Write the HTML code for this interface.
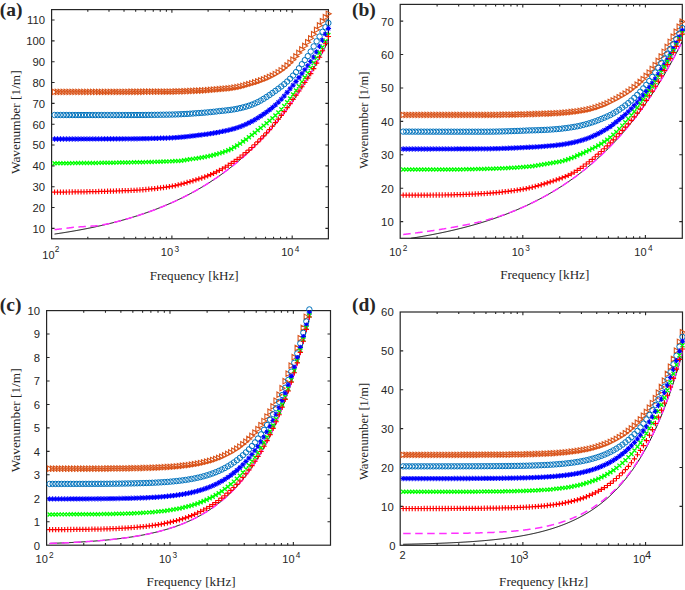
<!DOCTYPE html>
<html><head><meta charset="utf-8"><style>
html,body{margin:0;padding:0;background:#fff;width:685px;height:590px;overflow:hidden}
svg{display:block}
.t{font-family:"Liberation Sans",sans-serif;font-size:11px;fill:#262626}
.s{font-family:"Liberation Sans",sans-serif;font-size:8.3px;fill:#262626}
.l{font-family:"Liberation Serif",serif;font-size:13.1px;fill:#262626}
.p{font-family:"Liberation Serif",serif;font-size:19.5px;font-weight:bold;fill:#262626}
</style></head><body>
<svg width="685" height="590" viewBox="0 0 685 590">
<defs><clipPath id="clipa"><rect x="51.6" y="9.6" width="276.8" height="229.2"/></clipPath><clipPath id="clipb"><rect x="400.2" y="4.4" width="282.1" height="233.9"/></clipPath><clipPath id="clipc"><rect x="46.6" y="310.6" width="283.9" height="234.6"/></clipPath><clipPath id="clipd"><rect x="400.2" y="312" width="282.3" height="233.3"/></clipPath></defs>
<rect x="51.6" y="9.6" width="276.8" height="229.2" fill="none" stroke="#262626" stroke-width="1.2"/><path d="M51.6 228.38h3.0M328.4 228.38h-3.0M51.6 207.55h3.0M328.4 207.55h-3.0M51.6 186.71h3.0M328.4 186.71h-3.0M51.6 165.87h3.0M328.4 165.87h-3.0M51.6 145.04h3.0M328.4 145.04h-3.0M51.6 124.2h3.0M328.4 124.2h-3.0M51.6 103.36h3.0M328.4 103.36h-3.0M51.6 82.53h3.0M328.4 82.53h-3.0M51.6 61.69h3.0M328.4 61.69h-3.0M51.6 40.85h3.0M328.4 40.85h-3.0M51.6 20.02h3.0M328.4 20.02h-3.0M87.81 238.8v-2.1M87.81 9.6v2.1M108.99 238.8v-2.1M108.99 9.6v2.1M124.02 238.8v-2.1M124.02 9.6v2.1M135.68 238.8v-2.1M135.68 9.6v2.1M145.21 238.8v-2.1M145.21 9.6v2.1M153.26 238.8v-2.1M153.26 9.6v2.1M160.24 238.8v-2.1M160.24 9.6v2.1M166.39 238.8v-2.1M166.39 9.6v2.1M171.89 238.8v-3.2M171.89 9.6v3.2M208.11 238.8v-2.1M208.11 9.6v2.1M229.29 238.8v-2.1M229.29 9.6v2.1M244.32 238.8v-2.1M244.32 9.6v2.1M255.98 238.8v-2.1M255.98 9.6v2.1M265.5 238.8v-2.1M265.5 9.6v2.1M273.55 238.8v-2.1M273.55 9.6v2.1M280.53 238.8v-2.1M280.53 9.6v2.1M286.68 238.8v-2.1M286.68 9.6v2.1M292.19 238.8v-3.2M292.19 9.6v3.2" stroke="#262626" stroke-width="1.1"/><rect x="400.2" y="4.4" width="282.1" height="233.9" fill="none" stroke="#262626" stroke-width="1.2"/><path d="M400.2 221.59h3.0M682.3 221.59h-3.0M400.2 188.18h3.0M682.3 188.18h-3.0M400.2 154.76h3.0M682.3 154.76h-3.0M400.2 121.35h3.0M682.3 121.35h-3.0M400.2 87.94h3.0M682.3 87.94h-3.0M400.2 54.52h3.0M682.3 54.52h-3.0M400.2 21.11h3.0M682.3 21.11h-3.0M437.11 238.3v-2.1M437.11 4.4v2.1M458.69 238.3v-2.1M458.69 4.4v2.1M474.01 238.3v-2.1M474.01 4.4v2.1M485.89 238.3v-2.1M485.89 4.4v2.1M495.6 238.3v-2.1M495.6 4.4v2.1M503.81 238.3v-2.1M503.81 4.4v2.1M510.92 238.3v-2.1M510.92 4.4v2.1M517.19 238.3v-2.1M517.19 4.4v2.1M522.8 238.3v-3.2M522.8 4.4v3.2M559.7 238.3v-2.1M559.7 4.4v2.1M581.29 238.3v-2.1M581.29 4.4v2.1M596.61 238.3v-2.1M596.61 4.4v2.1M608.49 238.3v-2.1M608.49 4.4v2.1M618.2 238.3v-2.1M618.2 4.4v2.1M626.4 238.3v-2.1M626.4 4.4v2.1M633.51 238.3v-2.1M633.51 4.4v2.1M639.78 238.3v-2.1M639.78 4.4v2.1M645.39 238.3v-3.2M645.39 4.4v3.2" stroke="#262626" stroke-width="1.1"/><rect x="46.6" y="310.6" width="283.9" height="234.6" fill="none" stroke="#262626" stroke-width="1.2"/><path d="M46.6 521.74h3.0M330.5 521.74h-3.0M46.6 498.28h3.0M330.5 498.28h-3.0M46.6 474.82h3.0M330.5 474.82h-3.0M46.6 451.36h3.0M330.5 451.36h-3.0M46.6 427.9h3.0M330.5 427.9h-3.0M46.6 404.44h3.0M330.5 404.44h-3.0M46.6 380.98h3.0M330.5 380.98h-3.0M46.6 357.52h3.0M330.5 357.52h-3.0M46.6 334.06h3.0M330.5 334.06h-3.0M83.74 545.2v-2.1M83.74 310.6v2.1M105.47 545.2v-2.1M105.47 310.6v2.1M120.88 545.2v-2.1M120.88 310.6v2.1M132.84 545.2v-2.1M132.84 310.6v2.1M142.61 545.2v-2.1M142.61 310.6v2.1M150.87 545.2v-2.1M150.87 310.6v2.1M158.02 545.2v-2.1M158.02 310.6v2.1M164.33 545.2v-2.1M164.33 310.6v2.1M169.98 545.2v-3.2M169.98 310.6v3.2M207.12 545.2v-2.1M207.12 310.6v2.1M228.85 545.2v-2.1M228.85 310.6v2.1M244.26 545.2v-2.1M244.26 310.6v2.1M256.22 545.2v-2.1M256.22 310.6v2.1M265.99 545.2v-2.1M265.99 310.6v2.1M274.25 545.2v-2.1M274.25 310.6v2.1M281.4 545.2v-2.1M281.4 310.6v2.1M287.71 545.2v-2.1M287.71 310.6v2.1M293.36 545.2v-3.2M293.36 310.6v3.2" stroke="#262626" stroke-width="1.1"/><rect x="400.2" y="312" width="282.3" height="233.3" fill="none" stroke="#262626" stroke-width="1.2"/><path d="M400.2 506.42h3.0M682.5 506.42h-3.0M400.2 467.53h3.0M682.5 467.53h-3.0M400.2 428.65h3.0M682.5 428.65h-3.0M400.2 389.77h3.0M682.5 389.77h-3.0M400.2 350.88h3.0M682.5 350.88h-3.0M437.13 545.3v-2.1M437.13 312v2.1M458.74 545.3v-2.1M458.74 312v2.1M474.06 545.3v-2.1M474.06 312v2.1M485.95 545.3v-2.1M485.95 312v2.1M495.67 545.3v-2.1M495.67 312v2.1M503.88 545.3v-2.1M503.88 312v2.1M510.99 545.3v-2.1M510.99 312v2.1M517.27 545.3v-2.1M517.27 312v2.1M522.88 545.3v-3.2M522.88 312v3.2M559.82 545.3v-2.1M559.82 312v2.1M581.42 545.3v-2.1M581.42 312v2.1M596.75 545.3v-2.1M596.75 312v2.1M608.64 545.3v-2.1M608.64 312v2.1M618.35 545.3v-2.1M618.35 312v2.1M626.56 545.3v-2.1M626.56 312v2.1M633.68 545.3v-2.1M633.68 312v2.1M639.95 545.3v-2.1M639.95 312v2.1M645.57 545.3v-3.2M645.57 312v3.2" stroke="#262626" stroke-width="1.1"/>
<g clip-path="url(#clipa)"><path d="M54.55 234.07 L55.23 233.97 L55.92 233.87 L56.61 233.76 L57.29 233.66 L57.98 233.56 L58.66 233.46 L59.35 233.35 L60.04 233.25 L60.72 233.14 L61.41 233.04 L62.1 232.93 L62.78 232.82 L63.47 232.71 L64.15 232.61 L64.84 232.5 L65.53 232.39 L66.21 232.28 L66.9 232.16 L67.59 232.05 L68.27 231.94 L68.96 231.82 L69.65 231.71 L70.33 231.59 L71.02 231.48 L71.7 231.36 L72.39 231.24 L73.08 231.13 L73.76 231.01 L74.45 230.89 L75.14 230.77 L75.82 230.64 L76.51 230.52 L77.2 230.4 L77.88 230.27 L78.57 230.15 L79.25 230.02 L79.94 229.9 L80.63 229.77 L81.31 229.64 L82 229.51 L82.69 229.38 L83.37 229.25 L84.06 229.12 L84.75 228.99 L85.43 228.85 L86.12 228.72 L86.8 228.58 L87.49 228.45 L88.18 228.31 L88.86 228.17 L89.55 228.04 L90.24 227.9 L90.92 227.76 L91.61 227.61 L92.3 227.47 L92.98 227.33 L93.67 227.18 L94.35 227.04 L95.04 226.89 L95.73 226.75 L96.41 226.6 L97.1 226.45 L97.79 226.3 L98.47 226.15 L99.16 226 L99.85 225.84 L100.53 225.69 L101.22 225.53 L101.9 225.38 L102.59 225.22 L103.28 225.06 L103.96 224.9 L104.65 224.74 L105.34 224.58 L106.02 224.42 L106.71 224.26 L107.4 224.09 L108.08 223.92 L108.77 223.76 L109.45 223.59 L110.14 223.42 L110.83 223.25 L111.51 223.08 L112.2 222.91 L112.89 222.73 L113.57 222.56 L114.26 222.38 L114.94 222.21 L115.63 222.03 L116.32 221.85 L117 221.67 L117.69 221.49 L118.38 221.31 L119.06 221.12 L119.75 220.94 L120.44 220.75 L121.12 220.56 L121.81 220.37 L122.49 220.18 L123.18 219.99 L123.87 219.8 L124.55 219.61 L125.24 219.41 L125.93 219.21 L126.61 219.02 L127.3 218.82 L127.99 218.62 L128.67 218.42 L129.36 218.21 L130.04 218.01 L130.73 217.8 L131.42 217.6 L132.1 217.39 L132.79 217.18 L133.48 216.97 L134.16 216.75 L134.85 216.54 L135.54 216.32 L136.22 216.11 L136.91 215.89 L137.59 215.67 L138.28 215.45 L138.97 215.23 L139.65 215 L140.34 214.78 L141.03 214.55 L141.71 214.32 L142.4 214.09 L143.09 213.86 L143.77 213.63 L144.46 213.39 L145.14 213.16 L145.83 212.92 L146.52 212.68 L147.2 212.44 L147.89 212.2 L148.58 211.95 L149.26 211.71 L149.95 211.46 L150.64 211.21 L151.32 210.96 L152.01 210.71 L152.69 210.45 L153.38 210.2 L154.07 209.94 L154.75 209.68 L155.44 209.42 L156.13 209.16 L156.81 208.9 L157.5 208.63 L158.18 208.36 L158.87 208.09 L159.56 207.82 L160.24 207.55 L160.93 207.27 L161.62 207 L162.3 206.72 L162.99 206.44 L163.68 206.16 L164.36 205.87 L165.05 205.59 L165.73 205.3 L166.42 205.01 L167.11 204.72 L167.79 204.43 L168.48 204.13 L169.17 203.83 L169.85 203.53 L170.54 203.23 L171.23 202.93 L171.91 202.63 L172.6 202.32 L173.28 202.01 L173.97 201.7 L174.66 201.39 L175.34 201.07 L176.03 200.75 L176.72 200.43 L177.4 200.11 L178.09 199.79 L178.78 199.46 L179.46 199.13 L180.15 198.8 L180.83 198.47 L181.52 198.14 L182.21 197.8 L182.89 197.46 L183.58 197.12 L184.27 196.78 L184.95 196.43 L185.64 196.08 L186.33 195.73 L187.01 195.38 L187.7 195.03 L188.38 194.67 L189.07 194.31 L189.76 193.95 L190.44 193.58 L191.13 193.22 L191.82 192.85 L192.5 192.48 L193.19 192.1 L193.88 191.73 L194.56 191.35 L195.25 190.97 L195.93 190.58 L196.62 190.2 L197.31 189.81 L197.99 189.42 L198.68 189.02 L199.37 188.62 L200.05 188.22 L200.74 187.82 L201.43 187.42 L202.11 187.01 L202.8 186.6 L203.48 186.19 L204.17 185.77 L204.86 185.35 L205.54 184.93 L206.23 184.51 L206.92 184.08 L207.6 183.65 L208.29 183.22 L208.97 182.79 L209.66 182.35 L210.35 181.91 L211.03 181.47 L211.72 181.02 L212.41 180.57 L213.09 180.12 L213.78 179.66 L214.47 179.2 L215.15 178.74 L215.84 178.28 L216.52 177.81 L217.21 177.34 L217.9 176.87 L218.58 176.39 L219.27 175.91 L219.96 175.43 L220.64 174.94 L221.33 174.45 L222.02 173.96 L222.7 173.46 L223.39 172.96 L224.07 172.46 L224.76 171.95 L225.45 171.44 L226.13 170.93 L226.82 170.42 L227.51 169.9 L228.19 169.37 L228.88 168.85 L229.57 168.32 L230.25 167.78 L230.94 167.25 L231.62 166.71 L232.31 166.16 L233 165.62 L233.68 165.07 L234.37 164.51 L235.06 163.95 L235.74 163.39 L236.43 162.82 L237.12 162.26 L237.8 161.68 L238.49 161.11 L239.17 160.52 L239.86 159.94 L240.55 159.35 L241.23 158.76 L241.92 158.16 L242.61 157.56 L243.29 156.96 L243.98 156.35 L244.67 155.74 L245.35 155.12 L246.04 154.5 L246.72 153.88 L247.41 153.25 L248.1 152.62 L248.78 151.98 L249.47 151.34 L250.16 150.7 L250.84 150.05 L251.53 149.39 L252.22 148.73 L252.9 148.07 L253.59 147.41 L254.27 146.73 L254.96 146.06 L255.65 145.38 L256.33 144.7 L257.02 144.01 L257.71 143.31 L258.39 142.62 L259.08 141.91 L259.76 141.21 L260.45 140.49 L261.14 139.78 L261.82 139.06 L262.51 138.33 L263.2 137.6 L263.88 136.86 L264.57 136.12 L265.26 135.38 L265.94 134.63 L266.63 133.87 L267.31 133.11 L268 132.35 L268.69 131.58 L269.37 130.8 L270.06 130.02 L270.75 129.23 L271.43 128.44 L272.12 127.65 L272.81 126.85 L273.49 126.04 L274.18 125.23 L274.86 124.41 L275.55 123.59 L276.24 122.76 L276.92 121.93 L277.61 121.09 L278.3 120.24 L278.98 119.39 L279.67 118.54 L280.36 117.68 L281.04 116.81 L281.73 115.94 L282.41 115.06 L283.1 114.18 L283.79 113.29 L284.47 112.39 L285.16 111.49 L285.85 110.58 L286.53 109.67 L287.22 108.75 L287.91 107.82 L288.59 106.89 L289.28 105.95 L289.96 105.01 L290.65 104.06 L291.34 103.1 L292.02 102.14 L292.71 101.17 L293.4 100.19 L294.08 99.21 L294.77 98.22 L295.46 97.23 L296.14 96.22 L296.83 95.22 L297.51 94.2 L298.2 93.18 L298.89 92.15 L299.57 91.12 L300.26 90.07 L300.95 89.02 L301.63 87.97 L302.32 86.91 L303.01 85.84 L303.69 84.76 L304.38 83.68 L305.06 82.59 L305.75 81.49 L306.44 80.38 L307.12 79.27 L307.81 78.15 L308.5 77.02 L309.18 75.89 L309.87 74.74 L310.55 73.59 L311.24 72.44 L311.93 71.27 L312.61 70.1 L313.3 68.92 L313.99 67.73 L314.67 66.53 L315.36 65.33 L316.05 64.12 L316.73 62.9 L317.42 61.67 L318.1 60.43 L318.79 59.19 L319.48 57.94 L320.16 56.68 L320.85 55.41 L321.54 54.13 L322.22 52.85 L322.91 51.55 L323.6 50.25 L324.28 48.94 L324.97 47.62 L325.65 46.29 L326.34 44.95 L327.03 43.61 L327.71 42.25 L328.4 40.89" fill="none" stroke="#000" stroke-width="1.0"/><path d="M54.55 229.67 L55.23 229.59 L55.92 229.51 L56.61 229.44 L57.29 229.36 L57.98 229.28 L58.66 229.2 L59.35 229.12 L60.04 229.04 L60.72 228.96 L61.41 228.87 L62.1 228.79 L62.78 228.71 L63.47 228.62 L64.15 228.54 L64.84 228.45 L65.53 228.36 L66.21 228.28 L66.9 228.19 L67.59 228.1 L68.27 228.01 L68.96 227.92 L69.65 227.83 L70.33 227.73 L71.02 227.64 L71.7 227.55 L72.39 227.45 L73.08 227.36 L73.76 227.26 L74.45 227.17 L75.14 227.08 L75.82 227.05 L76.51 227.02 L77.2 226.98 L77.88 226.95 L78.57 226.92 L79.25 226.88 L79.94 226.84 L80.63 226.81 L81.31 226.77 L82 226.73 L82.69 226.69 L83.37 226.65 L84.06 226.6 L84.75 226.56 L85.43 226.52 L86.12 226.47 L86.8 226.43 L87.49 226.38 L88.18 226.34 L88.86 226.3 L89.55 226.25 L90.24 226.21 L90.92 226.16 L91.61 226.12 L92.3 226.07 L92.98 226.03 L93.67 225.98 L94.35 225.93 L95.04 225.88 L95.73 225.83 L96.41 225.78 L97.1 225.72 L97.79 225.67 L98.47 225.57 L99.16 225.44 L99.85 225.32 L100.53 225.2 L101.22 225.07 L101.9 224.94 L102.59 224.82 L103.28 224.69 L103.96 224.56 L104.65 224.43 L105.34 224.3 L106.02 224.16 L106.71 224.03 L107.4 223.89 L108.08 223.76 L108.77 223.62 L109.45 223.48 L110.14 223.34 L110.83 223.2 L111.51 223.06 L112.2 222.91 L112.89 222.73 L113.57 222.56 L114.26 222.38 L114.94 222.21 L115.63 222.03 L116.32 221.85 L117 221.67 L117.69 221.49 L118.38 221.31 L119.06 221.12 L119.75 220.94 L120.44 220.75 L121.12 220.56 L121.81 220.37 L122.49 220.18 L123.18 219.99 L123.87 219.8 L124.55 219.61 L125.24 219.41 L125.93 219.21 L126.61 219.02 L127.3 218.82 L127.99 218.62 L128.67 218.42 L129.36 218.21 L130.04 218.01 L130.73 217.8 L131.42 217.6 L132.1 217.39 L132.79 217.18 L133.48 216.97 L134.16 216.75 L134.85 216.54 L135.54 216.32 L136.22 216.11 L136.91 215.89 L137.59 215.67 L138.28 215.45 L138.97 215.23 L139.65 215 L140.34 214.78 L141.03 214.55 L141.71 214.32 L142.4 214.09 L143.09 213.86 L143.77 213.63 L144.46 213.39 L145.14 213.16 L145.83 212.92 L146.52 212.68 L147.2 212.44 L147.89 212.2 L148.58 211.95 L149.26 211.71 L149.95 211.46 L150.64 211.21 L151.32 210.96 L152.01 210.71 L152.69 210.45 L153.38 210.2 L154.07 209.94 L154.75 209.68 L155.44 209.42 L156.13 209.16 L156.81 208.9 L157.5 208.63 L158.18 208.36 L158.87 208.09 L159.56 207.82 L160.24 207.55 L160.93 207.27 L161.62 207 L162.3 206.72 L162.99 206.44 L163.68 206.16 L164.36 205.87 L165.05 205.59 L165.73 205.3 L166.42 205.01 L167.11 204.72 L167.79 204.43 L168.48 204.13 L169.17 203.83 L169.85 203.53 L170.54 203.23 L171.23 202.93 L171.91 202.63 L172.6 202.32 L173.28 202.01 L173.97 201.7 L174.66 201.39 L175.34 201.07 L176.03 200.75 L176.72 200.43 L177.4 200.11 L178.09 199.79 L178.78 199.46 L179.46 199.13 L180.15 198.8 L180.83 198.47 L181.52 198.14 L182.21 197.8 L182.89 197.46 L183.58 197.12 L184.27 196.78 L184.95 196.43 L185.64 196.08 L186.33 195.73 L187.01 195.38 L187.7 195.03 L188.38 194.67 L189.07 194.31 L189.76 193.95 L190.44 193.58 L191.13 193.22 L191.82 192.85 L192.5 192.48 L193.19 192.1 L193.88 191.73 L194.56 191.35 L195.25 190.97 L195.93 190.58 L196.62 190.2 L197.31 189.81 L197.99 189.42 L198.68 189.02 L199.37 188.62 L200.05 188.22 L200.74 187.82 L201.43 187.42 L202.11 187.01 L202.8 186.6 L203.48 186.19 L204.17 185.77 L204.86 185.35 L205.54 184.93 L206.23 184.51 L206.92 184.08 L207.6 183.65 L208.29 183.22 L208.97 182.79 L209.66 182.35 L210.35 181.91 L211.03 181.47 L211.72 181.02 L212.41 180.57 L213.09 180.12 L213.78 179.66 L214.47 179.2 L215.15 178.74 L215.84 178.28 L216.52 177.81 L217.21 177.34 L217.9 176.87 L218.58 176.39 L219.27 175.91 L219.96 175.43 L220.64 174.94 L221.33 174.45 L222.02 173.96 L222.7 173.46 L223.39 172.96 L224.07 172.46 L224.76 171.95 L225.45 171.44 L226.13 170.93 L226.82 170.42 L227.51 169.9 L228.19 169.37 L228.88 168.85 L229.57 168.32 L230.25 167.78 L230.94 167.25 L231.62 166.71 L232.31 166.16 L233 165.62 L233.68 165.07 L234.37 164.51 L235.06 163.95 L235.74 163.39 L236.43 162.82 L237.12 162.26 L237.8 161.68 L238.49 161.11 L239.17 160.52 L239.86 159.94 L240.55 159.35 L241.23 158.76 L241.92 158.16 L242.61 157.56 L243.29 156.96 L243.98 156.35 L244.67 155.74 L245.35 155.12 L246.04 154.5 L246.72 153.88 L247.41 153.25 L248.1 152.62 L248.78 151.98 L249.47 151.34 L250.16 150.7 L250.84 150.05 L251.53 149.39 L252.22 148.73 L252.9 148.07 L253.59 147.41 L254.27 146.73 L254.96 146.06 L255.65 145.38 L256.33 144.7 L257.02 144.01 L257.71 143.31 L258.39 142.62 L259.08 141.91 L259.76 141.21 L260.45 140.49 L261.14 139.78 L261.82 139.06 L262.51 138.33 L263.2 137.6 L263.88 136.86 L264.57 136.12 L265.26 135.38 L265.94 134.63 L266.63 133.87 L267.31 133.11 L268 132.35 L268.69 131.58 L269.37 130.8 L270.06 130.02 L270.75 129.23 L271.43 128.44 L272.12 127.65 L272.81 126.85 L273.49 126.04 L274.18 125.23 L274.86 124.41 L275.55 123.59 L276.24 122.76 L276.92 121.93 L277.61 121.09 L278.3 120.24 L278.98 119.39 L279.67 118.54 L280.36 117.68 L281.04 116.81 L281.73 115.94 L282.41 115.06 L283.1 114.18 L283.79 113.29 L284.47 112.39 L285.16 111.49 L285.85 110.58 L286.53 109.67 L287.22 108.75 L287.91 107.82 L288.59 106.89 L289.28 105.95 L289.96 105.01 L290.65 104.06 L291.34 103.1 L292.02 102.14 L292.71 101.17 L293.4 100.19 L294.08 99.21 L294.77 98.22 L295.46 97.23 L296.14 96.22 L296.83 95.22 L297.51 94.2 L298.2 93.18 L298.89 92.15 L299.57 91.12 L300.26 90.07 L300.95 89.02 L301.63 87.97 L302.32 86.91 L303.01 85.84 L303.69 84.76 L304.38 83.68 L305.06 82.59 L305.75 81.49 L306.44 80.38 L307.12 79.27 L307.81 78.15 L308.5 77.02 L309.18 75.89 L309.87 74.74 L310.55 73.59 L311.24 72.44 L311.93 71.27 L312.61 70.1 L313.3 68.92 L313.99 67.73 L314.67 66.53 L315.36 65.33 L316.05 64.12 L316.73 62.9 L317.42 61.67 L318.1 60.43 L318.79 59.19 L319.48 57.94 L320.16 56.68 L320.85 55.41 L321.54 54.13 L322.22 52.85 L322.91 51.55 L323.6 50.25 L324.28 48.94 L324.97 47.62 L325.65 46.29 L326.34 44.95 L327.03 43.61 L327.71 42.25 L328.4 40.89" fill="none" stroke="#FF30FF" stroke-width="1.5" stroke-dasharray="7.5 4.5"/></g><path d="M52.35 89.3L57.35 92L52.35 94.7ZM55.29 89.29L60.29 91.99L55.29 94.69ZM58.24 89.29L63.24 91.99L58.24 94.69ZM61.18 89.29L66.18 91.99L61.18 94.69ZM64.12 89.28L69.12 91.98L64.12 94.68ZM67.07 89.28L72.07 91.98L67.07 94.68ZM70.01 89.27L75.01 91.97L70.01 94.67ZM72.96 89.26L77.96 91.96L72.96 94.66ZM75.9 89.26L80.9 91.96L75.9 94.66ZM78.85 89.25L83.85 91.95L78.85 94.65ZM81.79 89.24L86.79 91.94L81.79 94.64ZM84.74 89.24L89.74 91.94L84.74 94.64ZM87.68 89.23L92.68 91.93L87.68 94.63ZM90.63 89.22L95.63 91.92L90.63 94.62ZM93.57 89.21L98.57 91.91L93.57 94.61ZM96.52 89.2L101.52 91.9L96.52 94.6ZM99.46 89.19L104.46 91.89L99.46 94.59ZM102.41 89.19L107.41 91.89L102.41 94.59ZM105.35 89.18L110.35 91.88L105.35 94.58ZM108.29 89.17L113.29 91.87L108.29 94.57ZM111.24 89.16L116.24 91.86L111.24 94.56ZM114.18 89.15L119.18 91.85L114.18 94.55ZM117.13 89.14L122.13 91.84L117.13 94.54ZM120.07 89.13L125.07 91.83L120.07 94.53ZM123.02 89.12L128.02 91.82L123.02 94.52ZM125.96 89.11L130.96 91.81L125.96 94.51ZM128.91 89.1L133.91 91.8L128.91 94.5ZM131.85 89.09L136.85 91.79L131.85 94.49ZM134.8 89.08L139.8 91.78L134.8 94.48ZM137.74 89.07L142.74 91.77L137.74 94.47ZM140.69 89.06L145.69 91.76L140.69 94.46ZM143.63 89.04L148.63 91.74L143.63 94.44ZM146.58 89.03L151.58 91.73L146.58 94.43ZM149.52 89.02L154.52 91.72L149.52 94.42ZM152.46 89.01L157.46 91.71L152.46 94.41ZM155.41 88.99L160.41 91.69L155.41 94.39ZM158.35 88.97L163.35 91.67L158.35 94.37ZM161.3 88.95L166.3 91.65L161.3 94.35ZM164.24 88.93L169.24 91.63L164.24 94.33ZM167.19 88.9L172.19 91.6L167.19 94.3ZM170.13 88.87L175.13 91.57L170.13 94.27ZM173.08 88.82L178.08 91.52L173.08 94.22ZM176.02 88.75L181.02 91.45L176.02 94.15ZM178.97 88.67L183.97 91.37L178.97 94.07ZM181.91 88.57L186.91 91.27L181.91 93.97ZM184.86 88.47L189.86 91.17L184.86 93.87ZM187.8 88.35L192.8 91.05L187.8 93.75ZM190.75 88.22L195.75 90.92L190.75 93.62ZM193.69 88.09L198.69 90.79L193.69 93.49ZM196.63 87.95L201.63 90.65L196.63 93.35ZM199.58 87.81L204.58 90.51L199.58 93.21ZM202.52 87.64L207.52 90.34L202.52 93.04ZM205.47 87.45L210.47 90.15L205.47 92.85ZM208.41 87.24L213.41 89.94L208.41 92.64ZM211.36 87L216.36 89.7L211.36 92.4ZM214.3 86.74L219.3 89.44L214.3 92.14ZM217.25 86.45L222.25 89.15L217.25 91.85ZM220.19 86.26L225.19 88.96L220.19 91.66ZM223.14 86.03L228.14 88.73L223.14 91.43ZM226.08 85.73L231.08 88.43L226.08 91.13ZM229.03 85.37L234.03 88.07L229.03 90.77ZM231.97 84.94L236.97 87.64L231.97 90.34ZM234.92 84.43L239.92 87.13L234.92 89.83ZM237.86 83.88L242.86 86.58L237.86 89.28ZM240.8 83.12L245.8 85.82L240.8 88.52ZM243.75 82.33L248.75 85.03L243.75 87.73ZM246.69 81.49L251.69 84.19L246.69 86.89ZM249.64 80.64L254.64 83.34L249.64 86.04ZM252.58 79.75L257.58 82.45L252.58 85.15ZM255.53 78.81L260.53 81.51L255.53 84.21ZM258.47 77.81L263.47 80.51L258.47 83.21ZM261.42 76.72L266.42 79.42L261.42 82.12ZM264.36 75.58L269.36 78.28L264.36 80.98ZM267.31 74.35L272.31 77.05L267.31 79.75ZM270.25 72.95L275.25 75.65L270.25 78.35ZM273.2 71.37L278.2 74.07L273.2 76.77ZM276.14 69.62L281.14 72.32L276.14 75.02ZM279.09 67.62L284.09 70.32L279.09 73.02ZM282.03 65.32L287.03 68.02L282.03 70.72ZM284.97 62.81L289.97 65.51L284.97 68.21ZM287.92 60.06L292.92 62.76L287.92 65.46ZM290.86 57.01L295.86 59.71L290.86 62.41ZM293.81 53.68L298.81 56.38L293.81 59.08ZM296.75 50.24L301.75 52.94L296.75 55.64ZM299.7 46.75L304.7 49.45L299.7 52.15ZM302.64 43.21L307.64 45.91L302.64 48.61ZM305.59 39.55L310.59 42.25L305.59 44.95ZM308.53 35.67L313.53 38.37L308.53 41.07ZM311.48 31.52L316.48 34.22L311.48 36.92ZM314.42 27.16L319.42 29.86L314.42 32.56ZM317.37 22.79L322.37 25.49L317.37 28.19ZM320.31 18.55L325.31 21.25L320.31 23.95ZM323.26 14.54L328.26 17.24L323.26 19.94ZM326.2 11.11L331.2 13.81L326.2 16.51Z" fill="none" stroke="#D95319" stroke-width="1.1"/><path d="M51.85 115a2.7 2.7 0 1 0 5.4 0a2.7 2.7 0 1 0 -5.4 0M54.79 115.01a2.7 2.7 0 1 0 5.4 0a2.7 2.7 0 1 0 -5.4 0M57.74 115.01a2.7 2.7 0 1 0 5.4 0a2.7 2.7 0 1 0 -5.4 0M60.68 115.02a2.7 2.7 0 1 0 5.4 0a2.7 2.7 0 1 0 -5.4 0M63.62 115.02a2.7 2.7 0 1 0 5.4 0a2.7 2.7 0 1 0 -5.4 0M66.57 115.03a2.7 2.7 0 1 0 5.4 0a2.7 2.7 0 1 0 -5.4 0M69.51 115.03a2.7 2.7 0 1 0 5.4 0a2.7 2.7 0 1 0 -5.4 0M72.46 115.03a2.7 2.7 0 1 0 5.4 0a2.7 2.7 0 1 0 -5.4 0M75.4 115.03a2.7 2.7 0 1 0 5.4 0a2.7 2.7 0 1 0 -5.4 0M78.35 115.04a2.7 2.7 0 1 0 5.4 0a2.7 2.7 0 1 0 -5.4 0M81.29 115.04a2.7 2.7 0 1 0 5.4 0a2.7 2.7 0 1 0 -5.4 0M84.24 115.04a2.7 2.7 0 1 0 5.4 0a2.7 2.7 0 1 0 -5.4 0M87.18 115.04a2.7 2.7 0 1 0 5.4 0a2.7 2.7 0 1 0 -5.4 0M90.13 115.04a2.7 2.7 0 1 0 5.4 0a2.7 2.7 0 1 0 -5.4 0M93.07 115.05a2.7 2.7 0 1 0 5.4 0a2.7 2.7 0 1 0 -5.4 0M96.02 115.05a2.7 2.7 0 1 0 5.4 0a2.7 2.7 0 1 0 -5.4 0M98.96 115.05a2.7 2.7 0 1 0 5.4 0a2.7 2.7 0 1 0 -5.4 0M101.91 115.05a2.7 2.7 0 1 0 5.4 0a2.7 2.7 0 1 0 -5.4 0M104.85 115.05a2.7 2.7 0 1 0 5.4 0a2.7 2.7 0 1 0 -5.4 0M107.79 115.05a2.7 2.7 0 1 0 5.4 0a2.7 2.7 0 1 0 -5.4 0M110.74 115.05a2.7 2.7 0 1 0 5.4 0a2.7 2.7 0 1 0 -5.4 0M113.68 115.05a2.7 2.7 0 1 0 5.4 0a2.7 2.7 0 1 0 -5.4 0M116.63 115.05a2.7 2.7 0 1 0 5.4 0a2.7 2.7 0 1 0 -5.4 0M119.57 115.05a2.7 2.7 0 1 0 5.4 0a2.7 2.7 0 1 0 -5.4 0M122.52 115.05a2.7 2.7 0 1 0 5.4 0a2.7 2.7 0 1 0 -5.4 0M125.46 115.05a2.7 2.7 0 1 0 5.4 0a2.7 2.7 0 1 0 -5.4 0M128.41 115.05a2.7 2.7 0 1 0 5.4 0a2.7 2.7 0 1 0 -5.4 0M131.35 115.04a2.7 2.7 0 1 0 5.4 0a2.7 2.7 0 1 0 -5.4 0M134.3 115.03a2.7 2.7 0 1 0 5.4 0a2.7 2.7 0 1 0 -5.4 0M137.24 115.01a2.7 2.7 0 1 0 5.4 0a2.7 2.7 0 1 0 -5.4 0M140.19 114.99a2.7 2.7 0 1 0 5.4 0a2.7 2.7 0 1 0 -5.4 0M143.13 114.97a2.7 2.7 0 1 0 5.4 0a2.7 2.7 0 1 0 -5.4 0M146.08 114.93a2.7 2.7 0 1 0 5.4 0a2.7 2.7 0 1 0 -5.4 0M149.02 114.9a2.7 2.7 0 1 0 5.4 0a2.7 2.7 0 1 0 -5.4 0M151.96 114.86a2.7 2.7 0 1 0 5.4 0a2.7 2.7 0 1 0 -5.4 0M154.91 114.82a2.7 2.7 0 1 0 5.4 0a2.7 2.7 0 1 0 -5.4 0M157.85 114.77a2.7 2.7 0 1 0 5.4 0a2.7 2.7 0 1 0 -5.4 0M160.8 114.72a2.7 2.7 0 1 0 5.4 0a2.7 2.7 0 1 0 -5.4 0M163.74 114.67a2.7 2.7 0 1 0 5.4 0a2.7 2.7 0 1 0 -5.4 0M166.69 114.61a2.7 2.7 0 1 0 5.4 0a2.7 2.7 0 1 0 -5.4 0M169.63 114.54a2.7 2.7 0 1 0 5.4 0a2.7 2.7 0 1 0 -5.4 0M172.58 114.45a2.7 2.7 0 1 0 5.4 0a2.7 2.7 0 1 0 -5.4 0M175.52 114.34a2.7 2.7 0 1 0 5.4 0a2.7 2.7 0 1 0 -5.4 0M178.47 114.2a2.7 2.7 0 1 0 5.4 0a2.7 2.7 0 1 0 -5.4 0M181.41 114.05a2.7 2.7 0 1 0 5.4 0a2.7 2.7 0 1 0 -5.4 0M184.36 113.88a2.7 2.7 0 1 0 5.4 0a2.7 2.7 0 1 0 -5.4 0M187.3 113.69a2.7 2.7 0 1 0 5.4 0a2.7 2.7 0 1 0 -5.4 0M190.25 113.5a2.7 2.7 0 1 0 5.4 0a2.7 2.7 0 1 0 -5.4 0M193.19 113.29a2.7 2.7 0 1 0 5.4 0a2.7 2.7 0 1 0 -5.4 0M196.13 113.08a2.7 2.7 0 1 0 5.4 0a2.7 2.7 0 1 0 -5.4 0M199.08 112.86a2.7 2.7 0 1 0 5.4 0a2.7 2.7 0 1 0 -5.4 0M202.02 112.63a2.7 2.7 0 1 0 5.4 0a2.7 2.7 0 1 0 -5.4 0M204.97 112.37a2.7 2.7 0 1 0 5.4 0a2.7 2.7 0 1 0 -5.4 0M207.91 112.08a2.7 2.7 0 1 0 5.4 0a2.7 2.7 0 1 0 -5.4 0M210.86 111.78a2.7 2.7 0 1 0 5.4 0a2.7 2.7 0 1 0 -5.4 0M213.8 111.45a2.7 2.7 0 1 0 5.4 0a2.7 2.7 0 1 0 -5.4 0M216.75 111.09a2.7 2.7 0 1 0 5.4 0a2.7 2.7 0 1 0 -5.4 0M219.69 110.8a2.7 2.7 0 1 0 5.4 0a2.7 2.7 0 1 0 -5.4 0M222.64 110.5a2.7 2.7 0 1 0 5.4 0a2.7 2.7 0 1 0 -5.4 0M225.58 110.16a2.7 2.7 0 1 0 5.4 0a2.7 2.7 0 1 0 -5.4 0M228.53 109.78a2.7 2.7 0 1 0 5.4 0a2.7 2.7 0 1 0 -5.4 0M231.47 109.32a2.7 2.7 0 1 0 5.4 0a2.7 2.7 0 1 0 -5.4 0M234.42 108.77a2.7 2.7 0 1 0 5.4 0a2.7 2.7 0 1 0 -5.4 0M237.36 108.13a2.7 2.7 0 1 0 5.4 0a2.7 2.7 0 1 0 -5.4 0M240.3 107.42a2.7 2.7 0 1 0 5.4 0a2.7 2.7 0 1 0 -5.4 0M243.25 106.63a2.7 2.7 0 1 0 5.4 0a2.7 2.7 0 1 0 -5.4 0M246.19 105.73a2.7 2.7 0 1 0 5.4 0a2.7 2.7 0 1 0 -5.4 0M249.14 104.69a2.7 2.7 0 1 0 5.4 0a2.7 2.7 0 1 0 -5.4 0M252.08 103.5a2.7 2.7 0 1 0 5.4 0a2.7 2.7 0 1 0 -5.4 0M255.03 102.14a2.7 2.7 0 1 0 5.4 0a2.7 2.7 0 1 0 -5.4 0M257.97 100.57a2.7 2.7 0 1 0 5.4 0a2.7 2.7 0 1 0 -5.4 0M260.92 98.82a2.7 2.7 0 1 0 5.4 0a2.7 2.7 0 1 0 -5.4 0M263.86 96.97a2.7 2.7 0 1 0 5.4 0a2.7 2.7 0 1 0 -5.4 0M266.81 95a2.7 2.7 0 1 0 5.4 0a2.7 2.7 0 1 0 -5.4 0M269.75 92.96a2.7 2.7 0 1 0 5.4 0a2.7 2.7 0 1 0 -5.4 0M272.7 90.86a2.7 2.7 0 1 0 5.4 0a2.7 2.7 0 1 0 -5.4 0M275.64 88.7a2.7 2.7 0 1 0 5.4 0a2.7 2.7 0 1 0 -5.4 0M278.59 86.48a2.7 2.7 0 1 0 5.4 0a2.7 2.7 0 1 0 -5.4 0M281.53 84.15a2.7 2.7 0 1 0 5.4 0a2.7 2.7 0 1 0 -5.4 0M284.47 81.53a2.7 2.7 0 1 0 5.4 0a2.7 2.7 0 1 0 -5.4 0M287.42 78.67a2.7 2.7 0 1 0 5.4 0a2.7 2.7 0 1 0 -5.4 0M290.36 75.57a2.7 2.7 0 1 0 5.4 0a2.7 2.7 0 1 0 -5.4 0M293.31 72.14a2.7 2.7 0 1 0 5.4 0a2.7 2.7 0 1 0 -5.4 0M296.25 68.33a2.7 2.7 0 1 0 5.4 0a2.7 2.7 0 1 0 -5.4 0M299.2 64.2a2.7 2.7 0 1 0 5.4 0a2.7 2.7 0 1 0 -5.4 0M302.14 60.14a2.7 2.7 0 1 0 5.4 0a2.7 2.7 0 1 0 -5.4 0M305.09 56.14a2.7 2.7 0 1 0 5.4 0a2.7 2.7 0 1 0 -5.4 0M308.03 51.59a2.7 2.7 0 1 0 5.4 0a2.7 2.7 0 1 0 -5.4 0M310.98 46.4a2.7 2.7 0 1 0 5.4 0a2.7 2.7 0 1 0 -5.4 0M313.92 41.31a2.7 2.7 0 1 0 5.4 0a2.7 2.7 0 1 0 -5.4 0M316.87 36.54a2.7 2.7 0 1 0 5.4 0a2.7 2.7 0 1 0 -5.4 0M319.81 31.79a2.7 2.7 0 1 0 5.4 0a2.7 2.7 0 1 0 -5.4 0M322.76 27.19a2.7 2.7 0 1 0 5.4 0a2.7 2.7 0 1 0 -5.4 0M325.7 23.01a2.7 2.7 0 1 0 5.4 0a2.7 2.7 0 1 0 -5.4 0" fill="none" stroke="#0072BD" stroke-width="1.0"/><path d="M51.9 139h5.3M54.55 136.35v5.3M52.65 137.1l3.8 3.8M52.65 140.9l3.8 -3.8M54.84 139h5.3M57.49 136.35v5.3M55.59 137.1l3.8 3.8M55.59 140.9l3.8 -3.8M57.79 139h5.3M60.44 136.35v5.3M58.54 137.1l3.8 3.8M58.54 140.9l3.8 -3.8M60.73 139h5.3M63.38 136.35v5.3M61.48 137.1l3.8 3.8M61.48 140.9l3.8 -3.8M63.67 138.99h5.3M66.32 136.34v5.3M64.42 137.09l3.8 3.8M64.42 140.89l3.8 -3.8M66.62 138.99h5.3M69.27 136.34v5.3M67.37 137.09l3.8 3.8M67.37 140.89l3.8 -3.8M69.56 138.99h5.3M72.21 136.34v5.3M70.31 137.09l3.8 3.8M70.31 140.89l3.8 -3.8M72.51 138.98h5.3M75.16 136.33v5.3M73.26 137.08l3.8 3.8M73.26 140.88l3.8 -3.8M75.45 138.98h5.3M78.1 136.33v5.3M76.2 137.08l3.8 3.8M76.2 140.88l3.8 -3.8M78.4 138.97h5.3M81.05 136.32v5.3M79.15 137.07l3.8 3.8M79.15 140.87l3.8 -3.8M81.34 138.97h5.3M83.99 136.32v5.3M82.09 137.07l3.8 3.8M82.09 140.87l3.8 -3.8M84.29 138.96h5.3M86.94 136.31v5.3M85.04 137.06l3.8 3.8M85.04 140.86l3.8 -3.8M87.23 138.95h5.3M89.88 136.3v5.3M87.98 137.05l3.8 3.8M87.98 140.85l3.8 -3.8M90.18 138.94h5.3M92.83 136.29v5.3M90.93 137.04l3.8 3.8M90.93 140.84l3.8 -3.8M93.12 138.94h5.3M95.77 136.29v5.3M93.87 137.04l3.8 3.8M93.87 140.84l3.8 -3.8M96.07 138.93h5.3M98.72 136.28v5.3M96.82 137.03l3.8 3.8M96.82 140.83l3.8 -3.8M99.01 138.92h5.3M101.66 136.27v5.3M99.76 137.02l3.8 3.8M99.76 140.82l3.8 -3.8M101.96 138.91h5.3M104.61 136.26v5.3M102.71 137.01l3.8 3.8M102.71 140.81l3.8 -3.8M104.9 138.9h5.3M107.55 136.25v5.3M105.65 137l3.8 3.8M105.65 140.8l3.8 -3.8M107.84 138.89h5.3M110.49 136.24v5.3M108.59 136.99l3.8 3.8M108.59 140.79l3.8 -3.8M110.79 138.88h5.3M113.44 136.23v5.3M111.54 136.98l3.8 3.8M111.54 140.78l3.8 -3.8M113.73 138.86h5.3M116.38 136.21v5.3M114.48 136.96l3.8 3.8M114.48 140.76l3.8 -3.8M116.68 138.85h5.3M119.33 136.2v5.3M117.43 136.95l3.8 3.8M117.43 140.75l3.8 -3.8M119.62 138.84h5.3M122.27 136.19v5.3M120.37 136.94l3.8 3.8M120.37 140.74l3.8 -3.8M122.57 138.82h5.3M125.22 136.17v5.3M123.32 136.92l3.8 3.8M123.32 140.72l3.8 -3.8M125.51 138.81h5.3M128.16 136.16v5.3M126.26 136.91l3.8 3.8M126.26 140.71l3.8 -3.8M128.46 138.79h5.3M131.11 136.14v5.3M129.21 136.89l3.8 3.8M129.21 140.69l3.8 -3.8M131.4 138.77h5.3M134.05 136.12v5.3M132.15 136.87l3.8 3.8M132.15 140.67l3.8 -3.8M134.35 138.74h5.3M137 136.09v5.3M135.1 136.84l3.8 3.8M135.1 140.64l3.8 -3.8M137.29 138.7h5.3M139.94 136.05v5.3M138.04 136.8l3.8 3.8M138.04 140.6l3.8 -3.8M140.24 138.65h5.3M142.89 136v5.3M140.99 136.75l3.8 3.8M140.99 140.55l3.8 -3.8M143.18 138.6h5.3M145.83 135.95v5.3M143.93 136.7l3.8 3.8M143.93 140.5l3.8 -3.8M146.13 138.54h5.3M148.78 135.89v5.3M146.88 136.64l3.8 3.8M146.88 140.44l3.8 -3.8M149.07 138.47h5.3M151.72 135.82v5.3M149.82 136.57l3.8 3.8M149.82 140.37l3.8 -3.8M152.01 138.39h5.3M154.66 135.74v5.3M152.76 136.49l3.8 3.8M152.76 140.29l3.8 -3.8M154.96 138.31h5.3M157.61 135.66v5.3M155.71 136.41l3.8 3.8M155.71 140.21l3.8 -3.8M157.9 138.22h5.3M160.55 135.57v5.3M158.65 136.32l3.8 3.8M158.65 140.12l3.8 -3.8M160.85 138.13h5.3M163.5 135.48v5.3M161.6 136.23l3.8 3.8M161.6 140.03l3.8 -3.8M163.79 138.03h5.3M166.44 135.38v5.3M164.54 136.13l3.8 3.8M164.54 139.93l3.8 -3.8M166.74 137.92h5.3M169.39 135.27v5.3M167.49 136.02l3.8 3.8M167.49 139.82l3.8 -3.8M169.68 137.79h5.3M172.33 135.14v5.3M170.43 135.89l3.8 3.8M170.43 139.69l3.8 -3.8M172.63 137.62h5.3M175.28 134.97v5.3M173.38 135.72l3.8 3.8M173.38 139.52l3.8 -3.8M175.57 137.41h5.3M178.22 134.76v5.3M176.32 135.51l3.8 3.8M176.32 139.31l3.8 -3.8M178.52 137.16h5.3M181.17 134.51v5.3M179.27 135.26l3.8 3.8M179.27 139.06l3.8 -3.8M181.46 136.89h5.3M184.11 134.24v5.3M182.21 134.99l3.8 3.8M182.21 138.79l3.8 -3.8M184.41 136.58h5.3M187.06 133.93v5.3M185.16 134.68l3.8 3.8M185.16 138.48l3.8 -3.8M187.35 136.25h5.3M190 133.6v5.3M188.1 134.35l3.8 3.8M188.1 138.15l3.8 -3.8M190.3 135.9h5.3M192.95 133.25v5.3M191.05 134l3.8 3.8M191.05 137.8l3.8 -3.8M193.24 135.53h5.3M195.89 132.88v5.3M193.99 133.63l3.8 3.8M193.99 137.43l3.8 -3.8M196.18 135.15h5.3M198.83 132.5v5.3M196.93 133.25l3.8 3.8M196.93 137.05l3.8 -3.8M199.13 134.8h5.3M201.78 132.15v5.3M199.88 132.9l3.8 3.8M199.88 136.7l3.8 -3.8M202.07 134.45h5.3M204.72 131.8v5.3M202.82 132.55l3.8 3.8M202.82 136.35l3.8 -3.8M205.02 134.06h5.3M207.67 131.41v5.3M205.77 132.16l3.8 3.8M205.77 135.96l3.8 -3.8M207.96 133.61h5.3M210.61 130.96v5.3M208.71 131.71l3.8 3.8M208.71 135.51l3.8 -3.8M210.91 133.13h5.3M213.56 130.48v5.3M211.66 131.23l3.8 3.8M211.66 135.03l3.8 -3.8M213.85 132.6h5.3M216.5 129.95v5.3M214.6 130.7l3.8 3.8M214.6 134.5l3.8 -3.8M216.8 132.04h5.3M219.45 129.39v5.3M217.55 130.14l3.8 3.8M217.55 133.94l3.8 -3.8M219.74 131.45h5.3M222.39 128.8v5.3M220.49 129.55l3.8 3.8M220.49 133.35l3.8 -3.8M222.69 130.83h5.3M225.34 128.18v5.3M223.44 128.93l3.8 3.8M223.44 132.73l3.8 -3.8M225.63 130.18h5.3M228.28 127.53v5.3M226.38 128.28l3.8 3.8M226.38 132.08l3.8 -3.8M228.58 129.47h5.3M231.23 126.82v5.3M229.33 127.57l3.8 3.8M229.33 131.37l3.8 -3.8M231.52 128.64h5.3M234.17 125.99v5.3M232.27 126.74l3.8 3.8M232.27 130.54l3.8 -3.8M234.47 127.71h5.3M237.12 125.06v5.3M235.22 125.81l3.8 3.8M235.22 129.61l3.8 -3.8M237.41 126.68h5.3M240.06 124.03v5.3M238.16 124.78l3.8 3.8M238.16 128.58l3.8 -3.8M240.35 125.55h5.3M243 122.9v5.3M241.1 123.65l3.8 3.8M241.1 127.45l3.8 -3.8M243.3 124.29h5.3M245.95 121.64v5.3M244.05 122.39l3.8 3.8M244.05 126.19l3.8 -3.8M246.24 122.91h5.3M248.89 120.26v5.3M246.99 121.01l3.8 3.8M246.99 124.81l3.8 -3.8M249.19 121.39h5.3M251.84 118.74v5.3M249.94 119.49l3.8 3.8M249.94 123.29l3.8 -3.8M252.13 119.74h5.3M254.78 117.09v5.3M252.88 117.84l3.8 3.8M252.88 121.64l3.8 -3.8M255.08 117.96h5.3M257.73 115.31v5.3M255.83 116.06l3.8 3.8M255.83 119.86l3.8 -3.8M258.02 116.09h5.3M260.67 113.44v5.3M258.77 114.19l3.8 3.8M258.77 117.99l3.8 -3.8M260.97 114.11h5.3M263.62 111.46v5.3M261.72 112.21l3.8 3.8M261.72 116.01l3.8 -3.8M263.91 112.03h5.3M266.56 109.38v5.3M264.66 110.13l3.8 3.8M264.66 113.93l3.8 -3.8M266.86 109.84h5.3M269.51 107.19v5.3M267.61 107.94l3.8 3.8M267.61 111.74l3.8 -3.8M269.8 107.48h5.3M272.45 104.83v5.3M270.55 105.58l3.8 3.8M270.55 109.38l3.8 -3.8M272.75 104.94h5.3M275.4 102.29v5.3M273.5 103.04l3.8 3.8M273.5 106.84l3.8 -3.8M275.69 102.19h5.3M278.34 99.54v5.3M276.44 100.29l3.8 3.8M276.44 104.09l3.8 -3.8M278.64 99.21h5.3M281.29 96.56v5.3M279.39 97.31l3.8 3.8M279.39 101.11l3.8 -3.8M281.58 96.01h5.3M284.23 93.36v5.3M282.33 94.11l3.8 3.8M282.33 97.91l3.8 -3.8M284.52 92.38h5.3M287.17 89.73v5.3M285.27 90.48l3.8 3.8M285.27 94.28l3.8 -3.8M287.47 88.74h5.3M290.12 86.09v5.3M288.22 86.84l3.8 3.8M288.22 90.64l3.8 -3.8M290.41 85.18h5.3M293.06 82.53v5.3M291.16 83.28l3.8 3.8M291.16 87.08l3.8 -3.8M293.36 81.48h5.3M296.01 78.83v5.3M294.11 79.58l3.8 3.8M294.11 83.38l3.8 -3.8M296.3 77.66h5.3M298.95 75.01v5.3M297.05 75.76l3.8 3.8M297.05 79.56l3.8 -3.8M299.25 73.77h5.3M301.9 71.12v5.3M300 71.87l3.8 3.8M300 75.67l3.8 -3.8M302.19 69.8h5.3M304.84 67.15v5.3M302.94 67.9l3.8 3.8M302.94 71.7l3.8 -3.8M305.14 65.73h5.3M307.79 63.08v5.3M305.89 63.83l3.8 3.8M305.89 67.63l3.8 -3.8M308.08 61.53h5.3M310.73 58.88v5.3M308.83 59.63l3.8 3.8M308.83 63.43l3.8 -3.8M311.03 57.01h5.3M313.68 54.36v5.3M311.78 55.11l3.8 3.8M311.78 58.91l3.8 -3.8M313.97 51.84h5.3M316.62 49.19v5.3M314.72 49.94l3.8 3.8M314.72 53.74l3.8 -3.8M316.92 46.28h5.3M319.57 43.63v5.3M317.67 44.38l3.8 3.8M317.67 48.18l3.8 -3.8M319.86 40.3h5.3M322.51 37.65v5.3M320.61 38.4l3.8 3.8M320.61 42.2l3.8 -3.8M322.81 34.08h5.3M325.46 31.43v5.3M323.56 32.18l3.8 3.8M323.56 35.98l3.8 -3.8M325.75 28.57h5.3M328.4 25.92v5.3M326.5 26.67l3.8 3.8M326.5 30.47l3.8 -3.8" fill="none" stroke="#0000FF" stroke-width="1.1"/><path d="M52.55 161.2l4.0 4.0M52.55 165.2l4.0 -4.0M55.49 161.19l4.0 4.0M55.49 165.19l4.0 -4.0M58.44 161.19l4.0 4.0M58.44 165.19l4.0 -4.0M61.38 161.18l4.0 4.0M61.38 165.18l4.0 -4.0M64.32 161.17l4.0 4.0M64.32 165.17l4.0 -4.0M67.27 161.15l4.0 4.0M67.27 165.15l4.0 -4.0M70.21 161.13l4.0 4.0M70.21 165.13l4.0 -4.0M73.16 161.11l4.0 4.0M73.16 165.11l4.0 -4.0M76.1 161.09l4.0 4.0M76.1 165.09l4.0 -4.0M79.05 161.06l4.0 4.0M79.05 165.06l4.0 -4.0M81.99 161.03l4.0 4.0M81.99 165.03l4.0 -4.0M84.94 161l4.0 4.0M84.94 165l4.0 -4.0M87.88 160.97l4.0 4.0M87.88 164.97l4.0 -4.0M90.83 160.94l4.0 4.0M90.83 164.94l4.0 -4.0M93.77 160.9l4.0 4.0M93.77 164.9l4.0 -4.0M96.72 160.87l4.0 4.0M96.72 164.87l4.0 -4.0M99.66 160.83l4.0 4.0M99.66 164.83l4.0 -4.0M102.61 160.79l4.0 4.0M102.61 164.79l4.0 -4.0M105.55 160.75l4.0 4.0M105.55 164.75l4.0 -4.0M108.49 160.7l4.0 4.0M108.49 164.7l4.0 -4.0M111.44 160.66l4.0 4.0M111.44 164.66l4.0 -4.0M114.38 160.62l4.0 4.0M114.38 164.62l4.0 -4.0M117.33 160.57l4.0 4.0M117.33 164.57l4.0 -4.0M120.27 160.52l4.0 4.0M120.27 164.52l4.0 -4.0M123.22 160.48l4.0 4.0M123.22 164.48l4.0 -4.0M126.16 160.43l4.0 4.0M126.16 164.43l4.0 -4.0M129.11 160.38l4.0 4.0M129.11 164.38l4.0 -4.0M132.05 160.33l4.0 4.0M132.05 164.33l4.0 -4.0M135 160.28l4.0 4.0M135 164.28l4.0 -4.0M137.94 160.23l4.0 4.0M137.94 164.23l4.0 -4.0M140.89 160.17l4.0 4.0M140.89 164.17l4.0 -4.0M143.83 160.11l4.0 4.0M143.83 164.11l4.0 -4.0M146.78 160.04l4.0 4.0M146.78 164.04l4.0 -4.0M149.72 159.97l4.0 4.0M149.72 163.97l4.0 -4.0M152.66 159.89l4.0 4.0M152.66 163.89l4.0 -4.0M155.61 159.8l4.0 4.0M155.61 163.8l4.0 -4.0M158.55 159.71l4.0 4.0M158.55 163.71l4.0 -4.0M161.5 159.6l4.0 4.0M161.5 163.6l4.0 -4.0M164.44 159.48l4.0 4.0M164.44 163.48l4.0 -4.0M167.39 159.36l4.0 4.0M167.39 163.36l4.0 -4.0M170.33 159.22l4.0 4.0M170.33 163.22l4.0 -4.0M173.28 159.07l4.0 4.0M173.28 163.07l4.0 -4.0M176.22 158.9l4.0 4.0M176.22 162.9l4.0 -4.0M179.17 158.67l4.0 4.0M179.17 162.67l4.0 -4.0M182.11 158.32l4.0 4.0M182.11 162.32l4.0 -4.0M185.06 157.84l4.0 4.0M185.06 161.84l4.0 -4.0M188 157.29l4.0 4.0M188 161.29l4.0 -4.0M190.95 156.87l4.0 4.0M190.95 160.87l4.0 -4.0M193.89 156.45l4.0 4.0M193.89 160.45l4.0 -4.0M196.83 156l4.0 4.0M196.83 160l4.0 -4.0M199.78 155.51l4.0 4.0M199.78 159.51l4.0 -4.0M202.72 154.97l4.0 4.0M202.72 158.97l4.0 -4.0M205.67 154.38l4.0 4.0M205.67 158.38l4.0 -4.0M208.61 153.73l4.0 4.0M208.61 157.73l4.0 -4.0M211.56 153.01l4.0 4.0M211.56 157.01l4.0 -4.0M214.5 152.22l4.0 4.0M214.5 156.22l4.0 -4.0M217.45 151.37l4.0 4.0M217.45 155.37l4.0 -4.0M220.39 150.42l4.0 4.0M220.39 154.42l4.0 -4.0M223.34 149.37l4.0 4.0M223.34 153.37l4.0 -4.0M226.28 148.2l4.0 4.0M226.28 152.2l4.0 -4.0M229.23 146.91l4.0 4.0M229.23 150.91l4.0 -4.0M232.17 145.32l4.0 4.0M232.17 149.32l4.0 -4.0M235.12 143.53l4.0 4.0M235.12 147.53l4.0 -4.0M238.06 141.62l4.0 4.0M238.06 145.62l4.0 -4.0M241 139.59l4.0 4.0M241 143.59l4.0 -4.0M243.95 137.46l4.0 4.0M243.95 141.46l4.0 -4.0M246.89 135.26l4.0 4.0M246.89 139.26l4.0 -4.0M249.84 132.99l4.0 4.0M249.84 136.99l4.0 -4.0M252.78 130.67l4.0 4.0M252.78 134.67l4.0 -4.0M255.73 128.32l4.0 4.0M255.73 132.32l4.0 -4.0M258.67 125.97l4.0 4.0M258.67 129.97l4.0 -4.0M261.62 123.61l4.0 4.0M261.62 127.61l4.0 -4.0M264.56 121.22l4.0 4.0M264.56 125.22l4.0 -4.0M267.51 118.8l4.0 4.0M267.51 122.8l4.0 -4.0M270.45 116.27l4.0 4.0M270.45 120.27l4.0 -4.0M273.4 113.56l4.0 4.0M273.4 117.56l4.0 -4.0M276.34 110.56l4.0 4.0M276.34 114.56l4.0 -4.0M279.29 107.38l4.0 4.0M279.29 111.38l4.0 -4.0M282.23 103.98l4.0 4.0M282.23 107.98l4.0 -4.0M285.17 100.34l4.0 4.0M285.17 104.34l4.0 -4.0M288.12 96.51l4.0 4.0M288.12 100.51l4.0 -4.0M291.06 92.54l4.0 4.0M291.06 96.54l4.0 -4.0M294.01 88.41l4.0 4.0M294.01 92.41l4.0 -4.0M296.95 84.16l4.0 4.0M296.95 88.16l4.0 -4.0M299.9 79.88l4.0 4.0M299.9 83.88l4.0 -4.0M302.84 75.51l4.0 4.0M302.84 79.51l4.0 -4.0M305.79 70.94l4.0 4.0M305.79 74.94l4.0 -4.0M308.73 66.08l4.0 4.0M308.73 70.08l4.0 -4.0M311.68 61.01l4.0 4.0M311.68 65.01l4.0 -4.0M314.62 55.92l4.0 4.0M314.62 59.92l4.0 -4.0M317.57 50.76l4.0 4.0M317.57 54.76l4.0 -4.0M320.51 45.23l4.0 4.0M320.51 49.23l4.0 -4.0M323.46 39.26l4.0 4.0M323.46 43.26l4.0 -4.0M326.4 33.01l4.0 4.0M326.4 37.01l4.0 -4.0" fill="none" stroke="#00FF00" stroke-width="1.35"/><path d="M51.9 192.1h5.3M54.55 189.45v5.3M54.84 192.09h5.3M57.49 189.44v5.3M57.79 192.08h5.3M60.44 189.43v5.3M60.73 192.06h5.3M63.38 189.41v5.3M63.67 192.04h5.3M66.32 189.39v5.3M66.62 192.01h5.3M69.27 189.36v5.3M69.56 191.98h5.3M72.21 189.33v5.3M72.51 191.94h5.3M75.16 189.29v5.3M75.45 191.9h5.3M78.1 189.25v5.3M78.4 191.85h5.3M81.05 189.2v5.3M81.34 191.8h5.3M83.99 189.15v5.3M84.29 191.74h5.3M86.94 189.09v5.3M87.23 191.68h5.3M89.88 189.03v5.3M90.18 191.62h5.3M92.83 188.97v5.3M93.12 191.55h5.3M95.77 188.9v5.3M96.07 191.48h5.3M98.72 188.83v5.3M99.01 191.4h5.3M101.66 188.75v5.3M101.96 191.32h5.3M104.61 188.67v5.3M104.9 191.24h5.3M107.55 188.59v5.3M107.84 191.15h5.3M110.49 188.5v5.3M110.79 191.06h5.3M113.44 188.41v5.3M113.73 190.97h5.3M116.38 188.32v5.3M116.68 190.87h5.3M119.33 188.22v5.3M119.62 190.77h5.3M122.27 188.12v5.3M122.57 190.67h5.3M125.22 188.02v5.3M125.51 190.57h5.3M128.16 187.92v5.3M128.46 190.45h5.3M131.11 187.8v5.3M131.4 190.31h5.3M134.05 187.66v5.3M134.35 190.15h5.3M137 187.5v5.3M137.29 189.95h5.3M139.94 187.3v5.3M140.24 189.73h5.3M142.89 187.08v5.3M143.18 189.48h5.3M145.83 186.83v5.3M146.13 189.2h5.3M148.78 186.55v5.3M149.07 188.9h5.3M151.72 186.25v5.3M152.01 188.58h5.3M154.66 185.93v5.3M154.96 188.24h5.3M157.61 185.59v5.3M157.9 187.88h5.3M160.55 185.23v5.3M160.85 187.49h5.3M163.5 184.84v5.3M163.79 187.1h5.3M166.44 184.45v5.3M166.74 186.67h5.3M169.39 184.02v5.3M169.68 186.19h5.3M172.33 183.54v5.3M172.63 185.6h5.3M175.28 182.95v5.3M175.57 184.92h5.3M178.22 182.27v5.3M178.52 184.19h5.3M181.17 181.54v5.3M181.46 183.38h5.3M184.11 180.73v5.3M184.41 182.5h5.3M187.06 179.85v5.3M187.35 181.55h5.3M190 178.9v5.3M190.3 180.75h5.3M192.95 178.1v5.3M193.24 179.88h5.3M195.89 177.23v5.3M196.18 178.94h5.3M198.83 176.29v5.3M199.13 177.98h5.3M201.78 175.33v5.3M202.07 176.98h5.3M204.72 174.33v5.3M205.02 175.89h5.3M207.67 173.24v5.3M207.96 174.69h5.3M210.61 172.04v5.3M210.91 173.33h5.3M213.56 170.68v5.3M213.85 171.9h5.3M216.5 169.25v5.3M216.8 170.43h5.3M219.45 167.78v5.3M219.74 168.78h5.3M222.39 166.13v5.3M222.69 167.05h5.3M225.34 164.4v5.3M225.63 165.25h5.3M228.28 162.6v5.3M228.58 163.37h5.3M231.23 160.72v5.3M231.52 161.42h5.3M234.17 158.77v5.3M234.47 159.38h5.3M237.12 156.73v5.3M237.41 157.26h5.3M240.06 154.61v5.3M240.35 155.01h5.3M243 152.36v5.3M243.3 152.65h5.3M245.95 150v5.3M246.24 150.17h5.3M248.89 147.52v5.3M249.19 147.52h5.3M251.84 144.87v5.3M252.13 144.74h5.3M254.78 142.09v5.3M255.08 141.88h5.3M257.73 139.23v5.3M258.02 138.94h5.3M260.67 136.29v5.3M260.97 135.92h5.3M263.62 133.27v5.3M263.91 132.88h5.3M266.56 130.23v5.3M266.86 129.64h5.3M269.51 126.99v5.3M269.8 126.2h5.3M272.45 123.55v5.3M272.75 122.68h5.3M275.4 120.03v5.3M275.69 119.08h5.3M278.34 116.43v5.3M278.64 115.37h5.3M281.29 112.72v5.3M281.58 111.56h5.3M284.23 108.91v5.3M284.52 107.64h5.3M287.17 104.99v5.3M287.47 103.56h5.3M290.12 100.91v5.3M290.41 99.31h5.3M293.06 96.66v5.3M293.36 95.17h5.3M296.01 92.52v5.3M296.3 90.96h5.3M298.95 88.31v5.3M299.25 86.73h5.3M301.9 84.08v5.3M302.19 82.47h5.3M304.84 79.82v5.3M305.14 78.11h5.3M307.79 75.46v5.3M308.08 73.56h5.3M310.73 70.91v5.3M311.03 68.63h5.3M313.68 65.98v5.3M313.97 63.19h5.3M316.62 60.54v5.3M316.92 57.21h5.3M319.57 54.56v5.3M319.86 50.71h5.3M322.51 48.06v5.3M322.81 43.77h5.3M325.46 41.12v5.3M325.75 36.48h5.3M328.4 33.83v5.3" fill="none" stroke="#FF0000" stroke-width="1.15"/><g clip-path="url(#clipb)"><path d="M410.9 238.31 L411.6 238.2 L412.3 238.09 L413 237.98 L413.69 237.86 L414.39 237.75 L415.09 237.64 L415.79 237.52 L416.49 237.41 L417.19 237.29 L417.89 237.17 L418.59 237.06 L419.29 236.94 L419.99 236.82 L420.69 236.7 L421.39 236.58 L422.09 236.46 L422.79 236.33 L423.49 236.21 L424.19 236.09 L424.89 235.96 L425.59 235.84 L426.29 235.71 L426.99 235.58 L427.68 235.46 L428.38 235.33 L429.08 235.2 L429.78 235.07 L430.48 234.94 L431.18 234.8 L431.88 234.67 L432.58 234.54 L433.28 234.4 L433.98 234.27 L434.68 234.13 L435.38 233.99 L436.08 233.85 L436.78 233.71 L437.48 233.57 L438.18 233.43 L438.88 233.29 L439.58 233.15 L440.28 233 L440.98 232.86 L441.67 232.71 L442.37 232.56 L443.07 232.42 L443.77 232.27 L444.47 232.12 L445.17 231.97 L445.87 231.82 L446.57 231.66 L447.27 231.51 L447.97 231.35 L448.67 231.2 L449.37 231.04 L450.07 230.88 L450.77 230.72 L451.47 230.56 L452.17 230.4 L452.87 230.24 L453.57 230.08 L454.27 229.91 L454.96 229.75 L455.66 229.58 L456.36 229.41 L457.06 229.25 L457.76 229.08 L458.46 228.9 L459.16 228.73 L459.86 228.56 L460.56 228.38 L461.26 228.21 L461.96 228.03 L462.66 227.85 L463.36 227.68 L464.06 227.5 L464.76 227.31 L465.46 227.13 L466.16 226.95 L466.86 226.76 L467.56 226.58 L468.26 226.39 L468.95 226.2 L469.65 226.01 L470.35 225.82 L471.05 225.63 L471.75 225.43 L472.45 225.24 L473.15 225.04 L473.85 224.85 L474.55 224.65 L475.25 224.45 L475.95 224.25 L476.65 224.04 L477.35 223.84 L478.05 223.63 L478.75 223.43 L479.45 223.22 L480.15 223.01 L480.85 222.8 L481.55 222.59 L482.25 222.37 L482.94 222.16 L483.64 221.94 L484.34 221.72 L485.04 221.5 L485.74 221.28 L486.44 221.06 L487.14 220.84 L487.84 220.61 L488.54 220.38 L489.24 220.16 L489.94 219.93 L490.64 219.7 L491.34 219.46 L492.04 219.23 L492.74 218.99 L493.44 218.76 L494.14 218.52 L494.84 218.28 L495.54 218.03 L496.23 217.79 L496.93 217.55 L497.63 217.3 L498.33 217.05 L499.03 216.8 L499.73 216.55 L500.43 216.29 L501.13 216.04 L501.83 215.78 L502.53 215.52 L503.23 215.26 L503.93 215 L504.63 214.74 L505.33 214.47 L506.03 214.21 L506.73 213.94 L507.43 213.67 L508.13 213.39 L508.83 213.12 L509.53 212.84 L510.22 212.57 L510.92 212.29 L511.62 212 L512.32 211.72 L513.02 211.44 L513.72 211.15 L514.42 210.86 L515.12 210.57 L515.82 210.28 L516.52 209.98 L517.22 209.68 L517.92 209.38 L518.62 209.08 L519.32 208.78 L520.02 208.48 L520.72 208.17 L521.42 207.86 L522.12 207.55 L522.82 207.24 L523.52 206.92 L524.21 206.61 L524.91 206.29 L525.61 205.97 L526.31 205.64 L527.01 205.32 L527.71 204.99 L528.41 204.66 L529.11 204.33 L529.81 203.99 L530.51 203.66 L531.21 203.32 L531.91 202.98 L532.61 202.64 L533.31 202.29 L534.01 201.94 L534.71 201.59 L535.41 201.24 L536.11 200.89 L536.81 200.53 L537.51 200.17 L538.2 199.81 L538.9 199.45 L539.6 199.08 L540.3 198.71 L541 198.34 L541.7 197.97 L542.4 197.59 L543.1 197.21 L543.8 196.83 L544.5 196.45 L545.2 196.06 L545.9 195.68 L546.6 195.28 L547.3 194.89 L548 194.49 L548.7 194.1 L549.4 193.69 L550.1 193.29 L550.8 192.88 L551.49 192.47 L552.19 192.06 L552.89 191.65 L553.59 191.23 L554.29 190.81 L554.99 190.39 L555.69 189.96 L556.39 189.53 L557.09 189.1 L557.79 188.67 L558.49 188.23 L559.19 187.79 L559.89 187.35 L560.59 186.9 L561.29 186.45 L561.99 186 L562.69 185.54 L563.39 185.09 L564.09 184.63 L564.79 184.16 L565.48 183.69 L566.18 183.22 L566.88 182.75 L567.58 182.28 L568.28 181.8 L568.98 181.31 L569.68 180.83 L570.38 180.34 L571.08 179.85 L571.78 179.35 L572.48 178.85 L573.18 178.35 L573.88 177.85 L574.58 177.34 L575.28 176.83 L575.98 176.31 L576.68 175.79 L577.38 175.27 L578.08 174.74 L578.78 174.21 L579.47 173.68 L580.17 173.15 L580.87 172.61 L581.57 172.06 L582.27 171.52 L582.97 170.97 L583.67 170.41 L584.37 169.86 L585.07 169.29 L585.77 168.73 L586.47 168.16 L587.17 167.59 L587.87 167.01 L588.57 166.43 L589.27 165.85 L589.97 165.26 L590.67 164.67 L591.37 164.07 L592.07 163.48 L592.76 162.87 L593.46 162.26 L594.16 161.65 L594.86 161.04 L595.56 160.42 L596.26 159.8 L596.96 159.17 L597.66 158.54 L598.36 157.9 L599.06 157.26 L599.76 156.62 L600.46 155.97 L601.16 155.32 L601.86 154.66 L602.56 154 L603.26 153.33 L603.96 152.66 L604.66 151.99 L605.36 151.31 L606.06 150.62 L606.75 149.94 L607.45 149.24 L608.15 148.55 L608.85 147.85 L609.55 147.14 L610.25 146.43 L610.95 145.71 L611.65 144.99 L612.35 144.27 L613.05 143.54 L613.75 142.8 L614.45 142.06 L615.15 141.32 L615.85 140.57 L616.55 139.82 L617.25 139.06 L617.95 138.29 L618.65 137.52 L619.35 136.75 L620.05 135.97 L620.74 135.18 L621.44 134.39 L622.14 133.6 L622.84 132.8 L623.54 131.99 L624.24 131.18 L624.94 130.37 L625.64 129.55 L626.34 128.72 L627.04 127.89 L627.74 127.05 L628.44 126.21 L629.14 125.36 L629.84 124.5 L630.54 123.64 L631.24 122.78 L631.94 121.91 L632.64 121.03 L633.34 120.15 L634.04 119.26 L634.73 118.36 L635.43 117.46 L636.13 116.55 L636.83 115.64 L637.53 114.72 L638.23 113.8 L638.93 112.87 L639.63 111.93 L640.33 110.99 L641.03 110.04 L641.73 109.08 L642.43 108.12 L643.13 107.15 L643.83 106.18 L644.53 105.2 L645.23 104.21 L645.93 103.22 L646.63 102.22 L647.33 101.21 L648.02 100.2 L648.72 99.18 L649.42 98.15 L650.12 97.12 L650.82 96.08 L651.52 95.03 L652.22 93.97 L652.92 92.91 L653.62 91.84 L654.32 90.77 L655.02 89.69 L655.72 88.6 L656.42 87.5 L657.12 86.4 L657.82 85.29 L658.52 84.17 L659.22 83.04 L659.92 81.91 L660.62 80.77 L661.32 79.62 L662.01 78.46 L662.71 77.3 L663.41 76.13 L664.11 74.95 L664.81 73.76 L665.51 72.57 L666.21 71.37 L666.91 70.16 L667.61 68.94 L668.31 67.71 L669.01 66.48 L669.71 65.23 L670.41 63.98 L671.11 62.72 L671.81 61.46 L672.51 60.18 L673.21 58.9 L673.91 57.6 L674.61 56.3 L675.31 54.99 L676 53.68 L676.7 52.35 L677.4 51.01 L678.1 49.67 L678.8 48.32 L679.5 46.95 L680.2 45.58 L680.9 44.2 L681.6 42.81 L682.3 41.41" fill="none" stroke="#000" stroke-width="1.0"/><path d="M403.2 234.47 L403.9 234.38 L404.6 234.31 L405.3 234.23 L406 234.15 L406.7 234.07 L407.4 233.99 L408.1 233.91 L408.8 233.83 L409.5 233.75 L410.2 233.66 L410.9 233.58 L411.6 233.5 L412.3 233.41 L413 233.32 L413.69 233.24 L414.39 233.15 L415.09 233.06 L415.79 232.97 L416.49 232.88 L417.19 232.79 L417.89 232.7 L418.59 232.61 L419.29 232.52 L419.99 232.42 L420.69 232.33 L421.39 232.24 L422.09 232.14 L422.79 232.04 L423.49 231.95 L424.19 231.85 L424.89 231.75 L425.59 231.65 L426.29 231.55 L426.99 231.45 L427.68 231.34 L428.38 231.24 L429.08 231.15 L429.78 231.05 L430.48 230.95 L431.18 230.85 L431.88 230.74 L432.58 230.64 L433.28 230.54 L433.98 230.43 L434.68 230.33 L435.38 230.22 L436.08 230.11 L436.78 230.01 L437.48 229.9 L438.18 229.79 L438.88 229.68 L439.58 229.56 L440.28 229.45 L440.98 229.34 L441.67 229.22 L442.37 229.11 L443.07 228.99 L443.77 228.87 L444.47 228.75 L445.17 228.63 L445.87 228.51 L446.57 228.39 L447.27 228.27 L447.97 228.15 L448.67 228.02 L449.37 227.9 L450.07 227.77 L450.77 227.64 L451.47 227.51 L452.17 227.38 L452.87 227.26 L453.57 227.14 L454.27 227.02 L454.96 226.89 L455.66 226.77 L456.36 226.65 L457.06 226.52 L457.76 226.4 L458.46 226.27 L459.16 226.14 L459.86 226.01 L460.56 225.88 L461.26 225.75 L461.96 225.61 L462.66 225.48 L463.36 225.34 L464.06 225.21 L464.76 225.07 L465.46 224.93 L466.16 224.79 L466.86 224.65 L467.56 224.51 L468.26 224.36 L468.95 224.22 L469.65 224.07 L470.35 223.92 L471.05 223.77 L471.75 223.62 L472.45 223.47 L473.15 223.32 L473.85 223.16 L474.55 223.01 L475.25 222.85 L475.95 222.69 L476.65 222.54 L477.35 222.37 L478.05 222.21 L478.75 222.05 L479.45 221.88 L480.15 221.72 L480.85 221.54 L481.55 221.36 L482.25 221.17 L482.94 220.99 L483.64 220.8 L484.34 220.62 L485.04 220.43 L485.74 220.24 L486.44 220.05 L487.14 219.86 L487.84 219.66 L488.54 219.47 L489.24 219.27 L489.94 219.07 L490.64 218.87 L491.34 218.67 L492.04 218.47 L492.74 218.27 L493.44 218.06 L494.14 217.85 L494.84 217.64 L495.54 217.43 L496.23 217.22 L496.93 217.01 L497.63 216.79 L498.33 216.57 L499.03 216.36 L499.73 216.14 L500.43 215.9 L501.13 215.66 L501.83 215.42 L502.53 215.17 L503.23 214.93 L503.93 214.68 L504.63 214.43 L505.33 214.18 L506.03 213.93 L506.73 213.67 L507.43 213.41 L508.13 213.16 L508.83 212.9 L509.53 212.63 L510.22 212.37 L510.92 212.1 L511.62 211.84 L512.32 211.57 L513.02 211.3 L513.72 211.02 L514.42 210.75 L515.12 210.47 L515.82 210.19 L516.52 209.91 L517.22 209.63 L517.92 209.34 L518.62 209.06 L519.32 208.77 L520.02 208.48 L520.72 208.17 L521.42 207.86 L522.12 207.55 L522.82 207.24 L523.52 206.92 L524.21 206.61 L524.91 206.29 L525.61 205.97 L526.31 205.64 L527.01 205.32 L527.71 204.99 L528.41 204.66 L529.11 204.33 L529.81 203.99 L530.51 203.66 L531.21 203.32 L531.91 202.98 L532.61 202.64 L533.31 202.29 L534.01 201.94 L534.71 201.59 L535.41 201.24 L536.11 200.89 L536.81 200.53 L537.51 200.17 L538.2 199.81 L538.9 199.45 L539.6 199.08 L540.3 198.71 L541 198.34 L541.7 197.97 L542.4 197.59 L543.1 197.21 L543.8 196.83 L544.5 196.45 L545.2 196.06 L545.9 195.68 L546.6 195.28 L547.3 194.89 L548 194.49 L548.7 194.1 L549.4 193.69 L550.1 193.29 L550.8 192.88 L551.49 192.47 L552.19 192.06 L552.89 191.65 L553.59 191.23 L554.29 190.81 L554.99 190.39 L555.69 189.96 L556.39 189.53 L557.09 189.1 L557.79 188.67 L558.49 188.23 L559.19 187.79 L559.89 187.35 L560.59 186.9 L561.29 186.45 L561.99 186 L562.69 185.54 L563.39 185.09 L564.09 184.63 L564.79 184.16 L565.48 183.69 L566.18 183.22 L566.88 182.75 L567.58 182.28 L568.28 181.8 L568.98 181.31 L569.68 180.83 L570.38 180.34 L571.08 179.85 L571.78 179.35 L572.48 178.85 L573.18 178.35 L573.88 177.85 L574.58 177.34 L575.28 176.83 L575.98 176.31 L576.68 175.79 L577.38 175.27 L578.08 174.74 L578.78 174.21 L579.47 173.68 L580.17 173.15 L580.87 172.61 L581.57 172.06 L582.27 171.52 L582.97 170.97 L583.67 170.41 L584.37 169.86 L585.07 169.29 L585.77 168.73 L586.47 168.16 L587.17 167.59 L587.87 167.01 L588.57 166.43 L589.27 165.85 L589.97 165.26 L590.67 164.67 L591.37 164.07 L592.07 163.48 L592.76 162.87 L593.46 162.26 L594.16 161.65 L594.86 161.04 L595.56 160.42 L596.26 159.8 L596.96 159.17 L597.66 158.54 L598.36 157.9 L599.06 157.26 L599.76 156.62 L600.46 155.97 L601.16 155.32 L601.86 154.66 L602.56 154 L603.26 153.33 L603.96 152.66 L604.66 151.99 L605.36 151.31 L606.06 150.62 L606.75 149.94 L607.45 149.24 L608.15 148.55 L608.85 147.85 L609.55 147.14 L610.25 146.43 L610.95 145.71 L611.65 144.99 L612.35 144.27 L613.05 143.54 L613.75 142.8 L614.45 142.06 L615.15 141.32 L615.85 140.57 L616.55 139.82 L617.25 139.06 L617.95 138.29 L618.65 137.52 L619.35 136.75 L620.05 135.97 L620.74 135.18 L621.44 134.39 L622.14 133.6 L622.84 132.8 L623.54 131.99 L624.24 131.18 L624.94 130.37 L625.64 129.55 L626.34 128.72 L627.04 127.89 L627.74 127.05 L628.44 126.21 L629.14 125.36 L629.84 124.5 L630.54 123.64 L631.24 122.78 L631.94 121.91 L632.64 121.03 L633.34 120.15 L634.04 119.26 L634.73 118.36 L635.43 117.46 L636.13 116.55 L636.83 115.64 L637.53 114.72 L638.23 113.8 L638.93 112.87 L639.63 111.93 L640.33 110.99 L641.03 110.04 L641.73 109.08 L642.43 108.12 L643.13 107.15 L643.83 106.18 L644.53 105.2 L645.23 104.21 L645.93 103.22 L646.63 102.22 L647.33 101.21 L648.02 100.2 L648.72 99.18 L649.42 98.15 L650.12 97.12 L650.82 96.08 L651.52 95.03 L652.22 93.97 L652.92 92.91 L653.62 91.84 L654.32 90.77 L655.02 89.69 L655.72 88.6 L656.42 87.5 L657.12 86.4 L657.82 85.29 L658.52 84.17 L659.22 83.04 L659.92 81.91 L660.62 80.77 L661.32 79.62 L662.01 78.46 L662.71 77.3 L663.41 76.13 L664.11 74.95 L664.81 73.76 L665.51 72.57 L666.21 71.37 L666.91 70.16 L667.61 68.94 L668.31 67.71 L669.01 66.48 L669.71 65.23 L670.41 63.98 L671.11 62.72 L671.81 61.46 L672.51 60.18 L673.21 58.9 L673.91 57.6 L674.61 56.3 L675.31 54.99 L676 53.68 L676.7 52.35 L677.4 51.01 L678.1 49.67 L678.8 48.32 L679.5 46.95 L680.2 45.58 L680.9 44.2 L681.6 42.81 L682.3 41.41" fill="none" stroke="#FF30FF" stroke-width="1.5" stroke-dasharray="7.5 4.5"/></g><path d="M401 112.3L406 115L401 117.7ZM404 112.3L409 115L404 117.7ZM407 112.3L412 115L407 117.7ZM410.01 112.3L415.01 115L410.01 117.7ZM413.01 112.3L418.01 115L413.01 117.7ZM416.01 112.3L421.01 115L416.01 117.7ZM419.01 112.29L424.01 114.99L419.01 117.69ZM422.01 112.29L427.01 114.99L422.01 117.69ZM425.01 112.29L430.01 114.99L425.01 117.69ZM428.01 112.29L433.01 114.99L428.01 117.69ZM431.01 112.29L436.01 114.99L431.01 117.69ZM434.01 112.28L439.01 114.98L434.01 117.68ZM437.01 112.28L442.01 114.98L437.01 117.68ZM440.02 112.28L445.02 114.98L440.02 117.68ZM443.02 112.27L448.02 114.97L443.02 117.67ZM446.02 112.27L451.02 114.97L446.02 117.67ZM449.02 112.26L454.02 114.96L449.02 117.66ZM452.02 112.26L457.02 114.96L452.02 117.66ZM455.02 112.26L460.02 114.96L455.02 117.66ZM458.02 112.25L463.02 114.95L458.02 117.65ZM461.02 112.25L466.02 114.95L461.02 117.65ZM464.02 112.24L469.02 114.94L464.02 117.64ZM467.03 112.23L472.03 114.93L467.03 117.63ZM470.03 112.23L475.03 114.93L470.03 117.63ZM473.03 112.22L478.03 114.92L473.03 117.62ZM476.03 112.22L481.03 114.92L476.03 117.62ZM479.03 112.21L484.03 114.91L479.03 117.61ZM482.03 112.2L487.03 114.9L482.03 117.6ZM485.03 112.19L490.03 114.89L485.03 117.59ZM488.03 112.18L493.03 114.88L488.03 117.58ZM491.03 112.16L496.03 114.86L491.03 117.56ZM494.03 112.14L499.03 114.84L494.03 117.54ZM497.04 112.11L502.04 114.81L497.04 117.51ZM500.04 112.07L505.04 114.77L500.04 117.47ZM503.04 112.04L508.04 114.74L503.04 117.44ZM506.04 112L511.04 114.7L506.04 117.4ZM509.04 111.95L514.04 114.65L509.04 117.35ZM512.04 111.9L517.04 114.6L512.04 117.3ZM515.04 111.85L520.04 114.55L515.04 117.25ZM518.04 111.79L523.04 114.49L518.04 117.19ZM521.04 111.72L526.04 114.42L521.04 117.12ZM524.05 111.62L529.05 114.32L524.05 117.02ZM527.05 111.5L532.05 114.2L527.05 116.9ZM530.05 111.42L535.05 114.12L530.05 116.82ZM533.05 111.35L538.05 114.05L533.05 116.75ZM536.05 111.26L541.05 113.96L536.05 116.66ZM539.05 111.16L544.05 113.86L539.05 116.56ZM542.05 111.05L547.05 113.75L542.05 116.45ZM545.05 110.94L550.05 113.64L545.05 116.34ZM548.05 110.82L553.05 113.52L548.05 116.22ZM551.05 110.69L556.05 113.39L551.05 116.09ZM554.06 110.55L559.06 113.25L554.06 115.95ZM557.06 110.39L562.06 113.09L557.06 115.79ZM560.06 110.17L565.06 112.87L560.06 115.57ZM563.06 109.91L568.06 112.61L563.06 115.31ZM566.06 109.63L571.06 112.33L566.06 115.03ZM569.06 109.33L574.06 112.03L569.06 114.73ZM572.06 109L577.06 111.7L572.06 114.4ZM575.06 108.63L580.06 111.33L575.06 114.03ZM578.06 108.21L583.06 110.91L578.06 113.61ZM581.07 107.73L586.07 110.43L581.07 113.13ZM584.07 107.19L589.07 109.89L584.07 112.59ZM587.07 106.58L592.07 109.28L587.07 111.98ZM590.07 105.87L595.07 108.57L590.07 111.27ZM593.07 105.04L598.07 107.74L593.07 110.44ZM596.07 104.09L601.07 106.79L596.07 109.49ZM599.07 103.04L604.07 105.74L599.07 108.44ZM602.07 101.92L607.07 104.62L602.07 107.32ZM605.07 100.68L610.07 103.38L605.07 106.08ZM608.07 99.3L613.07 102L608.07 104.7ZM611.08 97.77L616.08 100.47L611.08 103.17ZM614.08 96.18L619.08 98.88L614.08 101.58ZM617.08 94.55L622.08 97.25L617.08 99.95ZM620.08 92.84L625.08 95.54L620.08 98.24ZM623.08 91L628.08 93.7L623.08 96.4ZM626.08 89.02L631.08 91.72L626.08 94.42ZM629.08 86.86L634.08 89.56L629.08 92.26ZM632.08 84.54L637.08 87.24L632.08 89.94ZM635.08 82.02L640.08 84.72L635.08 87.42ZM638.09 79.29L643.09 81.99L638.09 84.69ZM641.09 76.42L646.09 79.12L641.09 81.82ZM644.09 73.29L649.09 75.99L644.09 78.69ZM647.09 69.93L652.09 72.63L647.09 75.33ZM650.09 66.32L655.09 69.02L650.09 71.72ZM653.09 62.4L658.09 65.1L653.09 67.8ZM656.09 58.28L661.09 60.98L656.09 63.68ZM659.09 53.85L664.09 56.55L659.09 59.25ZM662.09 49.12L667.09 51.82L662.09 54.52ZM665.09 44.24L670.09 46.94L665.09 49.64ZM668.1 39.13L673.1 41.83L668.1 44.53ZM671.1 34.05L676.1 36.75L671.1 39.45ZM674.1 29.08L679.1 31.78L674.1 34.48ZM677.1 24.05L682.1 26.75L677.1 29.45ZM680.1 18.91L685.1 21.61L680.1 24.31Z" fill="none" stroke="#D95319" stroke-width="1.1"/><path d="M400.5 131.61a2.7 2.7 0 1 0 5.4 0a2.7 2.7 0 1 0 -5.4 0M403.5 131.62a2.7 2.7 0 1 0 5.4 0a2.7 2.7 0 1 0 -5.4 0M406.5 131.63a2.7 2.7 0 1 0 5.4 0a2.7 2.7 0 1 0 -5.4 0M409.51 131.63a2.7 2.7 0 1 0 5.4 0a2.7 2.7 0 1 0 -5.4 0M412.51 131.64a2.7 2.7 0 1 0 5.4 0a2.7 2.7 0 1 0 -5.4 0M415.51 131.65a2.7 2.7 0 1 0 5.4 0a2.7 2.7 0 1 0 -5.4 0M418.51 131.66a2.7 2.7 0 1 0 5.4 0a2.7 2.7 0 1 0 -5.4 0M421.51 131.66a2.7 2.7 0 1 0 5.4 0a2.7 2.7 0 1 0 -5.4 0M424.51 131.67a2.7 2.7 0 1 0 5.4 0a2.7 2.7 0 1 0 -5.4 0M427.51 131.67a2.7 2.7 0 1 0 5.4 0a2.7 2.7 0 1 0 -5.4 0M430.51 131.68a2.7 2.7 0 1 0 5.4 0a2.7 2.7 0 1 0 -5.4 0M433.51 131.68a2.7 2.7 0 1 0 5.4 0a2.7 2.7 0 1 0 -5.4 0M436.51 131.68a2.7 2.7 0 1 0 5.4 0a2.7 2.7 0 1 0 -5.4 0M439.52 131.69a2.7 2.7 0 1 0 5.4 0a2.7 2.7 0 1 0 -5.4 0M442.52 131.69a2.7 2.7 0 1 0 5.4 0a2.7 2.7 0 1 0 -5.4 0M445.52 131.69a2.7 2.7 0 1 0 5.4 0a2.7 2.7 0 1 0 -5.4 0M448.52 131.69a2.7 2.7 0 1 0 5.4 0a2.7 2.7 0 1 0 -5.4 0M451.52 131.69a2.7 2.7 0 1 0 5.4 0a2.7 2.7 0 1 0 -5.4 0M454.52 131.7a2.7 2.7 0 1 0 5.4 0a2.7 2.7 0 1 0 -5.4 0M457.52 131.7a2.7 2.7 0 1 0 5.4 0a2.7 2.7 0 1 0 -5.4 0M460.52 131.7a2.7 2.7 0 1 0 5.4 0a2.7 2.7 0 1 0 -5.4 0M463.52 131.7a2.7 2.7 0 1 0 5.4 0a2.7 2.7 0 1 0 -5.4 0M466.53 131.7a2.7 2.7 0 1 0 5.4 0a2.7 2.7 0 1 0 -5.4 0M469.53 131.7a2.7 2.7 0 1 0 5.4 0a2.7 2.7 0 1 0 -5.4 0M472.53 131.7a2.7 2.7 0 1 0 5.4 0a2.7 2.7 0 1 0 -5.4 0M475.53 131.7a2.7 2.7 0 1 0 5.4 0a2.7 2.7 0 1 0 -5.4 0M478.53 131.7a2.7 2.7 0 1 0 5.4 0a2.7 2.7 0 1 0 -5.4 0M481.53 131.7a2.7 2.7 0 1 0 5.4 0a2.7 2.7 0 1 0 -5.4 0M484.53 131.69a2.7 2.7 0 1 0 5.4 0a2.7 2.7 0 1 0 -5.4 0M487.53 131.67a2.7 2.7 0 1 0 5.4 0a2.7 2.7 0 1 0 -5.4 0M490.53 131.64a2.7 2.7 0 1 0 5.4 0a2.7 2.7 0 1 0 -5.4 0M493.53 131.59a2.7 2.7 0 1 0 5.4 0a2.7 2.7 0 1 0 -5.4 0M496.54 131.52a2.7 2.7 0 1 0 5.4 0a2.7 2.7 0 1 0 -5.4 0M499.54 131.45a2.7 2.7 0 1 0 5.4 0a2.7 2.7 0 1 0 -5.4 0M502.54 131.36a2.7 2.7 0 1 0 5.4 0a2.7 2.7 0 1 0 -5.4 0M505.54 131.27a2.7 2.7 0 1 0 5.4 0a2.7 2.7 0 1 0 -5.4 0M508.54 131.16a2.7 2.7 0 1 0 5.4 0a2.7 2.7 0 1 0 -5.4 0M511.54 131.05a2.7 2.7 0 1 0 5.4 0a2.7 2.7 0 1 0 -5.4 0M514.54 130.94a2.7 2.7 0 1 0 5.4 0a2.7 2.7 0 1 0 -5.4 0M517.54 130.81a2.7 2.7 0 1 0 5.4 0a2.7 2.7 0 1 0 -5.4 0M520.54 130.69a2.7 2.7 0 1 0 5.4 0a2.7 2.7 0 1 0 -5.4 0M523.55 130.56a2.7 2.7 0 1 0 5.4 0a2.7 2.7 0 1 0 -5.4 0M526.55 130.43a2.7 2.7 0 1 0 5.4 0a2.7 2.7 0 1 0 -5.4 0M529.55 130.36a2.7 2.7 0 1 0 5.4 0a2.7 2.7 0 1 0 -5.4 0M532.55 130.28a2.7 2.7 0 1 0 5.4 0a2.7 2.7 0 1 0 -5.4 0M535.55 130.18a2.7 2.7 0 1 0 5.4 0a2.7 2.7 0 1 0 -5.4 0M538.55 130.06a2.7 2.7 0 1 0 5.4 0a2.7 2.7 0 1 0 -5.4 0M541.55 129.92a2.7 2.7 0 1 0 5.4 0a2.7 2.7 0 1 0 -5.4 0M544.55 129.76a2.7 2.7 0 1 0 5.4 0a2.7 2.7 0 1 0 -5.4 0M547.55 129.58a2.7 2.7 0 1 0 5.4 0a2.7 2.7 0 1 0 -5.4 0M550.55 129.38a2.7 2.7 0 1 0 5.4 0a2.7 2.7 0 1 0 -5.4 0M553.56 129.14a2.7 2.7 0 1 0 5.4 0a2.7 2.7 0 1 0 -5.4 0M556.56 128.88a2.7 2.7 0 1 0 5.4 0a2.7 2.7 0 1 0 -5.4 0M559.56 128.55a2.7 2.7 0 1 0 5.4 0a2.7 2.7 0 1 0 -5.4 0M562.56 128.18a2.7 2.7 0 1 0 5.4 0a2.7 2.7 0 1 0 -5.4 0M565.56 127.77a2.7 2.7 0 1 0 5.4 0a2.7 2.7 0 1 0 -5.4 0M568.56 127.33a2.7 2.7 0 1 0 5.4 0a2.7 2.7 0 1 0 -5.4 0M571.56 126.85a2.7 2.7 0 1 0 5.4 0a2.7 2.7 0 1 0 -5.4 0M574.56 126.31a2.7 2.7 0 1 0 5.4 0a2.7 2.7 0 1 0 -5.4 0M577.56 125.67a2.7 2.7 0 1 0 5.4 0a2.7 2.7 0 1 0 -5.4 0M580.57 124.94a2.7 2.7 0 1 0 5.4 0a2.7 2.7 0 1 0 -5.4 0M583.57 124.14a2.7 2.7 0 1 0 5.4 0a2.7 2.7 0 1 0 -5.4 0M586.57 123.28a2.7 2.7 0 1 0 5.4 0a2.7 2.7 0 1 0 -5.4 0M589.57 122.34a2.7 2.7 0 1 0 5.4 0a2.7 2.7 0 1 0 -5.4 0M592.57 121.3a2.7 2.7 0 1 0 5.4 0a2.7 2.7 0 1 0 -5.4 0M595.57 120.17a2.7 2.7 0 1 0 5.4 0a2.7 2.7 0 1 0 -5.4 0M598.57 118.97a2.7 2.7 0 1 0 5.4 0a2.7 2.7 0 1 0 -5.4 0M601.57 117.72a2.7 2.7 0 1 0 5.4 0a2.7 2.7 0 1 0 -5.4 0M604.57 116.42a2.7 2.7 0 1 0 5.4 0a2.7 2.7 0 1 0 -5.4 0M607.57 115.03a2.7 2.7 0 1 0 5.4 0a2.7 2.7 0 1 0 -5.4 0M610.58 113.37a2.7 2.7 0 1 0 5.4 0a2.7 2.7 0 1 0 -5.4 0M613.58 111.6a2.7 2.7 0 1 0 5.4 0a2.7 2.7 0 1 0 -5.4 0M616.58 109.69a2.7 2.7 0 1 0 5.4 0a2.7 2.7 0 1 0 -5.4 0M619.58 107.63a2.7 2.7 0 1 0 5.4 0a2.7 2.7 0 1 0 -5.4 0M622.58 105.44a2.7 2.7 0 1 0 5.4 0a2.7 2.7 0 1 0 -5.4 0M625.58 103.08a2.7 2.7 0 1 0 5.4 0a2.7 2.7 0 1 0 -5.4 0M628.58 100.53a2.7 2.7 0 1 0 5.4 0a2.7 2.7 0 1 0 -5.4 0M631.58 97.79a2.7 2.7 0 1 0 5.4 0a2.7 2.7 0 1 0 -5.4 0M634.58 94.86a2.7 2.7 0 1 0 5.4 0a2.7 2.7 0 1 0 -5.4 0M637.59 91.72a2.7 2.7 0 1 0 5.4 0a2.7 2.7 0 1 0 -5.4 0M640.59 88.41a2.7 2.7 0 1 0 5.4 0a2.7 2.7 0 1 0 -5.4 0M643.59 84.85a2.7 2.7 0 1 0 5.4 0a2.7 2.7 0 1 0 -5.4 0M646.59 81.04a2.7 2.7 0 1 0 5.4 0a2.7 2.7 0 1 0 -5.4 0M649.59 76.94a2.7 2.7 0 1 0 5.4 0a2.7 2.7 0 1 0 -5.4 0M652.59 72.49a2.7 2.7 0 1 0 5.4 0a2.7 2.7 0 1 0 -5.4 0M655.59 67.81a2.7 2.7 0 1 0 5.4 0a2.7 2.7 0 1 0 -5.4 0M658.59 63.08a2.7 2.7 0 1 0 5.4 0a2.7 2.7 0 1 0 -5.4 0M661.59 58.36a2.7 2.7 0 1 0 5.4 0a2.7 2.7 0 1 0 -5.4 0M664.59 53.62a2.7 2.7 0 1 0 5.4 0a2.7 2.7 0 1 0 -5.4 0M667.6 48.89a2.7 2.7 0 1 0 5.4 0a2.7 2.7 0 1 0 -5.4 0M670.6 44.07a2.7 2.7 0 1 0 5.4 0a2.7 2.7 0 1 0 -5.4 0M673.6 39.05a2.7 2.7 0 1 0 5.4 0a2.7 2.7 0 1 0 -5.4 0M676.6 33.7a2.7 2.7 0 1 0 5.4 0a2.7 2.7 0 1 0 -5.4 0M679.6 28.02a2.7 2.7 0 1 0 5.4 0a2.7 2.7 0 1 0 -5.4 0" fill="none" stroke="#0072BD" stroke-width="1.0"/><path d="M400.55 149h5.3M403.2 146.35v5.3M401.3 147.1l3.8 3.8M401.3 150.9l3.8 -3.8M403.55 149h5.3M406.2 146.35v5.3M404.3 147.1l3.8 3.8M404.3 150.9l3.8 -3.8M406.55 149h5.3M409.2 146.35v5.3M407.3 147.1l3.8 3.8M407.3 150.9l3.8 -3.8M409.56 149h5.3M412.21 146.35v5.3M410.31 147.1l3.8 3.8M410.31 150.9l3.8 -3.8M412.56 148.99h5.3M415.21 146.34v5.3M413.31 147.09l3.8 3.8M413.31 150.89l3.8 -3.8M415.56 148.99h5.3M418.21 146.34v5.3M416.31 147.09l3.8 3.8M416.31 150.89l3.8 -3.8M418.56 148.99h5.3M421.21 146.34v5.3M419.31 147.09l3.8 3.8M419.31 150.89l3.8 -3.8M421.56 148.99h5.3M424.21 146.34v5.3M422.31 147.09l3.8 3.8M422.31 150.89l3.8 -3.8M424.56 148.98h5.3M427.21 146.33v5.3M425.31 147.08l3.8 3.8M425.31 150.88l3.8 -3.8M427.56 148.98h5.3M430.21 146.33v5.3M428.31 147.08l3.8 3.8M428.31 150.88l3.8 -3.8M430.56 148.97h5.3M433.21 146.32v5.3M431.31 147.07l3.8 3.8M431.31 150.87l3.8 -3.8M433.56 148.97h5.3M436.21 146.32v5.3M434.31 147.07l3.8 3.8M434.31 150.87l3.8 -3.8M436.56 148.96h5.3M439.21 146.31v5.3M437.31 147.06l3.8 3.8M437.31 150.86l3.8 -3.8M439.57 148.95h5.3M442.22 146.3v5.3M440.32 147.05l3.8 3.8M440.32 150.85l3.8 -3.8M442.57 148.95h5.3M445.22 146.3v5.3M443.32 147.05l3.8 3.8M443.32 150.85l3.8 -3.8M445.57 148.94h5.3M448.22 146.29v5.3M446.32 147.04l3.8 3.8M446.32 150.84l3.8 -3.8M448.57 148.93h5.3M451.22 146.28v5.3M449.32 147.03l3.8 3.8M449.32 150.83l3.8 -3.8M451.57 148.92h5.3M454.22 146.27v5.3M452.32 147.02l3.8 3.8M452.32 150.82l3.8 -3.8M454.57 148.91h5.3M457.22 146.26v5.3M455.32 147.01l3.8 3.8M455.32 150.81l3.8 -3.8M457.57 148.9h5.3M460.22 146.25v5.3M458.32 147l3.8 3.8M458.32 150.8l3.8 -3.8M460.57 148.89h5.3M463.22 146.24v5.3M461.32 146.99l3.8 3.8M461.32 150.79l3.8 -3.8M463.57 148.88h5.3M466.22 146.23v5.3M464.32 146.98l3.8 3.8M464.32 150.78l3.8 -3.8M466.58 148.87h5.3M469.23 146.22v5.3M467.33 146.97l3.8 3.8M467.33 150.77l3.8 -3.8M469.58 148.86h5.3M472.23 146.21v5.3M470.33 146.96l3.8 3.8M470.33 150.76l3.8 -3.8M472.58 148.84h5.3M475.23 146.19v5.3M473.33 146.94l3.8 3.8M473.33 150.74l3.8 -3.8M475.58 148.83h5.3M478.23 146.18v5.3M476.33 146.93l3.8 3.8M476.33 150.73l3.8 -3.8M478.58 148.82h5.3M481.23 146.17v5.3M479.33 146.92l3.8 3.8M479.33 150.72l3.8 -3.8M481.58 148.8h5.3M484.23 146.15v5.3M482.33 146.9l3.8 3.8M482.33 150.7l3.8 -3.8M484.58 148.78h5.3M487.23 146.13v5.3M485.33 146.88l3.8 3.8M485.33 150.68l3.8 -3.8M487.58 148.75h5.3M490.23 146.1v5.3M488.33 146.85l3.8 3.8M488.33 150.65l3.8 -3.8M490.58 148.7h5.3M493.23 146.05v5.3M491.33 146.8l3.8 3.8M491.33 150.6l3.8 -3.8M493.58 148.63h5.3M496.23 145.98v5.3M494.33 146.73l3.8 3.8M494.33 150.53l3.8 -3.8M496.59 148.55h5.3M499.24 145.9v5.3M497.34 146.65l3.8 3.8M497.34 150.45l3.8 -3.8M499.59 148.46h5.3M502.24 145.81v5.3M500.34 146.56l3.8 3.8M500.34 150.36l3.8 -3.8M502.59 148.36h5.3M505.24 145.71v5.3M503.34 146.46l3.8 3.8M503.34 150.26l3.8 -3.8M505.59 148.25h5.3M508.24 145.6v5.3M506.34 146.35l3.8 3.8M506.34 150.15l3.8 -3.8M508.59 148.13h5.3M511.24 145.48v5.3M509.34 146.23l3.8 3.8M509.34 150.03l3.8 -3.8M511.59 148h5.3M514.24 145.35v5.3M512.34 146.1l3.8 3.8M512.34 149.9l3.8 -3.8M514.59 147.86h5.3M517.24 145.21v5.3M515.34 145.96l3.8 3.8M515.34 149.76l3.8 -3.8M517.59 147.71h5.3M520.24 145.06v5.3M518.34 145.81l3.8 3.8M518.34 149.61l3.8 -3.8M520.59 147.56h5.3M523.24 144.91v5.3M521.34 145.66l3.8 3.8M521.34 149.46l3.8 -3.8M523.6 147.4h5.3M526.25 144.75v5.3M524.35 145.5l3.8 3.8M524.35 149.3l3.8 -3.8M526.6 147.24h5.3M529.25 144.59v5.3M527.35 145.34l3.8 3.8M527.35 149.14l3.8 -3.8M529.6 147.11h5.3M532.25 144.46v5.3M530.35 145.21l3.8 3.8M530.35 149.01l3.8 -3.8M532.6 146.96h5.3M535.25 144.31v5.3M533.35 145.06l3.8 3.8M533.35 148.86l3.8 -3.8M535.6 146.78h5.3M538.25 144.13v5.3M536.35 144.88l3.8 3.8M536.35 148.68l3.8 -3.8M538.6 146.56h5.3M541.25 143.91v5.3M539.35 144.66l3.8 3.8M539.35 148.46l3.8 -3.8M541.6 146.32h5.3M544.25 143.67v5.3M542.35 144.42l3.8 3.8M542.35 148.22l3.8 -3.8M544.6 146.07h5.3M547.25 143.42v5.3M545.35 144.17l3.8 3.8M545.35 147.97l3.8 -3.8M547.6 145.81h5.3M550.25 143.16v5.3M548.35 143.91l3.8 3.8M548.35 147.71l3.8 -3.8M550.6 145.54h5.3M553.25 142.89v5.3M551.35 143.64l3.8 3.8M551.35 147.44l3.8 -3.8M553.61 145.23h5.3M556.26 142.58v5.3M554.36 143.33l3.8 3.8M554.36 147.13l3.8 -3.8M556.61 144.88h5.3M559.26 142.23v5.3M557.36 142.98l3.8 3.8M557.36 146.78l3.8 -3.8M559.61 144.48h5.3M562.26 141.83v5.3M560.36 142.58l3.8 3.8M560.36 146.38l3.8 -3.8M562.61 144.02h5.3M565.26 141.37v5.3M563.36 142.12l3.8 3.8M563.36 145.92l3.8 -3.8M565.61 143.5h5.3M568.26 140.85v5.3M566.36 141.6l3.8 3.8M566.36 145.4l3.8 -3.8M568.61 142.91h5.3M571.26 140.26v5.3M569.36 141.01l3.8 3.8M569.36 144.81l3.8 -3.8M571.61 142.26h5.3M574.26 139.61v5.3M572.36 140.36l3.8 3.8M572.36 144.16l3.8 -3.8M574.61 141.54h5.3M577.26 138.89v5.3M575.36 139.64l3.8 3.8M575.36 143.44l3.8 -3.8M577.61 140.71h5.3M580.26 138.06v5.3M578.36 138.81l3.8 3.8M578.36 142.61l3.8 -3.8M580.62 139.79h5.3M583.27 137.14v5.3M581.37 137.89l3.8 3.8M581.37 141.69l3.8 -3.8M583.62 138.78h5.3M586.27 136.13v5.3M584.37 136.88l3.8 3.8M584.37 140.68l3.8 -3.8M586.62 137.68h5.3M589.27 135.03v5.3M587.37 135.78l3.8 3.8M587.37 139.58l3.8 -3.8M589.62 136.46h5.3M592.27 133.81v5.3M590.37 134.56l3.8 3.8M590.37 138.36l3.8 -3.8M592.62 135.09h5.3M595.27 132.44v5.3M593.37 133.19l3.8 3.8M593.37 136.99l3.8 -3.8M595.62 133.6h5.3M598.27 130.95v5.3M596.37 131.7l3.8 3.8M596.37 135.5l3.8 -3.8M598.62 132h5.3M601.27 129.35v5.3M599.37 130.1l3.8 3.8M599.37 133.9l3.8 -3.8M601.62 130.32h5.3M604.27 127.67v5.3M602.37 128.42l3.8 3.8M602.37 132.22l3.8 -3.8M604.62 128.54h5.3M607.27 125.89v5.3M605.37 126.64l3.8 3.8M605.37 130.44l3.8 -3.8M607.62 126.6h5.3M610.27 123.95v5.3M608.37 124.7l3.8 3.8M608.37 128.5l3.8 -3.8M610.63 124.28h5.3M613.28 121.63v5.3M611.38 122.38l3.8 3.8M611.38 126.18l3.8 -3.8M613.63 121.92h5.3M616.28 119.27v5.3M614.38 120.02l3.8 3.8M614.38 123.82l3.8 -3.8M616.63 119.55h5.3M619.28 116.9v5.3M617.38 117.65l3.8 3.8M617.38 121.45l3.8 -3.8M619.63 117.11h5.3M622.28 114.46v5.3M620.38 115.21l3.8 3.8M620.38 119.01l3.8 -3.8M622.63 114.54h5.3M625.28 111.89v5.3M623.38 112.64l3.8 3.8M623.38 116.44l3.8 -3.8M625.63 111.8h5.3M628.28 109.15v5.3M626.38 109.9l3.8 3.8M626.38 113.7l3.8 -3.8M628.63 108.83h5.3M631.28 106.18v5.3M629.38 106.93l3.8 3.8M629.38 110.73l3.8 -3.8M631.63 105.65h5.3M634.28 103v5.3M632.38 103.75l3.8 3.8M632.38 107.55l3.8 -3.8M634.63 102.32h5.3M637.28 99.67v5.3M635.38 100.42l3.8 3.8M635.38 104.22l3.8 -3.8M637.64 98.86h5.3M640.29 96.21v5.3M638.39 96.96l3.8 3.8M638.39 100.76l3.8 -3.8M640.64 95.26h5.3M643.29 92.61v5.3M641.39 93.36l3.8 3.8M641.39 97.16l3.8 -3.8M643.64 91.49h5.3M646.29 88.84v5.3M644.39 89.59l3.8 3.8M644.39 93.39l3.8 -3.8M646.64 87.5h5.3M649.29 84.85v5.3M647.39 85.6l3.8 3.8M647.39 89.4l3.8 -3.8M649.64 83.36h5.3M652.29 80.71v5.3M650.39 81.46l3.8 3.8M650.39 85.26l3.8 -3.8M652.64 78.94h5.3M655.29 76.29v5.3M653.39 77.04l3.8 3.8M653.39 80.84l3.8 -3.8M655.64 74.28h5.3M658.29 71.63v5.3M656.39 72.38l3.8 3.8M656.39 76.18l3.8 -3.8M658.64 69.47h5.3M661.29 66.82v5.3M659.39 67.57l3.8 3.8M659.39 71.37l3.8 -3.8M661.64 64.74h5.3M664.29 62.09v5.3M662.39 62.84l3.8 3.8M662.39 66.64l3.8 -3.8M664.64 59.88h5.3M667.29 57.23v5.3M665.39 57.98l3.8 3.8M665.39 61.78l3.8 -3.8M667.65 54.63h5.3M670.3 51.98v5.3M668.4 52.73l3.8 3.8M668.4 56.53l3.8 -3.8M670.65 48.91h5.3M673.3 46.26v5.3M671.4 47.01l3.8 3.8M671.4 50.81l3.8 -3.8M673.65 42.91h5.3M676.3 40.26v5.3M674.4 41.01l3.8 3.8M674.4 44.81l3.8 -3.8M676.65 36.79h5.3M679.3 34.14v5.3M677.4 34.89l3.8 3.8M677.4 38.69l3.8 -3.8M679.65 30.53h5.3M682.3 27.88v5.3M680.4 28.63l3.8 3.8M680.4 32.43l3.8 -3.8" fill="none" stroke="#0000FF" stroke-width="1.1"/><path d="M401.2 167.52l4.0 4.0M401.2 171.52l4.0 -4.0M404.2 167.53l4.0 4.0M404.2 171.53l4.0 -4.0M407.2 167.55l4.0 4.0M407.2 171.55l4.0 -4.0M410.21 167.56l4.0 4.0M410.21 171.56l4.0 -4.0M413.21 167.57l4.0 4.0M413.21 171.57l4.0 -4.0M416.21 167.58l4.0 4.0M416.21 171.58l4.0 -4.0M419.21 167.59l4.0 4.0M419.21 171.59l4.0 -4.0M422.21 167.59l4.0 4.0M422.21 171.59l4.0 -4.0M425.21 167.6l4.0 4.0M425.21 171.6l4.0 -4.0M428.21 167.6l4.0 4.0M428.21 171.6l4.0 -4.0M431.21 167.6l4.0 4.0M431.21 171.6l4.0 -4.0M434.21 167.6l4.0 4.0M434.21 171.6l4.0 -4.0M437.21 167.6l4.0 4.0M437.21 171.6l4.0 -4.0M440.22 167.6l4.0 4.0M440.22 171.6l4.0 -4.0M443.22 167.59l4.0 4.0M443.22 171.59l4.0 -4.0M446.22 167.57l4.0 4.0M446.22 171.57l4.0 -4.0M449.22 167.54l4.0 4.0M449.22 171.54l4.0 -4.0M452.22 167.51l4.0 4.0M452.22 171.51l4.0 -4.0M455.22 167.47l4.0 4.0M455.22 171.47l4.0 -4.0M458.22 167.42l4.0 4.0M458.22 171.42l4.0 -4.0M461.22 167.37l4.0 4.0M461.22 171.37l4.0 -4.0M464.22 167.32l4.0 4.0M464.22 171.32l4.0 -4.0M467.23 167.26l4.0 4.0M467.23 171.26l4.0 -4.0M470.23 167.19l4.0 4.0M470.23 171.19l4.0 -4.0M473.23 167.13l4.0 4.0M473.23 171.13l4.0 -4.0M476.23 167.06l4.0 4.0M476.23 171.06l4.0 -4.0M479.23 166.99l4.0 4.0M479.23 170.99l4.0 -4.0M482.23 166.92l4.0 4.0M482.23 170.92l4.0 -4.0M485.23 166.84l4.0 4.0M485.23 170.84l4.0 -4.0M488.23 166.76l4.0 4.0M488.23 170.76l4.0 -4.0M491.23 166.66l4.0 4.0M491.23 170.66l4.0 -4.0M494.23 166.56l4.0 4.0M494.23 170.56l4.0 -4.0M497.24 166.44l4.0 4.0M497.24 170.44l4.0 -4.0M500.24 166.31l4.0 4.0M500.24 170.31l4.0 -4.0M503.24 166.17l4.0 4.0M503.24 170.17l4.0 -4.0M506.24 166.02l4.0 4.0M506.24 170.02l4.0 -4.0M509.24 165.85l4.0 4.0M509.24 169.85l4.0 -4.0M512.24 165.67l4.0 4.0M512.24 169.67l4.0 -4.0M515.24 165.48l4.0 4.0M515.24 169.48l4.0 -4.0M518.24 165.27l4.0 4.0M518.24 169.27l4.0 -4.0M521.24 165.05l4.0 4.0M521.24 169.05l4.0 -4.0M524.25 164.81l4.0 4.0M524.25 168.81l4.0 -4.0M527.25 164.55l4.0 4.0M527.25 168.55l4.0 -4.0M530.25 164.24l4.0 4.0M530.25 168.24l4.0 -4.0M533.25 163.81l4.0 4.0M533.25 167.81l4.0 -4.0M536.25 163.3l4.0 4.0M536.25 167.3l4.0 -4.0M539.25 162.75l4.0 4.0M539.25 166.75l4.0 -4.0M542.25 162.22l4.0 4.0M542.25 166.22l4.0 -4.0M545.25 161.71l4.0 4.0M545.25 165.71l4.0 -4.0M548.25 161.22l4.0 4.0M548.25 165.22l4.0 -4.0M551.25 160.79l4.0 4.0M551.25 164.79l4.0 -4.0M554.26 160.34l4.0 4.0M554.26 164.34l4.0 -4.0M557.26 159.81l4.0 4.0M557.26 163.81l4.0 -4.0M560.26 159.12l4.0 4.0M560.26 163.12l4.0 -4.0M563.26 158.24l4.0 4.0M563.26 162.24l4.0 -4.0M566.26 157.23l4.0 4.0M566.26 161.23l4.0 -4.0M569.26 156.13l4.0 4.0M569.26 160.13l4.0 -4.0M572.26 154.91l4.0 4.0M572.26 158.91l4.0 -4.0M575.26 153.59l4.0 4.0M575.26 157.59l4.0 -4.0M578.26 152.23l4.0 4.0M578.26 156.23l4.0 -4.0M581.27 150.9l4.0 4.0M581.27 154.9l4.0 -4.0M584.27 149.53l4.0 4.0M584.27 153.53l4.0 -4.0M587.27 148.11l4.0 4.0M587.27 152.11l4.0 -4.0M590.27 146.64l4.0 4.0M590.27 150.64l4.0 -4.0M593.27 145.13l4.0 4.0M593.27 149.13l4.0 -4.0M596.27 143.55l4.0 4.0M596.27 147.55l4.0 -4.0M599.27 141.78l4.0 4.0M599.27 145.78l4.0 -4.0M602.27 139.79l4.0 4.0M602.27 143.79l4.0 -4.0M605.27 137.7l4.0 4.0M605.27 141.7l4.0 -4.0M608.27 135.41l4.0 4.0M608.27 139.41l4.0 -4.0M611.28 132.82l4.0 4.0M611.28 136.82l4.0 -4.0M614.28 129.94l4.0 4.0M614.28 133.94l4.0 -4.0M617.28 126.86l4.0 4.0M617.28 130.86l4.0 -4.0M620.28 123.62l4.0 4.0M620.28 127.62l4.0 -4.0M623.28 120.31l4.0 4.0M623.28 124.31l4.0 -4.0M626.28 116.89l4.0 4.0M626.28 120.89l4.0 -4.0M629.28 113.35l4.0 4.0M629.28 117.35l4.0 -4.0M632.28 109.66l4.0 4.0M632.28 113.66l4.0 -4.0M635.28 105.84l4.0 4.0M635.28 109.84l4.0 -4.0M638.29 101.88l4.0 4.0M638.29 105.88l4.0 -4.0M641.29 97.76l4.0 4.0M641.29 101.76l4.0 -4.0M644.29 93.5l4.0 4.0M644.29 97.5l4.0 -4.0M647.29 89.07l4.0 4.0M647.29 93.07l4.0 -4.0M650.29 84.57l4.0 4.0M650.29 88.57l4.0 -4.0M653.29 79.91l4.0 4.0M653.29 83.91l4.0 -4.0M656.29 75.04l4.0 4.0M656.29 79.04l4.0 -4.0M659.29 69.92l4.0 4.0M659.29 73.92l4.0 -4.0M662.29 64.78l4.0 4.0M662.29 68.78l4.0 -4.0M665.29 59.53l4.0 4.0M665.29 63.53l4.0 -4.0M668.3 54.08l4.0 4.0M668.3 58.08l4.0 -4.0M671.3 48.41l4.0 4.0M671.3 52.41l4.0 -4.0M674.3 42.61l4.0 4.0M674.3 46.61l4.0 -4.0M677.3 36.8l4.0 4.0M677.3 40.8l4.0 -4.0M680.3 31l4.0 4.0M680.3 35l4.0 -4.0" fill="none" stroke="#00FF00" stroke-width="1.35"/><path d="M400.55 195.1h5.3M403.2 192.45v5.3M403.55 195.1h5.3M406.2 192.45v5.3M406.55 195.09h5.3M409.2 192.44v5.3M409.56 195.09h5.3M412.21 192.44v5.3M412.56 195.09h5.3M415.21 192.44v5.3M415.56 195.08h5.3M418.21 192.43v5.3M418.56 195.07h5.3M421.21 192.42v5.3M421.56 195.06h5.3M424.21 192.41v5.3M424.56 195.05h5.3M427.21 192.4v5.3M427.56 195.04h5.3M430.21 192.39v5.3M430.56 195.03h5.3M433.21 192.38v5.3M433.56 195.02h5.3M436.21 192.37v5.3M436.56 195h5.3M439.21 192.35v5.3M439.57 194.98h5.3M442.22 192.33v5.3M442.57 194.95h5.3M445.22 192.3v5.3M445.57 194.9h5.3M448.22 192.25v5.3M448.57 194.84h5.3M451.22 192.19v5.3M451.57 194.77h5.3M454.22 192.12v5.3M454.57 194.69h5.3M457.22 192.04v5.3M457.57 194.59h5.3M460.22 191.94v5.3M460.57 194.49h5.3M463.22 191.84v5.3M463.57 194.37h5.3M466.22 191.72v5.3M466.58 194.25h5.3M469.23 191.6v5.3M469.58 194.12h5.3M472.23 191.47v5.3M472.58 193.98h5.3M475.23 191.33v5.3M475.58 193.84h5.3M478.23 191.19v5.3M478.58 193.69h5.3M481.23 191.04v5.3M481.58 193.54h5.3M484.23 190.89v5.3M484.58 193.36h5.3M487.23 190.71v5.3M487.58 193.16h5.3M490.23 190.51v5.3M490.58 192.91h5.3M493.23 190.26v5.3M493.58 192.64h5.3M496.23 189.99v5.3M496.59 192.34h5.3M499.24 189.69v5.3M499.59 192.01h5.3M502.24 189.36v5.3M502.59 191.67h5.3M505.24 189.02v5.3M505.59 191.31h5.3M508.24 188.66v5.3M508.59 190.94h5.3M511.24 188.29v5.3M511.59 190.54h5.3M514.24 187.89v5.3M514.59 190.1h5.3M517.24 187.45v5.3M517.59 189.62h5.3M520.24 186.97v5.3M520.59 189.1h5.3M523.24 186.45v5.3M523.6 188.55h5.3M526.25 185.9v5.3M526.6 187.94h5.3M529.25 185.29v5.3M529.6 187.27h5.3M532.25 184.62v5.3M532.6 186.51h5.3M535.25 183.86v5.3M535.6 185.67h5.3M538.25 183.02v5.3M538.6 184.77h5.3M541.25 182.12v5.3M541.6 183.83h5.3M544.25 181.18v5.3M544.6 182.88h5.3M547.25 180.23v5.3M547.6 181.92h5.3M550.25 179.27v5.3M550.6 180.95h5.3M553.25 178.3v5.3M553.61 179.95h5.3M556.26 177.3v5.3M556.61 178.86h5.3M559.26 176.21v5.3M559.61 177.79h5.3M562.26 175.14v5.3M562.61 176.65h5.3M565.26 174v5.3M565.61 175.38h5.3M568.26 172.73v5.3M568.61 173.91h5.3M571.26 171.26v5.3M571.61 172.21h5.3M574.26 169.56v5.3M574.61 170.32h5.3M577.26 167.67v5.3M577.61 168.32h5.3M580.26 165.67v5.3M580.62 166.23h5.3M583.27 163.58v5.3M583.62 164.04h5.3M586.27 161.39v5.3M586.62 161.76h5.3M589.27 159.11v5.3M589.62 159.31h5.3M592.27 156.66v5.3M592.62 156.76h5.3M595.27 154.11v5.3M595.62 154.14h5.3M598.27 151.49v5.3M598.62 151.48h5.3M601.27 148.83v5.3M601.62 148.77h5.3M604.27 146.12v5.3M604.62 145.86h5.3M607.27 143.21v5.3M607.62 142.87h5.3M610.27 140.22v5.3M610.63 139.82h5.3M613.28 137.17v5.3M613.63 136.71h5.3M616.28 134.06v5.3M616.63 133.56h5.3M619.28 130.91v5.3M619.63 130.39h5.3M622.28 127.74v5.3M622.63 127.17h5.3M625.28 124.52v5.3M625.63 123.86h5.3M628.28 121.21v5.3M628.63 120.41h5.3M631.28 117.76v5.3M631.63 116.82h5.3M634.28 114.17v5.3M634.63 113.05h5.3M637.28 110.4v5.3M637.64 109.05h5.3M640.29 106.4v5.3M640.64 104.81h5.3M643.29 102.16v5.3M643.64 100.36h5.3M646.29 97.71v5.3M646.64 95.78h5.3M649.29 93.13v5.3M649.64 91.06h5.3M652.29 88.41v5.3M652.64 86.22h5.3M655.29 83.57v5.3M655.64 81.2h5.3M658.29 78.55v5.3M658.64 75.9h5.3M661.29 73.25v5.3M661.64 70.4h5.3M664.29 67.75v5.3M664.64 64.59h5.3M667.29 61.94v5.3M667.65 58.63h5.3M670.3 55.98v5.3M670.65 52.55h5.3M673.3 49.9v5.3M673.65 46.35h5.3M676.3 43.7v5.3M676.65 40.13h5.3M679.3 37.48v5.3M679.65 34h5.3M682.3 31.35v5.3" fill="none" stroke="#FF0000" stroke-width="1.15"/><g clip-path="url(#clipc)"><path d="M49.62 543.41 L50.33 543.39 L51.03 543.37 L51.73 543.34 L52.44 543.32 L53.14 543.29 L53.85 543.27 L54.55 543.24 L55.25 543.21 L55.96 543.19 L56.66 543.16 L57.37 543.14 L58.07 543.11 L58.77 543.08 L59.48 543.05 L60.18 543.02 L60.88 542.99 L61.59 542.97 L62.29 542.94 L63 542.91 L63.7 542.88 L64.4 542.85 L65.11 542.81 L65.81 542.78 L66.52 542.75 L67.22 542.72 L67.92 542.69 L68.63 542.65 L69.33 542.62 L70.04 542.58 L70.74 542.55 L71.44 542.51 L72.15 542.48 L72.85 542.44 L73.56 542.41 L74.26 542.37 L74.96 542.33 L75.67 542.29 L76.37 542.26 L77.08 542.22 L77.78 542.18 L78.48 542.14 L79.19 542.1 L79.89 542.06 L80.6 542.01 L81.3 541.97 L82 541.93 L82.71 541.89 L83.41 541.84 L84.12 541.8 L84.82 541.75 L85.52 541.71 L86.23 541.66 L86.93 541.61 L87.64 541.57 L88.34 541.52 L89.04 541.47 L89.75 541.42 L90.45 541.37 L91.15 541.32 L91.86 541.27 L92.56 541.22 L93.27 541.16 L93.97 541.11 L94.67 541.06 L95.38 541 L96.08 540.95 L96.79 540.89 L97.49 540.83 L98.19 540.78 L98.9 540.72 L99.6 540.66 L100.31 540.6 L101.01 540.54 L101.71 540.48 L102.42 540.41 L103.12 540.35 L103.83 540.29 L104.53 540.22 L105.23 540.15 L105.94 540.09 L106.64 540.02 L107.35 539.95 L108.05 539.88 L108.75 539.81 L109.46 539.74 L110.16 539.67 L110.87 539.6 L111.57 539.52 L112.27 539.45 L112.98 539.37 L113.68 539.29 L114.39 539.21 L115.09 539.14 L115.79 539.06 L116.5 538.97 L117.2 538.89 L117.91 538.81 L118.61 538.72 L119.31 538.64 L120.02 538.55 L120.72 538.46 L121.43 538.37 L122.13 538.28 L122.83 538.19 L123.54 538.1 L124.24 538.01 L124.94 537.91 L125.65 537.81 L126.35 537.72 L127.06 537.62 L127.76 537.52 L128.46 537.42 L129.17 537.31 L129.87 537.21 L130.58 537.1 L131.28 537 L131.98 536.89 L132.69 536.78 L133.39 536.67 L134.1 536.55 L134.8 536.44 L135.5 536.32 L136.21 536.21 L136.91 536.09 L137.62 535.97 L138.32 535.84 L139.02 535.72 L139.73 535.6 L140.43 535.47 L141.14 535.34 L141.84 535.21 L142.54 535.08 L143.25 534.94 L143.95 534.81 L144.66 534.67 L145.36 534.53 L146.06 534.39 L146.77 534.25 L147.47 534.1 L148.18 533.96 L148.88 533.81 L149.58 533.66 L150.29 533.5 L150.99 533.35 L151.7 533.19 L152.4 533.03 L153.1 532.87 L153.81 532.71 L154.51 532.54 L155.21 532.38 L155.92 532.21 L156.62 532.04 L157.33 531.86 L158.03 531.69 L158.73 531.51 L159.44 531.33 L160.14 531.14 L160.85 530.96 L161.55 530.77 L162.25 530.58 L162.96 530.38 L163.66 530.19 L164.37 529.99 L165.07 529.79 L165.77 529.58 L166.48 529.38 L167.18 529.17 L167.89 528.96 L168.59 528.74 L169.29 528.52 L170 528.3 L170.7 528.08 L171.41 527.85 L172.11 527.62 L172.81 527.39 L173.52 527.16 L174.22 526.92 L174.93 526.68 L175.63 526.43 L176.33 526.18 L177.04 525.93 L177.74 525.68 L178.45 525.42 L179.15 525.16 L179.85 524.89 L180.56 524.62 L181.26 524.35 L181.97 524.07 L182.67 523.8 L183.37 523.51 L184.08 523.23 L184.78 522.93 L185.49 522.64 L186.19 522.34 L186.89 522.04 L187.6 521.73 L188.3 521.42 L189 521.11 L189.71 520.79 L190.41 520.47 L191.12 520.14 L191.82 519.81 L192.52 519.47 L193.23 519.13 L193.93 518.79 L194.64 518.44 L195.34 518.08 L196.04 517.73 L196.75 517.36 L197.45 516.99 L198.16 516.62 L198.86 516.24 L199.56 515.86 L200.27 515.47 L200.97 515.08 L201.68 514.68 L202.38 514.28 L203.08 513.87 L203.79 513.45 L204.49 513.03 L205.2 512.61 L205.9 512.18 L206.6 511.74 L207.31 511.3 L208.01 510.85 L208.72 510.4 L209.42 509.94 L210.12 509.47 L210.83 509 L211.53 508.52 L212.24 508.03 L212.94 507.54 L213.64 507.04 L214.35 506.54 L215.05 506.03 L215.76 505.51 L216.46 504.99 L217.16 504.45 L217.87 503.92 L218.57 503.37 L219.27 502.82 L219.98 502.26 L220.68 501.69 L221.39 501.11 L222.09 500.53 L222.79 499.94 L223.5 499.34 L224.2 498.73 L224.91 498.12 L225.61 497.5 L226.31 496.87 L227.02 496.23 L227.72 495.58 L228.43 494.92 L229.13 494.26 L229.83 493.58 L230.54 492.9 L231.24 492.21 L231.95 491.51 L232.65 490.8 L233.35 490.08 L234.06 489.35 L234.76 488.61 L235.47 487.86 L236.17 487.11 L236.87 486.34 L237.58 485.56 L238.28 484.77 L238.99 483.97 L239.69 483.16 L240.39 482.34 L241.1 481.51 L241.8 480.67 L242.51 479.81 L243.21 478.95 L243.91 478.07 L244.62 477.18 L245.32 476.29 L246.03 475.37 L246.73 474.45 L247.43 473.52 L248.14 472.57 L248.84 471.61 L249.55 470.63 L250.25 469.65 L250.95 468.65 L251.66 467.64 L252.36 466.61 L253.06 465.57 L253.77 464.52 L254.47 463.45 L255.18 462.37 L255.88 461.27 L256.58 460.16 L257.29 459.04 L257.99 457.9 L258.7 456.75 L259.4 455.58 L260.1 454.39 L260.81 453.19 L261.51 451.97 L262.22 450.74 L262.92 449.49 L263.62 448.23 L264.33 446.94 L265.03 445.64 L265.74 444.33 L266.44 442.99 L267.14 441.64 L267.85 440.27 L268.55 438.88 L269.26 437.48 L269.96 436.05 L270.66 434.61 L271.37 433.15 L272.07 431.67 L272.78 430.16 L273.48 428.64 L274.18 427.1 L274.89 425.54 L275.59 423.96 L276.3 422.35 L277 420.73 L277.7 419.08 L278.41 417.42 L279.11 415.73 L279.82 414.01 L280.52 412.28 L281.22 410.52 L281.93 408.74 L282.63 406.94 L283.33 405.11 L284.04 403.26 L284.74 401.38 L285.45 399.48 L286.15 397.55 L286.85 395.6 L287.56 393.62 L288.26 391.61 L288.97 389.58 L289.67 387.52 L290.37 385.44 L291.08 383.33 L291.78 381.19 L292.49 379.02 L293.19 376.82 L293.89 374.59 L294.6 372.34 L295.3 370.05 L296.01 367.73 L296.71 365.39 L297.41 363.01 L298.12 360.6 L298.82 358.16 L299.53 355.69 L300.23 353.18 L300.93 350.64 L301.64 348.07 L302.34 345.46 L303.05 342.82 L303.75 340.14 L304.45 337.43 L305.16 334.68 L305.86 331.9 L306.57 329.08 L307.27 326.22 L307.97 323.32 L308.68 320.39 L309.38 317.42 L310.09 314.4 L310.79 311.35" fill="none" stroke="#000" stroke-width="1.0"/><path d="M49.62 543.41 L50.33 543.39 L51.03 543.37 L51.73 543.34 L52.44 543.32 L53.14 543.29 L53.85 543.27 L54.55 543.24 L55.25 543.21 L55.96 543.19 L56.66 543.16 L57.37 543.14 L58.07 543.11 L58.77 543.08 L59.48 543.05 L60.18 543.02 L60.88 542.99 L61.59 542.97 L62.29 542.94 L63 542.91 L63.7 542.88 L64.4 542.85 L65.11 542.81 L65.81 542.78 L66.52 542.75 L67.22 542.72 L67.92 542.69 L68.63 542.65 L69.33 542.62 L70.04 542.58 L70.74 542.55 L71.44 542.51 L72.15 542.48 L72.85 542.44 L73.56 542.41 L74.26 542.37 L74.96 542.33 L75.67 542.29 L76.37 542.26 L77.08 542.22 L77.78 542.18 L78.48 542.14 L79.19 542.1 L79.89 542.06 L80.6 542.01 L81.3 541.97 L82 541.93 L82.71 541.89 L83.41 541.84 L84.12 541.8 L84.82 541.75 L85.52 541.71 L86.23 541.66 L86.93 541.61 L87.64 541.57 L88.34 541.52 L89.04 541.47 L89.75 541.42 L90.45 541.37 L91.15 541.32 L91.86 541.27 L92.56 541.22 L93.27 541.16 L93.97 541.11 L94.67 541.06 L95.38 541 L96.08 540.95 L96.79 540.89 L97.49 540.83 L98.19 540.78 L98.9 540.72 L99.6 540.66 L100.31 540.6 L101.01 540.54 L101.71 540.48 L102.42 540.41 L103.12 540.35 L103.83 540.29 L104.53 540.22 L105.23 540.15 L105.94 540.09 L106.64 540.02 L107.35 539.95 L108.05 539.88 L108.75 539.81 L109.46 539.74 L110.16 539.67 L110.87 539.6 L111.57 539.52 L112.27 539.45 L112.98 539.37 L113.68 539.29 L114.39 539.21 L115.09 539.14 L115.79 539.06 L116.5 538.97 L117.2 538.89 L117.91 538.81 L118.61 538.72 L119.31 538.64 L120.02 538.55 L120.72 538.46 L121.43 538.37 L122.13 538.28 L122.83 538.19 L123.54 538.1 L124.24 538.01 L124.94 537.91 L125.65 537.81 L126.35 537.72 L127.06 537.62 L127.76 537.52 L128.46 537.42 L129.17 537.31 L129.87 537.21 L130.58 537.1 L131.28 537 L131.98 536.89 L132.69 536.78 L133.39 536.67 L134.1 536.55 L134.8 536.44 L135.5 536.32 L136.21 536.21 L136.91 536.09 L137.62 535.97 L138.32 535.84 L139.02 535.72 L139.73 535.6 L140.43 535.47 L141.14 535.34 L141.84 535.21 L142.54 535.08 L143.25 534.94 L143.95 534.81 L144.66 534.67 L145.36 534.53 L146.06 534.39 L146.77 534.25 L147.47 534.1 L148.18 533.96 L148.88 533.81 L149.58 533.66 L150.29 533.5 L150.99 533.35 L151.7 533.19 L152.4 533.03 L153.1 532.87 L153.81 532.71 L154.51 532.54 L155.21 532.38 L155.92 532.21 L156.62 532.04 L157.33 531.86 L158.03 531.69 L158.73 531.51 L159.44 531.33 L160.14 531.14 L160.85 530.96 L161.55 530.77 L162.25 530.58 L162.96 530.38 L163.66 530.19 L164.37 529.99 L165.07 529.79 L165.77 529.58 L166.48 529.38 L167.18 529.17 L167.89 528.96 L168.59 528.74 L169.29 528.52 L170 528.3 L170.7 528.08 L171.41 527.85 L172.11 527.62 L172.81 527.39 L173.52 527.16 L174.22 526.92 L174.93 526.68 L175.63 526.43 L176.33 526.18 L177.04 525.93 L177.74 525.68 L178.45 525.42 L179.15 525.16 L179.85 524.89 L180.56 524.62 L181.26 524.35 L181.97 524.07 L182.67 523.8 L183.37 523.51 L184.08 523.23 L184.78 522.93 L185.49 522.64 L186.19 522.34 L186.89 522.04 L187.6 521.73 L188.3 521.42 L189 521.11 L189.71 520.79 L190.41 520.47 L191.12 520.14 L191.82 519.81 L192.52 519.47 L193.23 519.13 L193.93 518.79 L194.64 518.44 L195.34 518.08 L196.04 517.73 L196.75 517.36 L197.45 516.99 L198.16 516.62 L198.86 516.24 L199.56 515.86 L200.27 515.47 L200.97 515.08 L201.68 514.68 L202.38 514.28 L203.08 513.87 L203.79 513.45 L204.49 513.03 L205.2 512.61 L205.9 512.18 L206.6 511.74 L207.31 511.3 L208.01 510.85 L208.72 510.4 L209.42 509.94 L210.12 509.47 L210.83 509 L211.53 508.52 L212.24 508.03 L212.94 507.54 L213.64 507.04 L214.35 506.54 L215.05 506.03 L215.76 505.51 L216.46 504.99 L217.16 504.45 L217.87 503.92 L218.57 503.37 L219.27 502.82 L219.98 502.26 L220.68 501.69 L221.39 501.11 L222.09 500.53 L222.79 499.94 L223.5 499.34 L224.2 498.73 L224.91 498.12 L225.61 497.5 L226.31 496.87 L227.02 496.23 L227.72 495.58 L228.43 494.92 L229.13 494.26 L229.83 493.58 L230.54 492.9 L231.24 492.21 L231.95 491.51 L232.65 490.8 L233.35 490.08 L234.06 489.35 L234.76 488.61 L235.47 487.86 L236.17 487.11 L236.87 486.34 L237.58 485.56 L238.28 484.77 L238.99 483.97 L239.69 483.16 L240.39 482.34 L241.1 481.51 L241.8 480.67 L242.51 479.81 L243.21 478.95 L243.91 478.07 L244.62 477.18 L245.32 476.29 L246.03 475.37 L246.73 474.45 L247.43 473.52 L248.14 472.57 L248.84 471.61 L249.55 470.63 L250.25 469.65 L250.95 468.65 L251.66 467.64 L252.36 466.61 L253.06 465.57 L253.77 464.52 L254.47 463.45 L255.18 462.37 L255.88 461.27 L256.58 460.16 L257.29 459.04 L257.99 457.9 L258.7 456.75 L259.4 455.58 L260.1 454.39 L260.81 453.19 L261.51 451.97 L262.22 450.74 L262.92 449.49 L263.62 448.23 L264.33 446.94 L265.03 445.64 L265.74 444.33 L266.44 442.99 L267.14 441.64 L267.85 440.27 L268.55 438.88 L269.26 437.48 L269.96 436.05 L270.66 434.61 L271.37 433.15 L272.07 431.67 L272.78 430.16 L273.48 428.64 L274.18 427.1 L274.89 425.54 L275.59 423.96 L276.3 422.35 L277 420.73 L277.7 419.08 L278.41 417.42 L279.11 415.73 L279.82 414.01 L280.52 412.28 L281.22 410.52 L281.93 408.74 L282.63 406.94 L283.33 405.11 L284.04 403.26 L284.74 401.38 L285.45 399.48 L286.15 397.55 L286.85 395.6 L287.56 393.62 L288.26 391.61 L288.97 389.58 L289.67 387.52 L290.37 385.44 L291.08 383.33 L291.78 381.19 L292.49 379.02 L293.19 376.82 L293.89 374.59 L294.6 372.34 L295.3 370.05 L296.01 367.73 L296.71 365.39 L297.41 363.01 L298.12 360.6 L298.82 358.16 L299.53 355.69 L300.23 353.18 L300.93 350.64 L301.64 348.07 L302.34 345.46 L303.05 342.82 L303.75 340.14 L304.45 337.43 L305.16 334.68 L305.86 331.9 L306.57 329.08 L307.27 326.22 L307.97 323.32 L308.68 320.39 L309.38 317.42 L310.09 314.4 L310.79 311.35" fill="none" stroke="#FF30FF" stroke-width="1.5" stroke-dasharray="7.5 4.5"/></g><path d="M47.42 466L52.42 468.7L47.42 471.4ZM50.44 466L55.44 468.7L50.44 471.4ZM53.46 465.99L58.46 468.69L53.46 471.39ZM56.48 465.99L61.48 468.69L56.48 471.39ZM59.5 465.99L64.5 468.69L59.5 471.39ZM62.52 465.98L67.52 468.68L62.52 471.38ZM65.54 465.98L70.54 468.68L65.54 471.38ZM68.56 465.97L73.56 468.67L68.56 471.37ZM71.58 465.97L76.58 468.67L71.58 471.37ZM74.6 465.96L79.6 468.66L74.6 471.36ZM77.62 465.96L82.62 468.66L77.62 471.36ZM80.64 465.95L85.64 468.65L80.64 471.35ZM83.66 465.94L88.66 468.64L83.66 471.34ZM86.68 465.93L91.68 468.63L86.68 471.33ZM89.7 465.92L94.7 468.62L89.7 471.32ZM92.72 465.91L97.72 468.61L92.72 471.31ZM95.74 465.89L100.74 468.59L95.74 471.29ZM98.76 465.88L103.76 468.58L98.76 471.28ZM101.79 465.86L106.79 468.56L101.79 471.26ZM104.81 465.84L109.81 468.54L104.81 471.24ZM107.83 465.82L112.83 468.52L107.83 471.22ZM110.85 465.8L115.85 468.5L110.85 471.2ZM113.87 465.77L118.87 468.47L113.87 471.17ZM116.89 465.74L121.89 468.44L116.89 471.14ZM119.91 465.71L124.91 468.41L119.91 471.11ZM122.93 465.67L127.93 468.37L122.93 471.07ZM125.95 465.63L130.95 468.33L125.95 471.03ZM128.97 465.58L133.97 468.28L128.97 470.98ZM131.99 465.53L136.99 468.23L131.99 470.93ZM135.01 465.47L140.01 468.17L135.01 470.87ZM138.03 465.41L143.03 468.11L138.03 470.81ZM141.05 465.34L146.05 468.04L141.05 470.74ZM144.07 465.25L149.07 467.95L144.07 470.65ZM147.09 465.16L152.09 467.86L147.09 470.56ZM150.11 465.06L155.11 467.76L150.11 470.46ZM153.13 464.95L158.13 467.65L153.13 470.35ZM156.15 464.82L161.15 467.52L156.15 470.22ZM159.17 464.68L164.17 467.38L159.17 470.08ZM162.19 464.52L167.19 467.22L162.19 469.92ZM165.21 464.34L170.21 467.04L165.21 469.74ZM168.23 464.15L173.23 466.85L168.23 469.55ZM171.25 463.93L176.25 466.63L171.25 469.33ZM174.27 463.68L179.27 466.38L174.27 469.08ZM177.29 463.4L182.29 466.1L177.29 468.8ZM180.31 463.1L185.31 465.8L180.31 468.5ZM183.33 462.76L188.33 465.46L183.33 468.16ZM186.35 462.38L191.35 465.08L186.35 467.78ZM189.37 461.95L194.37 464.65L189.37 467.35ZM192.39 461.48L197.39 464.18L192.39 466.88ZM195.41 460.96L200.41 463.66L195.41 466.36ZM198.43 460.37L203.43 463.07L198.43 465.77ZM201.45 459.72L206.45 462.42L201.45 465.12ZM204.47 459L209.47 461.7L204.47 464.4ZM207.49 458.21L212.49 460.91L207.49 463.61ZM210.51 457.32L215.51 460.02L210.51 462.72ZM213.53 456.34L218.53 459.04L213.53 461.74ZM216.55 455.26L221.55 457.96L216.55 460.66ZM219.57 454.06L224.57 456.76L219.57 459.46ZM222.59 452.74L227.59 455.44L222.59 458.14ZM225.61 451.29L230.61 453.99L225.61 456.69ZM228.63 449.69L233.63 452.39L228.63 455.09ZM231.65 447.92L236.65 450.62L231.65 453.32ZM234.67 445.99L239.67 448.69L234.67 451.39ZM237.69 443.87L242.69 446.57L237.69 449.27ZM240.71 441.55L245.71 444.25L240.71 446.95ZM243.73 439.02L248.73 441.72L243.73 444.42ZM246.75 436.25L251.75 438.95L246.75 441.65ZM249.77 433.24L254.77 435.94L249.77 438.64ZM252.8 429.97L257.8 432.67L252.8 435.37ZM255.82 426.41L260.82 429.11L255.82 431.81ZM258.84 422.55L263.84 425.25L258.84 427.95ZM261.86 418.38L266.86 421.08L261.86 423.78ZM264.88 413.87L269.88 416.57L264.88 419.27ZM267.9 409L272.9 411.7L267.9 414.4ZM270.92 403.75L275.92 406.45L270.92 409.15ZM273.94 398.1L278.94 400.8L273.94 403.5ZM276.96 392.03L281.96 394.73L276.96 397.43ZM279.98 385.51L284.98 388.21L279.98 390.91ZM283 378.53L288 381.23L283 383.93ZM286.02 371.04L291.02 373.74L286.02 376.44ZM289.04 363.03L294.04 365.73L289.04 368.43ZM292.06 354.47L297.06 357.17L292.06 359.87ZM295.08 345.33L300.08 348.03L295.08 350.73ZM298.1 335.58L303.1 338.28L298.1 340.98ZM301.12 325.18L306.12 327.88L301.12 330.58ZM304.14 314.11L309.14 316.81L304.14 319.51Z" fill="none" stroke="#D95319" stroke-width="1.1"/><path d="M46.92 483.94a2.7 2.7 0 1 0 5.4 0a2.7 2.7 0 1 0 -5.4 0M49.94 483.94a2.7 2.7 0 1 0 5.4 0a2.7 2.7 0 1 0 -5.4 0M52.96 483.94a2.7 2.7 0 1 0 5.4 0a2.7 2.7 0 1 0 -5.4 0M55.98 483.93a2.7 2.7 0 1 0 5.4 0a2.7 2.7 0 1 0 -5.4 0M59 483.93a2.7 2.7 0 1 0 5.4 0a2.7 2.7 0 1 0 -5.4 0M62.02 483.92a2.7 2.7 0 1 0 5.4 0a2.7 2.7 0 1 0 -5.4 0M65.04 483.92a2.7 2.7 0 1 0 5.4 0a2.7 2.7 0 1 0 -5.4 0M68.06 483.91a2.7 2.7 0 1 0 5.4 0a2.7 2.7 0 1 0 -5.4 0M71.08 483.91a2.7 2.7 0 1 0 5.4 0a2.7 2.7 0 1 0 -5.4 0M74.1 483.9a2.7 2.7 0 1 0 5.4 0a2.7 2.7 0 1 0 -5.4 0M77.12 483.89a2.7 2.7 0 1 0 5.4 0a2.7 2.7 0 1 0 -5.4 0M80.14 483.88a2.7 2.7 0 1 0 5.4 0a2.7 2.7 0 1 0 -5.4 0M83.16 483.87a2.7 2.7 0 1 0 5.4 0a2.7 2.7 0 1 0 -5.4 0M86.18 483.86a2.7 2.7 0 1 0 5.4 0a2.7 2.7 0 1 0 -5.4 0M89.2 483.84a2.7 2.7 0 1 0 5.4 0a2.7 2.7 0 1 0 -5.4 0M92.22 483.83a2.7 2.7 0 1 0 5.4 0a2.7 2.7 0 1 0 -5.4 0M95.24 483.81a2.7 2.7 0 1 0 5.4 0a2.7 2.7 0 1 0 -5.4 0M98.26 483.79a2.7 2.7 0 1 0 5.4 0a2.7 2.7 0 1 0 -5.4 0M101.29 483.77a2.7 2.7 0 1 0 5.4 0a2.7 2.7 0 1 0 -5.4 0M104.31 483.75a2.7 2.7 0 1 0 5.4 0a2.7 2.7 0 1 0 -5.4 0M107.33 483.72a2.7 2.7 0 1 0 5.4 0a2.7 2.7 0 1 0 -5.4 0M110.35 483.69a2.7 2.7 0 1 0 5.4 0a2.7 2.7 0 1 0 -5.4 0M113.37 483.66a2.7 2.7 0 1 0 5.4 0a2.7 2.7 0 1 0 -5.4 0M116.39 483.62a2.7 2.7 0 1 0 5.4 0a2.7 2.7 0 1 0 -5.4 0M119.41 483.58a2.7 2.7 0 1 0 5.4 0a2.7 2.7 0 1 0 -5.4 0M122.43 483.53a2.7 2.7 0 1 0 5.4 0a2.7 2.7 0 1 0 -5.4 0M125.45 483.48a2.7 2.7 0 1 0 5.4 0a2.7 2.7 0 1 0 -5.4 0M128.47 483.42a2.7 2.7 0 1 0 5.4 0a2.7 2.7 0 1 0 -5.4 0M131.49 483.36a2.7 2.7 0 1 0 5.4 0a2.7 2.7 0 1 0 -5.4 0M134.51 483.29a2.7 2.7 0 1 0 5.4 0a2.7 2.7 0 1 0 -5.4 0M137.53 483.21a2.7 2.7 0 1 0 5.4 0a2.7 2.7 0 1 0 -5.4 0M140.55 483.12a2.7 2.7 0 1 0 5.4 0a2.7 2.7 0 1 0 -5.4 0M143.57 483.02a2.7 2.7 0 1 0 5.4 0a2.7 2.7 0 1 0 -5.4 0M146.59 482.9a2.7 2.7 0 1 0 5.4 0a2.7 2.7 0 1 0 -5.4 0M149.61 482.78a2.7 2.7 0 1 0 5.4 0a2.7 2.7 0 1 0 -5.4 0M152.63 482.64a2.7 2.7 0 1 0 5.4 0a2.7 2.7 0 1 0 -5.4 0M155.65 482.48a2.7 2.7 0 1 0 5.4 0a2.7 2.7 0 1 0 -5.4 0M158.67 482.3a2.7 2.7 0 1 0 5.4 0a2.7 2.7 0 1 0 -5.4 0M161.69 482.11a2.7 2.7 0 1 0 5.4 0a2.7 2.7 0 1 0 -5.4 0M164.71 481.89a2.7 2.7 0 1 0 5.4 0a2.7 2.7 0 1 0 -5.4 0M167.73 481.64a2.7 2.7 0 1 0 5.4 0a2.7 2.7 0 1 0 -5.4 0M170.75 481.37a2.7 2.7 0 1 0 5.4 0a2.7 2.7 0 1 0 -5.4 0M173.77 481.07a2.7 2.7 0 1 0 5.4 0a2.7 2.7 0 1 0 -5.4 0M176.79 480.73a2.7 2.7 0 1 0 5.4 0a2.7 2.7 0 1 0 -5.4 0M179.81 480.36a2.7 2.7 0 1 0 5.4 0a2.7 2.7 0 1 0 -5.4 0M182.83 479.94a2.7 2.7 0 1 0 5.4 0a2.7 2.7 0 1 0 -5.4 0M185.85 479.47a2.7 2.7 0 1 0 5.4 0a2.7 2.7 0 1 0 -5.4 0M188.87 478.96a2.7 2.7 0 1 0 5.4 0a2.7 2.7 0 1 0 -5.4 0M191.89 478.39a2.7 2.7 0 1 0 5.4 0a2.7 2.7 0 1 0 -5.4 0M194.91 477.75a2.7 2.7 0 1 0 5.4 0a2.7 2.7 0 1 0 -5.4 0M197.93 477.05a2.7 2.7 0 1 0 5.4 0a2.7 2.7 0 1 0 -5.4 0M200.95 476.27a2.7 2.7 0 1 0 5.4 0a2.7 2.7 0 1 0 -5.4 0M203.97 475.4a2.7 2.7 0 1 0 5.4 0a2.7 2.7 0 1 0 -5.4 0M206.99 474.45a2.7 2.7 0 1 0 5.4 0a2.7 2.7 0 1 0 -5.4 0M210.01 473.4a2.7 2.7 0 1 0 5.4 0a2.7 2.7 0 1 0 -5.4 0M213.03 472.24a2.7 2.7 0 1 0 5.4 0a2.7 2.7 0 1 0 -5.4 0M216.05 470.96a2.7 2.7 0 1 0 5.4 0a2.7 2.7 0 1 0 -5.4 0M219.07 469.56a2.7 2.7 0 1 0 5.4 0a2.7 2.7 0 1 0 -5.4 0M222.09 468.02a2.7 2.7 0 1 0 5.4 0a2.7 2.7 0 1 0 -5.4 0M225.11 466.33a2.7 2.7 0 1 0 5.4 0a2.7 2.7 0 1 0 -5.4 0M228.13 464.49a2.7 2.7 0 1 0 5.4 0a2.7 2.7 0 1 0 -5.4 0M231.15 462.47a2.7 2.7 0 1 0 5.4 0a2.7 2.7 0 1 0 -5.4 0M234.17 460.26a2.7 2.7 0 1 0 5.4 0a2.7 2.7 0 1 0 -5.4 0M237.19 457.86a2.7 2.7 0 1 0 5.4 0a2.7 2.7 0 1 0 -5.4 0M240.21 455.25a2.7 2.7 0 1 0 5.4 0a2.7 2.7 0 1 0 -5.4 0M243.23 452.42a2.7 2.7 0 1 0 5.4 0a2.7 2.7 0 1 0 -5.4 0M246.25 449.34a2.7 2.7 0 1 0 5.4 0a2.7 2.7 0 1 0 -5.4 0M249.27 446.02a2.7 2.7 0 1 0 5.4 0a2.7 2.7 0 1 0 -5.4 0M252.3 442.42a2.7 2.7 0 1 0 5.4 0a2.7 2.7 0 1 0 -5.4 0M255.32 438.54a2.7 2.7 0 1 0 5.4 0a2.7 2.7 0 1 0 -5.4 0M258.34 434.35a2.7 2.7 0 1 0 5.4 0a2.7 2.7 0 1 0 -5.4 0M261.36 429.85a2.7 2.7 0 1 0 5.4 0a2.7 2.7 0 1 0 -5.4 0M264.38 425.01a2.7 2.7 0 1 0 5.4 0a2.7 2.7 0 1 0 -5.4 0M267.4 419.81a2.7 2.7 0 1 0 5.4 0a2.7 2.7 0 1 0 -5.4 0M270.42 414.24a2.7 2.7 0 1 0 5.4 0a2.7 2.7 0 1 0 -5.4 0M273.44 408.27a2.7 2.7 0 1 0 5.4 0a2.7 2.7 0 1 0 -5.4 0M276.46 401.88a2.7 2.7 0 1 0 5.4 0a2.7 2.7 0 1 0 -5.4 0M279.48 395.05a2.7 2.7 0 1 0 5.4 0a2.7 2.7 0 1 0 -5.4 0M282.5 387.76a2.7 2.7 0 1 0 5.4 0a2.7 2.7 0 1 0 -5.4 0M285.52 379.98a2.7 2.7 0 1 0 5.4 0a2.7 2.7 0 1 0 -5.4 0M288.54 371.68a2.7 2.7 0 1 0 5.4 0a2.7 2.7 0 1 0 -5.4 0M291.56 362.84a2.7 2.7 0 1 0 5.4 0a2.7 2.7 0 1 0 -5.4 0M294.58 353.43a2.7 2.7 0 1 0 5.4 0a2.7 2.7 0 1 0 -5.4 0M297.6 343.42a2.7 2.7 0 1 0 5.4 0a2.7 2.7 0 1 0 -5.4 0M300.62 332.77a2.7 2.7 0 1 0 5.4 0a2.7 2.7 0 1 0 -5.4 0M303.64 321.45a2.7 2.7 0 1 0 5.4 0a2.7 2.7 0 1 0 -5.4 0M306.66 309.42a2.7 2.7 0 1 0 5.4 0a2.7 2.7 0 1 0 -5.4 0" fill="none" stroke="#0072BD" stroke-width="1.0"/><path d="M46.97 498.95h5.3M49.62 496.3v5.3M47.72 497.05l3.8 3.8M47.72 500.85l3.8 -3.8M49.99 498.95h5.3M52.64 496.3v5.3M50.74 497.05l3.8 3.8M50.74 500.85l3.8 -3.8M53.01 498.94h5.3M55.66 496.29v5.3M53.76 497.04l3.8 3.8M53.76 500.84l3.8 -3.8M56.03 498.94h5.3M58.68 496.29v5.3M56.78 497.04l3.8 3.8M56.78 500.84l3.8 -3.8M59.05 498.93h5.3M61.7 496.28v5.3M59.8 497.03l3.8 3.8M59.8 500.83l3.8 -3.8M62.07 498.92h5.3M64.72 496.27v5.3M62.82 497.02l3.8 3.8M62.82 500.82l3.8 -3.8M65.09 498.92h5.3M67.74 496.27v5.3M65.84 497.02l3.8 3.8M65.84 500.82l3.8 -3.8M68.11 498.91h5.3M70.76 496.26v5.3M68.86 497.01l3.8 3.8M68.86 500.81l3.8 -3.8M71.13 498.9h5.3M73.78 496.25v5.3M71.88 497l3.8 3.8M71.88 500.8l3.8 -3.8M74.15 498.89h5.3M76.8 496.24v5.3M74.9 496.99l3.8 3.8M74.9 500.79l3.8 -3.8M77.17 498.88h5.3M79.82 496.23v5.3M77.92 496.98l3.8 3.8M77.92 500.78l3.8 -3.8M80.19 498.86h5.3M82.84 496.21v5.3M80.94 496.96l3.8 3.8M80.94 500.76l3.8 -3.8M83.21 498.85h5.3M85.86 496.2v5.3M83.96 496.95l3.8 3.8M83.96 500.75l3.8 -3.8M86.23 498.83h5.3M88.88 496.18v5.3M86.98 496.93l3.8 3.8M86.98 500.73l3.8 -3.8M89.25 498.82h5.3M91.9 496.17v5.3M90 496.92l3.8 3.8M90 500.72l3.8 -3.8M92.27 498.8h5.3M94.92 496.15v5.3M93.02 496.9l3.8 3.8M93.02 500.7l3.8 -3.8M95.29 498.77h5.3M97.94 496.12v5.3M96.04 496.87l3.8 3.8M96.04 500.67l3.8 -3.8M98.31 498.75h5.3M100.96 496.1v5.3M99.06 496.85l3.8 3.8M99.06 500.65l3.8 -3.8M101.34 498.72h5.3M103.99 496.07v5.3M102.09 496.82l3.8 3.8M102.09 500.62l3.8 -3.8M104.36 498.69h5.3M107.01 496.04v5.3M105.11 496.79l3.8 3.8M105.11 500.59l3.8 -3.8M107.38 498.66h5.3M110.03 496.01v5.3M108.13 496.76l3.8 3.8M108.13 500.56l3.8 -3.8M110.4 498.62h5.3M113.05 495.97v5.3M111.15 496.72l3.8 3.8M111.15 500.52l3.8 -3.8M113.42 498.57h5.3M116.07 495.92v5.3M114.17 496.67l3.8 3.8M114.17 500.47l3.8 -3.8M116.44 498.52h5.3M119.09 495.87v5.3M117.19 496.62l3.8 3.8M117.19 500.42l3.8 -3.8M119.46 498.47h5.3M122.11 495.82v5.3M120.21 496.57l3.8 3.8M120.21 500.37l3.8 -3.8M122.48 498.41h5.3M125.13 495.76v5.3M123.23 496.51l3.8 3.8M123.23 500.31l3.8 -3.8M125.5 498.34h5.3M128.15 495.69v5.3M126.25 496.44l3.8 3.8M126.25 500.24l3.8 -3.8M128.52 498.26h5.3M131.17 495.61v5.3M129.27 496.36l3.8 3.8M129.27 500.16l3.8 -3.8M131.54 498.18h5.3M134.19 495.53v5.3M132.29 496.28l3.8 3.8M132.29 500.08l3.8 -3.8M134.56 498.08h5.3M137.21 495.43v5.3M135.31 496.18l3.8 3.8M135.31 499.98l3.8 -3.8M137.58 497.98h5.3M140.23 495.33v5.3M138.33 496.08l3.8 3.8M138.33 499.88l3.8 -3.8M140.6 497.86h5.3M143.25 495.21v5.3M141.35 495.96l3.8 3.8M141.35 499.76l3.8 -3.8M143.62 497.73h5.3M146.27 495.08v5.3M144.37 495.83l3.8 3.8M144.37 499.63l3.8 -3.8M146.64 497.58h5.3M149.29 494.93v5.3M147.39 495.68l3.8 3.8M147.39 499.48l3.8 -3.8M149.66 497.41h5.3M152.31 494.76v5.3M150.41 495.51l3.8 3.8M150.41 499.31l3.8 -3.8M152.68 497.23h5.3M155.33 494.58v5.3M153.43 495.33l3.8 3.8M153.43 499.13l3.8 -3.8M155.7 497.03h5.3M158.35 494.38v5.3M156.45 495.13l3.8 3.8M156.45 498.93l3.8 -3.8M158.72 496.8h5.3M161.37 494.15v5.3M159.47 494.9l3.8 3.8M159.47 498.7l3.8 -3.8M161.74 496.54h5.3M164.39 493.89v5.3M162.49 494.64l3.8 3.8M162.49 498.44l3.8 -3.8M164.76 496.26h5.3M167.41 493.61v5.3M165.51 494.36l3.8 3.8M165.51 498.16l3.8 -3.8M167.78 495.94h5.3M170.43 493.29v5.3M168.53 494.04l3.8 3.8M168.53 497.84l3.8 -3.8M170.8 495.59h5.3M173.45 492.94v5.3M171.55 493.69l3.8 3.8M171.55 497.49l3.8 -3.8M173.82 495.21h5.3M176.47 492.56v5.3M174.57 493.31l3.8 3.8M174.57 497.11l3.8 -3.8M176.84 494.77h5.3M179.49 492.12v5.3M177.59 492.87l3.8 3.8M177.59 496.67l3.8 -3.8M179.86 494.29h5.3M182.51 491.64v5.3M180.61 492.39l3.8 3.8M180.61 496.19l3.8 -3.8M182.88 493.76h5.3M185.53 491.11v5.3M183.63 491.86l3.8 3.8M183.63 495.66l3.8 -3.8M185.9 493.18h5.3M188.55 490.53v5.3M186.65 491.28l3.8 3.8M186.65 495.08l3.8 -3.8M188.92 492.52h5.3M191.57 489.87v5.3M189.67 490.62l3.8 3.8M189.67 494.42l3.8 -3.8M191.94 491.81h5.3M194.59 489.16v5.3M192.69 489.91l3.8 3.8M192.69 493.71l3.8 -3.8M194.96 491.01h5.3M197.61 488.36v5.3M195.71 489.11l3.8 3.8M195.71 492.91l3.8 -3.8M197.98 490.14h5.3M200.63 487.49v5.3M198.73 488.24l3.8 3.8M198.73 492.04l3.8 -3.8M201 489.18h5.3M203.65 486.53v5.3M201.75 487.28l3.8 3.8M201.75 491.08l3.8 -3.8M204.02 488.12h5.3M206.67 485.47v5.3M204.77 486.22l3.8 3.8M204.77 490.02l3.8 -3.8M207.04 486.96h5.3M209.69 484.31v5.3M207.79 485.06l3.8 3.8M207.79 488.86l3.8 -3.8M210.06 485.68h5.3M212.71 483.03v5.3M210.81 483.78l3.8 3.8M210.81 487.58l3.8 -3.8M213.08 484.29h5.3M215.73 481.64v5.3M213.83 482.39l3.8 3.8M213.83 486.19l3.8 -3.8M216.1 482.77h5.3M218.75 480.12v5.3M216.85 480.87l3.8 3.8M216.85 484.67l3.8 -3.8M219.12 481.11h5.3M221.77 478.46v5.3M219.87 479.21l3.8 3.8M219.87 483.01l3.8 -3.8M222.14 479.3h5.3M224.79 476.65v5.3M222.89 477.4l3.8 3.8M222.89 481.2l3.8 -3.8M225.16 477.33h5.3M227.81 474.68v5.3M225.91 475.43l3.8 3.8M225.91 479.23l3.8 -3.8M228.18 475.19h5.3M230.83 472.54v5.3M228.93 473.29l3.8 3.8M228.93 477.09l3.8 -3.8M231.2 472.87h5.3M233.85 470.22v5.3M231.95 470.97l3.8 3.8M231.95 474.77l3.8 -3.8M234.22 470.36h5.3M236.87 467.71v5.3M234.97 468.46l3.8 3.8M234.97 472.26l3.8 -3.8M237.24 467.65h5.3M239.89 465v5.3M237.99 465.75l3.8 3.8M237.99 469.55l3.8 -3.8M240.26 464.72h5.3M242.91 462.07v5.3M241.01 462.82l3.8 3.8M241.01 466.62l3.8 -3.8M243.28 461.56h5.3M245.93 458.91v5.3M244.03 459.66l3.8 3.8M244.03 463.46l3.8 -3.8M246.3 458.17h5.3M248.95 455.52v5.3M247.05 456.27l3.8 3.8M247.05 460.07l3.8 -3.8M249.32 454.51h5.3M251.97 451.86v5.3M250.07 452.61l3.8 3.8M250.07 456.41l3.8 -3.8M252.35 450.59h5.3M255 447.94v5.3M253.1 448.69l3.8 3.8M253.1 452.49l3.8 -3.8M255.37 446.39h5.3M258.02 443.74v5.3M256.12 444.49l3.8 3.8M256.12 448.29l3.8 -3.8M258.39 441.89h5.3M261.04 439.24v5.3M259.14 439.99l3.8 3.8M259.14 443.79l3.8 -3.8M261.41 437.07h5.3M264.06 434.42v5.3M262.16 435.17l3.8 3.8M262.16 438.97l3.8 -3.8M264.43 431.92h5.3M267.08 429.27v5.3M265.18 430.02l3.8 3.8M265.18 433.82l3.8 -3.8M267.45 426.42h5.3M270.1 423.77v5.3M268.2 424.52l3.8 3.8M268.2 428.32l3.8 -3.8M270.47 420.55h5.3M273.12 417.9v5.3M271.22 418.65l3.8 3.8M271.22 422.45l3.8 -3.8M273.49 414.29h5.3M276.14 411.64v5.3M274.24 412.39l3.8 3.8M274.24 416.19l3.8 -3.8M276.51 407.62h5.3M279.16 404.97v5.3M277.26 405.72l3.8 3.8M277.26 409.52l3.8 -3.8M279.53 400.52h5.3M282.18 397.87v5.3M280.28 398.62l3.8 3.8M280.28 402.42l3.8 -3.8M282.55 392.97h5.3M285.2 390.32v5.3M283.3 391.07l3.8 3.8M283.3 394.87l3.8 -3.8M285.57 384.94h5.3M288.22 382.29v5.3M286.32 383.04l3.8 3.8M286.32 386.84l3.8 -3.8M288.59 376.4h5.3M291.24 373.75v5.3M289.34 374.5l3.8 3.8M289.34 378.3l3.8 -3.8M291.61 367.32h5.3M294.26 364.67v5.3M292.36 365.42l3.8 3.8M292.36 369.22l3.8 -3.8M294.63 357.69h5.3M297.28 355.04v5.3M295.38 355.79l3.8 3.8M295.38 359.59l3.8 -3.8M297.65 347.46h5.3M300.3 344.81v5.3M298.4 345.56l3.8 3.8M298.4 349.36l3.8 -3.8M300.67 336.6h5.3M303.32 333.95v5.3M301.42 334.7l3.8 3.8M301.42 338.5l3.8 -3.8M303.69 325.09h5.3M306.34 322.44v5.3M304.44 323.19l3.8 3.8M304.44 326.99l3.8 -3.8M306.71 312.87h5.3M309.36 310.22v5.3M307.46 310.97l3.8 3.8M307.46 314.77l3.8 -3.8" fill="none" stroke="#0000FF" stroke-width="1.1"/><path d="M47.62 512.42l4.0 4.0M47.62 516.42l4.0 -4.0M50.64 512.41l4.0 4.0M50.64 516.41l4.0 -4.0M53.66 512.4l4.0 4.0M53.66 516.4l4.0 -4.0M56.68 512.39l4.0 4.0M56.68 516.39l4.0 -4.0M59.7 512.39l4.0 4.0M59.7 516.39l4.0 -4.0M62.72 512.38l4.0 4.0M62.72 516.38l4.0 -4.0M65.74 512.37l4.0 4.0M65.74 516.37l4.0 -4.0M68.76 512.35l4.0 4.0M68.76 516.35l4.0 -4.0M71.78 512.34l4.0 4.0M71.78 516.34l4.0 -4.0M74.8 512.32l4.0 4.0M74.8 516.32l4.0 -4.0M77.82 512.31l4.0 4.0M77.82 516.31l4.0 -4.0M80.84 512.29l4.0 4.0M80.84 516.29l4.0 -4.0M83.86 512.27l4.0 4.0M83.86 516.27l4.0 -4.0M86.88 512.24l4.0 4.0M86.88 516.24l4.0 -4.0M89.9 512.22l4.0 4.0M89.9 516.22l4.0 -4.0M92.92 512.19l4.0 4.0M92.92 516.19l4.0 -4.0M95.94 512.15l4.0 4.0M95.94 516.15l4.0 -4.0M98.96 512.12l4.0 4.0M98.96 516.12l4.0 -4.0M101.99 512.07l4.0 4.0M101.99 516.07l4.0 -4.0M105.01 512.03l4.0 4.0M105.01 516.03l4.0 -4.0M108.03 511.98l4.0 4.0M108.03 515.98l4.0 -4.0M111.05 511.92l4.0 4.0M111.05 515.92l4.0 -4.0M114.07 511.85l4.0 4.0M114.07 515.85l4.0 -4.0M117.09 511.78l4.0 4.0M117.09 515.78l4.0 -4.0M120.11 511.7l4.0 4.0M120.11 515.7l4.0 -4.0M123.13 511.61l4.0 4.0M123.13 515.61l4.0 -4.0M126.15 511.51l4.0 4.0M126.15 515.51l4.0 -4.0M129.17 511.4l4.0 4.0M129.17 515.4l4.0 -4.0M132.19 511.27l4.0 4.0M132.19 515.27l4.0 -4.0M135.21 511.13l4.0 4.0M135.21 515.13l4.0 -4.0M138.23 510.97l4.0 4.0M138.23 514.97l4.0 -4.0M141.25 510.8l4.0 4.0M141.25 514.8l4.0 -4.0M144.27 510.61l4.0 4.0M144.27 514.61l4.0 -4.0M147.29 510.39l4.0 4.0M147.29 514.39l4.0 -4.0M150.31 510.15l4.0 4.0M150.31 514.15l4.0 -4.0M153.33 509.89l4.0 4.0M153.33 513.89l4.0 -4.0M156.35 509.59l4.0 4.0M156.35 513.59l4.0 -4.0M159.37 509.27l4.0 4.0M159.37 513.27l4.0 -4.0M162.39 508.91l4.0 4.0M162.39 512.91l4.0 -4.0M165.41 508.51l4.0 4.0M165.41 512.51l4.0 -4.0M168.43 508.06l4.0 4.0M168.43 512.06l4.0 -4.0M171.45 507.57l4.0 4.0M171.45 511.57l4.0 -4.0M174.47 507.03l4.0 4.0M174.47 511.03l4.0 -4.0M177.49 506.44l4.0 4.0M177.49 510.44l4.0 -4.0M180.51 505.78l4.0 4.0M180.51 509.78l4.0 -4.0M183.53 505.06l4.0 4.0M183.53 509.06l4.0 -4.0M186.55 504.28l4.0 4.0M186.55 508.28l4.0 -4.0M189.57 503.41l4.0 4.0M189.57 507.41l4.0 -4.0M192.59 502.46l4.0 4.0M192.59 506.46l4.0 -4.0M195.61 501.43l4.0 4.0M195.61 505.43l4.0 -4.0M198.63 500.3l4.0 4.0M198.63 504.3l4.0 -4.0M201.65 499.07l4.0 4.0M201.65 503.07l4.0 -4.0M204.67 497.74l4.0 4.0M204.67 501.74l4.0 -4.0M207.69 496.29l4.0 4.0M207.69 500.29l4.0 -4.0M210.71 494.72l4.0 4.0M210.71 498.72l4.0 -4.0M213.73 493.02l4.0 4.0M213.73 497.02l4.0 -4.0M216.75 491.18l4.0 4.0M216.75 495.18l4.0 -4.0M219.77 489.2l4.0 4.0M219.77 493.2l4.0 -4.0M222.79 487.06l4.0 4.0M222.79 491.06l4.0 -4.0M225.81 484.76l4.0 4.0M225.81 488.76l4.0 -4.0M228.83 482.29l4.0 4.0M228.83 486.29l4.0 -4.0M231.85 479.64l4.0 4.0M231.85 483.64l4.0 -4.0M234.87 476.8l4.0 4.0M234.87 480.8l4.0 -4.0M237.89 473.75l4.0 4.0M237.89 477.75l4.0 -4.0M240.91 470.5l4.0 4.0M240.91 474.5l4.0 -4.0M243.93 467.02l4.0 4.0M243.93 471.02l4.0 -4.0M246.95 463.3l4.0 4.0M246.95 467.3l4.0 -4.0M249.97 459.34l4.0 4.0M249.97 463.34l4.0 -4.0M253 455.11l4.0 4.0M253 459.11l4.0 -4.0M256.02 450.61l4.0 4.0M256.02 454.61l4.0 -4.0M259.04 445.82l4.0 4.0M259.04 449.82l4.0 -4.0M262.06 440.72l4.0 4.0M262.06 444.72l4.0 -4.0M265.08 435.3l4.0 4.0M265.08 439.3l4.0 -4.0M268.1 429.54l4.0 4.0M268.1 433.54l4.0 -4.0M271.12 423.42l4.0 4.0M271.12 427.42l4.0 -4.0M274.14 416.92l4.0 4.0M274.14 420.92l4.0 -4.0M277.16 410.02l4.0 4.0M277.16 414.02l4.0 -4.0M280.18 402.7l4.0 4.0M280.18 406.7l4.0 -4.0M283.2 394.93l4.0 4.0M283.2 398.93l4.0 -4.0M286.22 386.7l4.0 4.0M286.22 390.7l4.0 -4.0M289.24 377.96l4.0 4.0M289.24 381.96l4.0 -4.0M292.26 368.7l4.0 4.0M292.26 372.7l4.0 -4.0M295.28 358.89l4.0 4.0M295.28 362.89l4.0 -4.0M298.3 348.49l4.0 4.0M298.3 352.49l4.0 -4.0M301.32 337.48l4.0 4.0M301.32 341.48l4.0 -4.0M304.34 325.81l4.0 4.0M304.34 329.81l4.0 -4.0M307.36 313.45l4.0 4.0M307.36 317.45l4.0 -4.0" fill="none" stroke="#00FF00" stroke-width="1.35"/><path d="M46.97 529.61h5.3M49.62 526.96v5.3M49.99 529.6h5.3M52.64 526.95v5.3M53.01 529.59h5.3M55.66 526.94v5.3M56.03 529.57h5.3M58.68 526.92v5.3M59.05 529.56h5.3M61.7 526.91v5.3M62.07 529.54h5.3M64.72 526.89v5.3M65.09 529.51h5.3M67.74 526.86v5.3M68.11 529.49h5.3M70.76 526.84v5.3M71.13 529.46h5.3M73.78 526.81v5.3M74.15 529.43h5.3M76.8 526.78v5.3M77.17 529.4h5.3M79.82 526.75v5.3M80.19 529.36h5.3M82.84 526.71v5.3M83.21 529.32h5.3M85.86 526.67v5.3M86.23 529.28h5.3M88.88 526.63v5.3M89.25 529.22h5.3M91.9 526.57v5.3M92.27 529.17h5.3M94.92 526.52v5.3M95.29 529.1h5.3M97.94 526.45v5.3M98.31 529.03h5.3M100.96 526.38v5.3M101.34 528.95h5.3M103.99 526.3v5.3M104.36 528.86h5.3M107.01 526.21v5.3M107.38 528.76h5.3M110.03 526.11v5.3M110.4 528.65h5.3M113.05 526v5.3M113.42 528.53h5.3M116.07 525.88v5.3M116.44 528.39h5.3M119.09 525.74v5.3M119.46 528.24h5.3M122.11 525.59v5.3M122.48 528.08h5.3M125.13 525.43v5.3M125.5 527.89h5.3M128.15 525.24v5.3M128.52 527.69h5.3M131.17 525.04v5.3M131.54 527.46h5.3M134.19 524.81v5.3M134.56 527.21h5.3M137.21 524.56v5.3M137.58 526.93h5.3M140.23 524.28v5.3M140.6 526.63h5.3M143.25 523.98v5.3M143.62 526.29h5.3M146.27 523.64v5.3M146.64 525.92h5.3M149.29 523.27v5.3M149.66 525.52h5.3M152.31 522.87v5.3M152.68 525.08h5.3M155.33 522.43v5.3M155.7 524.59h5.3M158.35 521.94v5.3M158.72 524.07h5.3M161.37 521.42v5.3M161.74 523.49h5.3M164.39 520.84v5.3M164.76 522.86h5.3M167.41 520.21v5.3M167.78 522.18h5.3M170.43 519.53v5.3M170.8 521.44h5.3M173.45 518.79v5.3M173.82 520.64h5.3M176.47 517.99v5.3M176.84 519.77h5.3M179.49 517.12v5.3M179.86 518.83h5.3M182.51 516.18v5.3M182.88 517.82h5.3M185.53 515.17v5.3M185.9 516.73h5.3M188.55 514.08v5.3M188.92 515.56h5.3M191.57 512.91v5.3M191.94 514.3h5.3M194.59 511.65v5.3M194.96 512.95h5.3M197.61 510.3v5.3M197.98 511.5h5.3M200.63 508.85v5.3M201 509.95h5.3M203.65 507.3v5.3M204.02 508.29h5.3M206.67 505.64v5.3M207.04 506.52h5.3M209.69 503.87v5.3M210.06 504.63h5.3M212.71 501.98v5.3M213.08 502.61h5.3M215.73 499.96v5.3M216.1 500.46h5.3M218.75 497.81v5.3M219.12 498.17h5.3M221.77 495.52v5.3M222.14 495.73h5.3M224.79 493.08v5.3M225.16 493.14h5.3M227.81 490.49v5.3M228.18 490.38h5.3M230.83 487.73v5.3M231.2 487.45h5.3M233.85 484.8v5.3M234.22 484.33h5.3M236.87 481.68v5.3M237.24 481.03h5.3M239.89 478.38v5.3M240.26 477.52h5.3M242.91 474.87v5.3M243.28 473.79h5.3M245.93 471.14v5.3M246.3 469.84h5.3M248.95 467.19v5.3M249.32 465.65h5.3M251.97 463v5.3M252.35 461.21h5.3M255 458.56v5.3M255.37 456.5h5.3M258.02 453.85v5.3M258.39 451.51h5.3M261.04 448.86v5.3M261.41 446.22h5.3M264.06 443.57v5.3M264.43 440.62h5.3M267.08 437.97v5.3M267.45 434.69h5.3M270.1 432.04v5.3M270.47 428.4h5.3M273.12 425.75v5.3M273.49 421.74h5.3M276.14 419.09v5.3M276.51 414.7h5.3M279.16 412.05v5.3M279.53 407.23h5.3M282.18 404.58v5.3M282.55 399.33h5.3M285.2 396.68v5.3M285.57 390.96h5.3M288.22 388.31v5.3M288.59 382.11h5.3M291.24 379.46v5.3M291.61 372.74h5.3M294.26 370.09v5.3M294.63 362.81h5.3M297.28 360.16v5.3M297.65 352.31h5.3M300.3 349.66v5.3M300.67 341.2h5.3M303.32 338.55v5.3M303.69 329.44h5.3M306.34 326.79v5.3M306.71 316.99h5.3M309.36 314.34v5.3" fill="none" stroke="#FF0000" stroke-width="1.15"/><g clip-path="url(#clipd)"><path d="M403.2 544.28 L403.9 544.27 L404.6 544.25 L405.3 544.24 L406 544.22 L406.7 544.21 L407.4 544.2 L408.1 544.18 L408.8 544.17 L409.5 544.15 L410.2 544.14 L410.9 544.12 L411.6 544.11 L412.3 544.09 L413 544.07 L413.7 544.06 L414.4 544.04 L415.1 544.02 L415.8 544.01 L416.5 543.99 L417.2 543.97 L417.9 543.96 L418.6 543.94 L419.3 543.92 L420 543.9 L420.7 543.88 L421.4 543.86 L422.1 543.85 L422.8 543.83 L423.5 543.81 L424.2 543.79 L424.9 543.77 L425.6 543.75 L426.3 543.73 L427 543.71 L427.7 543.68 L428.4 543.66 L429.1 543.64 L429.8 543.62 L430.5 543.6 L431.2 543.57 L431.9 543.55 L432.6 543.53 L433.3 543.51 L434 543.48 L434.7 543.46 L435.4 543.43 L436.1 543.41 L436.8 543.38 L437.5 543.36 L438.2 543.33 L438.9 543.31 L439.6 543.28 L440.3 543.25 L441 543.23 L441.7 543.2 L442.4 543.17 L443.1 543.14 L443.8 543.11 L444.5 543.09 L445.2 543.06 L445.9 543.03 L446.6 543 L447.3 542.97 L448 542.93 L448.7 542.9 L449.4 542.87 L450.1 542.84 L450.8 542.81 L451.5 542.77 L452.2 542.74 L452.9 542.71 L453.6 542.67 L454.3 542.64 L455 542.6 L455.7 542.57 L456.4 542.53 L457.1 542.49 L457.8 542.46 L458.5 542.42 L459.2 542.38 L459.9 542.34 L460.6 542.3 L461.3 542.26 L462 542.22 L462.7 542.18 L463.4 542.14 L464.1 542.1 L464.8 542.06 L465.5 542.02 L466.2 541.97 L466.9 541.93 L467.6 541.88 L468.3 541.84 L469 541.79 L469.7 541.75 L470.4 541.7 L471.1 541.65 L471.8 541.6 L472.5 541.55 L473.2 541.5 L473.9 541.45 L474.6 541.4 L475.3 541.35 L476 541.3 L476.7 541.25 L477.4 541.19 L478.1 541.14 L478.8 541.08 L479.5 541.03 L480.2 540.97 L480.9 540.91 L481.6 540.86 L482.3 540.8 L483 540.74 L483.7 540.68 L484.4 540.62 L485.1 540.55 L485.8 540.49 L486.5 540.43 L487.2 540.36 L487.9 540.3 L488.6 540.23 L489.3 540.17 L490 540.1 L490.7 540.03 L491.4 539.96 L492.1 539.89 L492.8 539.82 L493.5 539.74 L494.2 539.67 L494.9 539.6 L495.6 539.52 L496.3 539.44 L497 539.37 L497.7 539.29 L498.4 539.21 L499.1 539.13 L499.8 539.05 L500.5 538.96 L501.2 538.88 L501.9 538.8 L502.6 538.71 L503.3 538.62 L504 538.53 L504.7 538.44 L505.4 538.35 L506.1 538.26 L506.8 538.17 L507.5 538.07 L508.2 537.98 L508.9 537.88 L509.6 537.78 L510.3 537.69 L511 537.58 L511.7 537.48 L512.4 537.38 L513.1 537.27 L513.8 537.17 L514.5 537.06 L515.2 536.95 L515.9 536.84 L516.6 536.73 L517.3 536.62 L518 536.5 L518.7 536.38 L519.4 536.27 L520.1 536.15 L520.8 536.03 L521.5 535.9 L522.2 535.78 L522.9 535.65 L523.6 535.53 L524.3 535.4 L525 535.27 L525.7 535.13 L526.4 535 L527.1 534.86 L527.8 534.72 L528.5 534.58 L529.2 534.44 L529.9 534.3 L530.6 534.15 L531.3 534.01 L532 533.86 L532.7 533.71 L533.4 533.55 L534.1 533.4 L534.8 533.24 L535.5 533.08 L536.2 532.92 L536.9 532.75 L537.6 532.59 L538.3 532.42 L539 532.25 L539.7 532.08 L540.4 531.9 L541.1 531.73 L541.8 531.55 L542.5 531.36 L543.2 531.18 L543.9 530.99 L544.6 530.8 L545.3 530.61 L546 530.42 L546.7 530.22 L547.4 530.02 L548.1 529.82 L548.8 529.62 L549.5 529.41 L550.2 529.2 L550.9 528.98 L551.6 528.77 L552.3 528.55 L553 528.33 L553.7 528.1 L554.4 527.88 L555.1 527.65 L555.8 527.41 L556.5 527.18 L557.2 526.94 L557.9 526.69 L558.6 526.45 L559.3 526.2 L560 525.95 L560.7 525.69 L561.4 525.43 L562.1 525.17 L562.8 524.9 L563.5 524.63 L564.2 524.36 L564.9 524.08 L565.6 523.8 L566.3 523.52 L567 523.23 L567.7 522.94 L568.4 522.64 L569.1 522.34 L569.8 522.04 L570.5 521.73 L571.2 521.42 L571.9 521.1 L572.6 520.78 L573.3 520.46 L574 520.13 L574.7 519.8 L575.4 519.46 L576.1 519.12 L576.8 518.77 L577.5 518.42 L578.2 518.07 L578.9 517.71 L579.6 517.34 L580.3 516.97 L581 516.6 L581.7 516.22 L582.4 515.83 L583.1 515.44 L583.8 515.05 L584.5 514.65 L585.2 514.24 L585.9 513.83 L586.6 513.42 L587.3 512.99 L588 512.57 L588.7 512.13 L589.4 511.7 L590.1 511.25 L590.8 510.8 L591.5 510.34 L592.2 509.88 L592.9 509.41 L593.6 508.94 L594.3 508.46 L595 507.97 L595.7 507.48 L596.4 506.98 L597.1 506.47 L597.8 505.96 L598.5 505.44 L599.2 504.91 L599.9 504.38 L600.6 503.83 L601.3 503.29 L602 502.73 L602.7 502.17 L603.4 501.6 L604.1 501.02 L604.8 500.43 L605.5 499.84 L606.2 499.24 L606.9 498.63 L607.6 498.01 L608.3 497.39 L609 496.75 L609.7 496.11 L610.4 495.46 L611.1 494.8 L611.8 494.13 L612.5 493.46 L613.2 492.77 L613.9 492.08 L614.6 491.37 L615.3 490.66 L616 489.94 L616.7 489.21 L617.4 488.46 L618.1 487.71 L618.8 486.95 L619.5 486.18 L620.2 485.4 L620.9 484.61 L621.6 483.8 L622.3 482.99 L623 482.17 L623.7 481.33 L624.4 480.48 L625.1 479.63 L625.8 478.76 L626.5 477.88 L627.2 476.99 L627.9 476.08 L628.6 475.17 L629.3 474.24 L630 473.3 L630.7 472.35 L631.4 471.38 L632.1 470.41 L632.8 469.42 L633.5 468.41 L634.2 467.4 L634.9 466.37 L635.6 465.32 L636.3 464.26 L637 463.19 L637.7 462.11 L638.4 461.01 L639.1 459.89 L639.8 458.76 L640.5 457.62 L641.2 456.46 L641.9 455.28 L642.6 454.09 L643.3 452.89 L644 451.67 L644.7 450.43 L645.4 449.17 L646.1 447.9 L646.8 446.61 L647.5 445.31 L648.2 443.99 L648.9 442.65 L649.6 441.29 L650.3 439.91 L651 438.52 L651.7 437.11 L652.4 435.68 L653.1 434.23 L653.8 432.76 L654.5 431.27 L655.2 429.76 L655.9 428.23 L656.6 426.69 L657.3 425.12 L658 423.53 L658.7 421.92 L659.4 420.29 L660.1 418.63 L660.8 416.96 L661.5 415.26 L662.2 413.54 L662.9 411.8 L663.6 410.03 L664.3 408.24 L665 406.43 L665.7 404.59 L666.4 402.73 L667.1 400.85 L667.8 398.94 L668.5 397 L669.2 395.04 L669.9 393.05 L670.6 391.04 L671.3 389 L672 386.93 L672.7 384.84 L673.4 382.72 L674.1 380.57 L674.8 378.39 L675.5 376.18 L676.2 373.95 L676.9 371.68 L677.6 369.38 L678.3 367.06 L679 364.7 L679.7 362.31 L680.4 359.89 L681.1 357.44 L681.8 354.96 L682.5 352.44" fill="none" stroke="#000" stroke-width="1.0"/><path d="M403.2 533.59 L403.9 533.59 L404.6 533.59 L405.3 533.59 L406 533.59 L406.7 533.58 L407.4 533.58 L408.1 533.58 L408.8 533.58 L409.5 533.58 L410.2 533.58 L410.9 533.58 L411.6 533.57 L412.3 533.57 L413 533.57 L413.7 533.57 L414.4 533.57 L415.1 533.57 L415.8 533.56 L416.5 533.56 L417.2 533.56 L417.9 533.56 L418.6 533.56 L419.3 533.55 L420 533.55 L420.7 533.55 L421.4 533.55 L422.1 533.54 L422.8 533.54 L423.5 533.54 L424.2 533.54 L424.9 533.53 L425.6 533.53 L426.3 533.53 L427 533.53 L427.7 533.52 L428.4 533.52 L429.1 533.52 L429.8 533.51 L430.5 533.51 L431.2 533.51 L431.9 533.5 L432.6 533.5 L433.3 533.5 L434 533.49 L434.7 533.49 L435.4 533.49 L436.1 533.48 L436.8 533.48 L437.5 533.47 L438.2 533.47 L438.9 533.47 L439.6 533.46 L440.3 533.46 L441 533.45 L441.7 533.45 L442.4 533.44 L443.1 533.44 L443.8 533.43 L444.5 533.43 L445.2 533.42 L445.9 533.42 L446.6 533.41 L447.3 533.4 L448 533.4 L448.7 533.39 L449.4 533.38 L450.1 533.38 L450.8 533.37 L451.5 533.36 L452.2 533.36 L452.9 533.35 L453.6 533.34 L454.3 533.34 L455 533.33 L455.7 533.32 L456.4 533.31 L457.1 533.3 L457.8 533.29 L458.5 533.28 L459.2 533.28 L459.9 533.27 L460.6 533.26 L461.3 533.25 L462 533.24 L462.7 533.23 L463.4 533.22 L464.1 533.2 L464.8 533.19 L465.5 533.18 L466.2 533.17 L466.9 533.16 L467.6 533.14 L468.3 533.13 L469 533.12 L469.7 533.11 L470.4 533.09 L471.1 533.08 L471.8 533.06 L472.5 533.05 L473.2 533.03 L473.9 533.02 L474.6 533 L475.3 532.98 L476 532.97 L476.7 532.95 L477.4 532.93 L478.1 532.92 L478.8 532.9 L479.5 532.88 L480.2 532.86 L480.9 532.84 L481.6 532.82 L482.3 532.8 L483 532.77 L483.7 532.75 L484.4 532.73 L485.1 532.71 L485.8 532.68 L486.5 532.66 L487.2 532.63 L487.9 532.61 L488.6 532.58 L489.3 532.56 L490 532.53 L490.7 532.5 L491.4 532.47 L492.1 532.44 L492.8 532.41 L493.5 532.38 L494.2 532.35 L494.9 532.32 L495.6 532.28 L496.3 532.25 L497 532.21 L497.7 532.18 L498.4 532.14 L499.1 532.1 L499.8 532.06 L500.5 532.03 L501.2 531.99 L501.9 531.94 L502.6 531.9 L503.3 531.86 L504 531.81 L504.7 531.77 L505.4 531.72 L506.1 531.68 L506.8 531.63 L507.5 531.58 L508.2 531.53 L508.9 531.48 L509.6 531.42 L510.3 531.37 L511 531.31 L511.7 531.26 L512.4 531.2 L513.1 531.14 L513.8 531.08 L514.5 531.02 L515.2 530.96 L515.9 530.89 L516.6 530.82 L517.3 530.76 L518 530.69 L518.7 530.62 L519.4 530.55 L520.1 530.47 L520.8 530.4 L521.5 530.32 L522.2 530.24 L522.9 530.16 L523.6 530.08 L524.3 530 L525 529.91 L525.7 529.83 L526.4 529.74 L527.1 529.65 L527.8 529.55 L528.5 529.46 L529.2 529.36 L529.9 529.27 L530.6 529.17 L531.3 529.06 L532 528.96 L532.7 528.85 L533.4 528.74 L534.1 528.63 L534.8 528.52 L535.5 528.41 L536.2 528.29 L536.9 528.17 L537.6 528.05 L538.3 527.92 L539 527.8 L539.7 527.67 L540.4 527.54 L541.1 527.4 L541.8 527.27 L542.5 527.13 L543.2 526.98 L543.9 526.84 L544.6 526.69 L545.3 526.54 L546 526.39 L546.7 526.24 L547.4 526.08 L548.1 525.92 L548.8 525.75 L549.5 525.59 L550.2 525.42 L550.9 525.24 L551.6 525.07 L552.3 524.89 L553 524.71 L553.7 524.52 L554.4 524.33 L555.1 524.14 L555.8 523.95 L556.5 523.75 L557.2 523.55 L557.9 523.34 L558.6 523.13 L559.3 522.92 L560 522.7 L560.7 522.48 L561.4 522.26 L562.1 522.03 L562.8 521.8 L563.5 521.57 L564.2 521.33 L564.9 521.09 L565.6 520.84 L566.3 520.59 L567 520.34 L567.7 520.08 L568.4 519.82 L569.1 519.55 L569.8 519.28 L570.5 519 L571.2 518.72 L571.9 518.44 L572.6 518.15 L573.3 517.86 L574 517.56 L574.7 517.26 L575.4 516.95 L576.1 516.64 L576.8 516.32 L577.5 516 L578.2 515.67 L578.9 515.34 L579.6 515.01 L580.3 514.66 L581 514.32 L581.7 513.96 L582.4 513.61 L583.1 513.25 L583.8 512.88 L584.5 512.5 L585.2 512.12 L585.9 511.74 L586.6 511.35 L587.3 510.95 L588 510.55 L588.7 510.14 L589.4 509.73 L590.1 509.31 L590.8 508.88 L591.5 508.45 L592.2 508.01 L592.9 507.57 L593.6 507.11 L594.3 506.66 L595 506.19 L595.7 505.72 L596.4 505.24 L597.1 504.76 L597.8 504.26 L598.5 503.77 L599.2 503.26 L599.9 502.75 L600.6 502.22 L601.3 501.7 L602 501.16 L602.7 500.62 L603.4 500.07 L604.1 499.51 L604.8 498.94 L605.5 498.37 L606.2 497.78 L606.9 497.19 L607.6 496.6 L608.3 495.99 L609 495.37 L609.7 494.75 L610.4 494.11 L611.1 493.47 L611.8 492.82 L612.5 492.16 L613.2 491.49 L613.9 490.81 L614.6 490.13 L615.3 489.43 L616 488.72 L616.7 488.01 L617.4 487.28 L618.1 486.54 L618.8 485.8 L619.5 485.04 L620.2 484.27 L620.9 483.49 L621.6 482.71 L622.3 481.91 L623 481.1 L623.7 480.28 L624.4 479.44 L625.1 478.6 L625.8 477.74 L626.5 476.88 L627.2 476 L627.9 475.11 L628.6 474.21 L629.3 473.29 L630 472.36 L630.7 471.42 L631.4 470.47 L632.1 469.5 L632.8 468.53 L633.5 467.53 L634.2 466.53 L634.9 465.51 L635.6 464.48 L636.3 463.43 L637 462.37 L637.7 461.29 L638.4 460.2 L639.1 459.1 L639.8 457.98 L640.5 456.85 L641.2 455.7 L641.9 454.53 L642.6 453.35 L643.3 452.15 L644 450.94 L644.7 449.71 L645.4 448.47 L646.1 447.21 L646.8 445.93 L647.5 444.63 L648.2 443.32 L648.9 441.99 L649.6 440.64 L650.3 439.27 L651 437.88 L651.7 436.48 L652.4 435.06 L653.1 433.62 L653.8 432.15 L654.5 430.67 L655.2 429.17 L655.9 427.65 L656.6 426.11 L657.3 424.55 L658 422.97 L658.7 421.37 L659.4 419.74 L660.1 418.1 L660.8 416.43 L661.5 414.74 L662.2 413.03 L662.9 411.29 L663.6 409.53 L664.3 407.75 L665 405.94 L665.7 404.11 L666.4 402.26 L667.1 400.38 L667.8 398.47 L668.5 396.54 L669.2 394.59 L669.9 392.61 L670.6 390.6 L671.3 388.57 L672 386.51 L672.7 384.42 L673.4 382.3 L674.1 380.16 L674.8 377.98 L675.5 375.78 L676.2 373.55 L676.9 371.29 L677.6 369 L678.3 366.68 L679 364.32 L679.7 361.94 L680.4 359.53 L681.1 357.08 L681.8 354.6 L682.5 352.09" fill="none" stroke="#FF30FF" stroke-width="1.5" stroke-dasharray="7.5 4.5"/></g><path d="M401 452.15L406 454.85L401 457.55ZM404.01 452.15L409.01 454.85L404.01 457.55ZM407.01 452.15L412.01 454.85L407.01 457.55ZM410.01 452.15L415.01 454.85L410.01 457.55ZM413.02 452.15L418.02 454.85L413.02 457.55ZM416.02 452.15L421.02 454.85L416.02 457.55ZM419.02 452.15L424.02 454.85L419.02 457.55ZM422.03 452.14L427.03 454.84L422.03 457.54ZM425.03 452.14L430.03 454.84L425.03 457.54ZM428.03 452.14L433.03 454.84L428.03 457.54ZM431.04 452.14L436.04 454.84L431.04 457.54ZM434.04 452.14L439.04 454.84L434.04 457.54ZM437.04 452.14L442.04 454.84L437.04 457.54ZM440.05 452.13L445.05 454.83L440.05 457.53ZM443.05 452.13L448.05 454.83L443.05 457.53ZM446.05 452.13L451.05 454.83L446.05 457.53ZM449.06 452.12L454.06 454.82L449.06 457.52ZM452.06 452.12L457.06 454.82L452.06 457.52ZM455.06 452.11L460.06 454.81L455.06 457.51ZM458.06 452.11L463.06 454.81L458.06 457.51ZM461.07 452.1L466.07 454.8L461.07 457.5ZM464.07 452.1L469.07 454.8L464.07 457.5ZM467.07 452.09L472.07 454.79L467.07 457.49ZM470.08 452.08L475.08 454.78L470.08 457.48ZM473.08 452.07L478.08 454.77L473.08 457.47ZM476.08 452.06L481.08 454.76L476.08 457.46ZM479.09 452.05L484.09 454.75L479.09 457.45ZM482.09 452.04L487.09 454.74L482.09 457.44ZM485.09 452.02L490.09 454.72L485.09 457.42ZM488.1 452.01L493.1 454.71L488.1 457.41ZM491.1 451.99L496.1 454.69L491.1 457.39ZM494.1 451.97L499.1 454.67L494.1 457.37ZM497.11 451.95L502.11 454.65L497.11 457.35ZM500.11 451.92L505.11 454.62L500.11 457.32ZM503.11 451.89L508.11 454.59L503.11 457.29ZM506.12 451.86L511.12 454.56L506.12 457.26ZM509.12 451.82L514.12 454.52L509.12 457.22ZM512.12 451.79L517.12 454.49L512.12 457.19ZM515.13 451.74L520.13 454.44L515.13 457.14ZM518.13 451.69L523.13 454.39L518.13 457.09ZM521.13 451.64L526.13 454.34L521.13 457.04ZM524.13 451.57L529.13 454.27L524.13 456.97ZM527.14 451.5L532.14 454.2L527.14 456.9ZM530.14 451.43L535.14 454.13L530.14 456.83ZM533.14 451.34L538.14 454.04L533.14 456.74ZM536.15 451.24L541.15 453.94L536.15 456.64ZM539.15 451.13L544.15 453.83L539.15 456.53ZM542.15 451.01L547.15 453.71L542.15 456.41ZM545.16 450.88L550.16 453.58L545.16 456.28ZM548.16 450.73L553.16 453.43L548.16 456.13ZM551.16 450.56L556.16 453.26L551.16 455.96ZM554.17 450.37L559.17 453.07L554.17 455.77ZM557.17 450.16L562.17 452.86L557.17 455.56ZM560.17 449.92L565.17 452.62L560.17 455.32ZM563.18 449.66L568.18 452.36L563.18 455.06ZM566.18 449.36L571.18 452.06L566.18 454.76ZM569.18 449.04L574.18 451.74L569.18 454.44ZM572.19 448.67L577.19 451.37L572.19 454.07ZM575.19 448.26L580.19 450.96L575.19 453.66ZM578.19 447.81L583.19 450.51L578.19 453.21ZM581.2 447.3L586.2 450L581.2 452.7ZM584.2 446.74L589.2 449.44L584.2 452.14ZM587.2 446.12L592.2 448.82L587.2 451.52ZM590.2 445.42L595.2 448.12L590.2 450.82ZM593.21 444.65L598.21 447.35L593.21 450.05ZM596.21 443.79L601.21 446.49L596.21 449.19ZM599.21 442.84L604.21 445.54L599.21 448.24ZM602.22 441.78L607.22 444.48L602.22 447.18ZM605.22 440.62L610.22 443.32L605.22 446.02ZM608.22 439.32L613.22 442.02L608.22 444.72ZM611.23 437.9L616.23 440.6L611.23 443.3ZM614.23 436.32L619.23 439.02L614.23 441.72ZM617.23 434.59L622.23 437.29L617.23 439.99ZM620.24 432.68L625.24 435.38L620.24 438.08ZM623.24 430.58L628.24 433.28L623.24 435.98ZM626.24 428.28L631.24 430.98L626.24 433.68ZM629.25 425.76L634.25 428.46L629.25 431.16ZM632.25 422.99L637.25 425.69L632.25 428.39ZM635.25 419.98L640.25 422.68L635.25 425.38ZM638.26 416.68L643.26 419.38L638.26 422.08ZM641.26 413.1L646.26 415.8L641.26 418.5ZM644.26 409.2L649.26 411.9L644.26 414.6ZM647.27 404.97L652.27 407.67L647.27 410.37ZM650.27 400.38L655.27 403.08L650.27 405.78ZM653.27 395.41L658.27 398.11L653.27 400.81ZM656.27 390.04L661.27 392.74L656.27 395.44ZM659.28 384.25L664.28 386.95L659.28 389.65ZM662.28 378L667.28 380.7L662.28 383.4ZM665.28 371.28L670.28 373.98L665.28 376.68ZM668.29 364.06L673.29 366.76L668.29 369.46ZM671.29 356.31L676.29 359.01L671.29 361.71ZM674.29 348L679.29 350.7L674.29 353.4ZM677.3 339.11L682.3 341.81L677.3 344.51ZM680.3 329.59L685.3 332.29L680.3 334.99Z" fill="none" stroke="#D95319" stroke-width="1.1"/><path d="M400.5 466.36a2.7 2.7 0 1 0 5.4 0a2.7 2.7 0 1 0 -5.4 0M403.51 466.36a2.7 2.7 0 1 0 5.4 0a2.7 2.7 0 1 0 -5.4 0M406.51 466.36a2.7 2.7 0 1 0 5.4 0a2.7 2.7 0 1 0 -5.4 0M409.51 466.36a2.7 2.7 0 1 0 5.4 0a2.7 2.7 0 1 0 -5.4 0M412.52 466.36a2.7 2.7 0 1 0 5.4 0a2.7 2.7 0 1 0 -5.4 0M415.52 466.36a2.7 2.7 0 1 0 5.4 0a2.7 2.7 0 1 0 -5.4 0M418.52 466.35a2.7 2.7 0 1 0 5.4 0a2.7 2.7 0 1 0 -5.4 0M421.53 466.35a2.7 2.7 0 1 0 5.4 0a2.7 2.7 0 1 0 -5.4 0M424.53 466.35a2.7 2.7 0 1 0 5.4 0a2.7 2.7 0 1 0 -5.4 0M427.53 466.35a2.7 2.7 0 1 0 5.4 0a2.7 2.7 0 1 0 -5.4 0M430.54 466.35a2.7 2.7 0 1 0 5.4 0a2.7 2.7 0 1 0 -5.4 0M433.54 466.34a2.7 2.7 0 1 0 5.4 0a2.7 2.7 0 1 0 -5.4 0M436.54 466.34a2.7 2.7 0 1 0 5.4 0a2.7 2.7 0 1 0 -5.4 0M439.55 466.34a2.7 2.7 0 1 0 5.4 0a2.7 2.7 0 1 0 -5.4 0M442.55 466.33a2.7 2.7 0 1 0 5.4 0a2.7 2.7 0 1 0 -5.4 0M445.55 466.33a2.7 2.7 0 1 0 5.4 0a2.7 2.7 0 1 0 -5.4 0M448.56 466.33a2.7 2.7 0 1 0 5.4 0a2.7 2.7 0 1 0 -5.4 0M451.56 466.32a2.7 2.7 0 1 0 5.4 0a2.7 2.7 0 1 0 -5.4 0M454.56 466.32a2.7 2.7 0 1 0 5.4 0a2.7 2.7 0 1 0 -5.4 0M457.56 466.31a2.7 2.7 0 1 0 5.4 0a2.7 2.7 0 1 0 -5.4 0M460.57 466.3a2.7 2.7 0 1 0 5.4 0a2.7 2.7 0 1 0 -5.4 0M463.57 466.3a2.7 2.7 0 1 0 5.4 0a2.7 2.7 0 1 0 -5.4 0M466.57 466.29a2.7 2.7 0 1 0 5.4 0a2.7 2.7 0 1 0 -5.4 0M469.58 466.28a2.7 2.7 0 1 0 5.4 0a2.7 2.7 0 1 0 -5.4 0M472.58 466.27a2.7 2.7 0 1 0 5.4 0a2.7 2.7 0 1 0 -5.4 0M475.58 466.26a2.7 2.7 0 1 0 5.4 0a2.7 2.7 0 1 0 -5.4 0M478.59 466.24a2.7 2.7 0 1 0 5.4 0a2.7 2.7 0 1 0 -5.4 0M481.59 466.23a2.7 2.7 0 1 0 5.4 0a2.7 2.7 0 1 0 -5.4 0M484.59 466.21a2.7 2.7 0 1 0 5.4 0a2.7 2.7 0 1 0 -5.4 0M487.6 466.19a2.7 2.7 0 1 0 5.4 0a2.7 2.7 0 1 0 -5.4 0M490.6 466.17a2.7 2.7 0 1 0 5.4 0a2.7 2.7 0 1 0 -5.4 0M493.6 466.15a2.7 2.7 0 1 0 5.4 0a2.7 2.7 0 1 0 -5.4 0M496.61 466.12a2.7 2.7 0 1 0 5.4 0a2.7 2.7 0 1 0 -5.4 0M499.61 466.1a2.7 2.7 0 1 0 5.4 0a2.7 2.7 0 1 0 -5.4 0M502.61 466.06a2.7 2.7 0 1 0 5.4 0a2.7 2.7 0 1 0 -5.4 0M505.62 466.03a2.7 2.7 0 1 0 5.4 0a2.7 2.7 0 1 0 -5.4 0M508.62 465.99a2.7 2.7 0 1 0 5.4 0a2.7 2.7 0 1 0 -5.4 0M511.62 465.94a2.7 2.7 0 1 0 5.4 0a2.7 2.7 0 1 0 -5.4 0M514.63 465.89a2.7 2.7 0 1 0 5.4 0a2.7 2.7 0 1 0 -5.4 0M517.63 465.83a2.7 2.7 0 1 0 5.4 0a2.7 2.7 0 1 0 -5.4 0M520.63 465.77a2.7 2.7 0 1 0 5.4 0a2.7 2.7 0 1 0 -5.4 0M523.63 465.7a2.7 2.7 0 1 0 5.4 0a2.7 2.7 0 1 0 -5.4 0M526.64 465.62a2.7 2.7 0 1 0 5.4 0a2.7 2.7 0 1 0 -5.4 0M529.64 465.53a2.7 2.7 0 1 0 5.4 0a2.7 2.7 0 1 0 -5.4 0M532.64 465.43a2.7 2.7 0 1 0 5.4 0a2.7 2.7 0 1 0 -5.4 0M535.65 465.32a2.7 2.7 0 1 0 5.4 0a2.7 2.7 0 1 0 -5.4 0M538.65 465.2a2.7 2.7 0 1 0 5.4 0a2.7 2.7 0 1 0 -5.4 0M541.65 465.06a2.7 2.7 0 1 0 5.4 0a2.7 2.7 0 1 0 -5.4 0M544.66 464.9a2.7 2.7 0 1 0 5.4 0a2.7 2.7 0 1 0 -5.4 0M547.66 464.73a2.7 2.7 0 1 0 5.4 0a2.7 2.7 0 1 0 -5.4 0M550.66 464.54a2.7 2.7 0 1 0 5.4 0a2.7 2.7 0 1 0 -5.4 0M553.67 464.32a2.7 2.7 0 1 0 5.4 0a2.7 2.7 0 1 0 -5.4 0M556.67 464.08a2.7 2.7 0 1 0 5.4 0a2.7 2.7 0 1 0 -5.4 0M559.67 463.81a2.7 2.7 0 1 0 5.4 0a2.7 2.7 0 1 0 -5.4 0M562.68 463.52a2.7 2.7 0 1 0 5.4 0a2.7 2.7 0 1 0 -5.4 0M565.68 463.18a2.7 2.7 0 1 0 5.4 0a2.7 2.7 0 1 0 -5.4 0M568.68 462.81a2.7 2.7 0 1 0 5.4 0a2.7 2.7 0 1 0 -5.4 0M571.69 462.4a2.7 2.7 0 1 0 5.4 0a2.7 2.7 0 1 0 -5.4 0M574.69 461.93a2.7 2.7 0 1 0 5.4 0a2.7 2.7 0 1 0 -5.4 0M577.69 461.42a2.7 2.7 0 1 0 5.4 0a2.7 2.7 0 1 0 -5.4 0M580.7 460.85a2.7 2.7 0 1 0 5.4 0a2.7 2.7 0 1 0 -5.4 0M583.7 460.22a2.7 2.7 0 1 0 5.4 0a2.7 2.7 0 1 0 -5.4 0M586.7 459.51a2.7 2.7 0 1 0 5.4 0a2.7 2.7 0 1 0 -5.4 0M589.7 458.73a2.7 2.7 0 1 0 5.4 0a2.7 2.7 0 1 0 -5.4 0M592.71 457.86a2.7 2.7 0 1 0 5.4 0a2.7 2.7 0 1 0 -5.4 0M595.71 456.9a2.7 2.7 0 1 0 5.4 0a2.7 2.7 0 1 0 -5.4 0M598.71 455.84a2.7 2.7 0 1 0 5.4 0a2.7 2.7 0 1 0 -5.4 0M601.72 454.67a2.7 2.7 0 1 0 5.4 0a2.7 2.7 0 1 0 -5.4 0M604.72 453.37a2.7 2.7 0 1 0 5.4 0a2.7 2.7 0 1 0 -5.4 0M607.72 451.94a2.7 2.7 0 1 0 5.4 0a2.7 2.7 0 1 0 -5.4 0M610.73 450.36a2.7 2.7 0 1 0 5.4 0a2.7 2.7 0 1 0 -5.4 0M613.73 448.63a2.7 2.7 0 1 0 5.4 0a2.7 2.7 0 1 0 -5.4 0M616.73 446.73a2.7 2.7 0 1 0 5.4 0a2.7 2.7 0 1 0 -5.4 0M619.74 444.64a2.7 2.7 0 1 0 5.4 0a2.7 2.7 0 1 0 -5.4 0M622.74 442.35a2.7 2.7 0 1 0 5.4 0a2.7 2.7 0 1 0 -5.4 0M625.74 439.85a2.7 2.7 0 1 0 5.4 0a2.7 2.7 0 1 0 -5.4 0M628.75 437.12a2.7 2.7 0 1 0 5.4 0a2.7 2.7 0 1 0 -5.4 0M631.75 434.14a2.7 2.7 0 1 0 5.4 0a2.7 2.7 0 1 0 -5.4 0M634.75 430.9a2.7 2.7 0 1 0 5.4 0a2.7 2.7 0 1 0 -5.4 0M637.76 427.38a2.7 2.7 0 1 0 5.4 0a2.7 2.7 0 1 0 -5.4 0M640.76 423.56a2.7 2.7 0 1 0 5.4 0a2.7 2.7 0 1 0 -5.4 0M643.76 419.42a2.7 2.7 0 1 0 5.4 0a2.7 2.7 0 1 0 -5.4 0M646.77 414.94a2.7 2.7 0 1 0 5.4 0a2.7 2.7 0 1 0 -5.4 0M649.77 410.1a2.7 2.7 0 1 0 5.4 0a2.7 2.7 0 1 0 -5.4 0M652.77 404.89a2.7 2.7 0 1 0 5.4 0a2.7 2.7 0 1 0 -5.4 0M655.77 399.27a2.7 2.7 0 1 0 5.4 0a2.7 2.7 0 1 0 -5.4 0M658.78 393.23a2.7 2.7 0 1 0 5.4 0a2.7 2.7 0 1 0 -5.4 0M661.78 386.74a2.7 2.7 0 1 0 5.4 0a2.7 2.7 0 1 0 -5.4 0M664.78 379.77a2.7 2.7 0 1 0 5.4 0a2.7 2.7 0 1 0 -5.4 0M667.79 372.31a2.7 2.7 0 1 0 5.4 0a2.7 2.7 0 1 0 -5.4 0M670.79 364.32a2.7 2.7 0 1 0 5.4 0a2.7 2.7 0 1 0 -5.4 0M673.79 355.78a2.7 2.7 0 1 0 5.4 0a2.7 2.7 0 1 0 -5.4 0M676.8 346.65a2.7 2.7 0 1 0 5.4 0a2.7 2.7 0 1 0 -5.4 0M679.8 336.91a2.7 2.7 0 1 0 5.4 0a2.7 2.7 0 1 0 -5.4 0" fill="none" stroke="#0072BD" stroke-width="1.0"/><path d="M400.55 478.57h5.3M403.2 475.92v5.3M401.3 476.67l3.8 3.8M401.3 480.47l3.8 -3.8M403.56 478.57h5.3M406.21 475.92v5.3M404.31 476.67l3.8 3.8M404.31 480.47l3.8 -3.8M406.56 478.57h5.3M409.21 475.92v5.3M407.31 476.67l3.8 3.8M407.31 480.47l3.8 -3.8M409.56 478.57h5.3M412.21 475.92v5.3M410.31 476.67l3.8 3.8M410.31 480.47l3.8 -3.8M412.57 478.56h5.3M415.22 475.91v5.3M413.32 476.66l3.8 3.8M413.32 480.46l3.8 -3.8M415.57 478.56h5.3M418.22 475.91v5.3M416.32 476.66l3.8 3.8M416.32 480.46l3.8 -3.8M418.57 478.56h5.3M421.22 475.91v5.3M419.32 476.66l3.8 3.8M419.32 480.46l3.8 -3.8M421.58 478.56h5.3M424.23 475.91v5.3M422.33 476.66l3.8 3.8M422.33 480.46l3.8 -3.8M424.58 478.56h5.3M427.23 475.91v5.3M425.33 476.66l3.8 3.8M425.33 480.46l3.8 -3.8M427.58 478.55h5.3M430.23 475.9v5.3M428.33 476.65l3.8 3.8M428.33 480.45l3.8 -3.8M430.59 478.55h5.3M433.24 475.9v5.3M431.34 476.65l3.8 3.8M431.34 480.45l3.8 -3.8M433.59 478.55h5.3M436.24 475.9v5.3M434.34 476.65l3.8 3.8M434.34 480.45l3.8 -3.8M436.59 478.55h5.3M439.24 475.9v5.3M437.34 476.65l3.8 3.8M437.34 480.45l3.8 -3.8M439.6 478.54h5.3M442.25 475.89v5.3M440.35 476.64l3.8 3.8M440.35 480.44l3.8 -3.8M442.6 478.54h5.3M445.25 475.89v5.3M443.35 476.64l3.8 3.8M443.35 480.44l3.8 -3.8M445.6 478.53h5.3M448.25 475.88v5.3M446.35 476.63l3.8 3.8M446.35 480.43l3.8 -3.8M448.61 478.53h5.3M451.26 475.88v5.3M449.36 476.63l3.8 3.8M449.36 480.43l3.8 -3.8M451.61 478.52h5.3M454.26 475.87v5.3M452.36 476.62l3.8 3.8M452.36 480.42l3.8 -3.8M454.61 478.52h5.3M457.26 475.87v5.3M455.36 476.62l3.8 3.8M455.36 480.42l3.8 -3.8M457.61 478.51h5.3M460.26 475.86v5.3M458.36 476.61l3.8 3.8M458.36 480.41l3.8 -3.8M460.62 478.5h5.3M463.27 475.85v5.3M461.37 476.6l3.8 3.8M461.37 480.4l3.8 -3.8M463.62 478.49h5.3M466.27 475.84v5.3M464.37 476.59l3.8 3.8M464.37 480.39l3.8 -3.8M466.62 478.48h5.3M469.27 475.83v5.3M467.37 476.58l3.8 3.8M467.37 480.38l3.8 -3.8M469.63 478.47h5.3M472.28 475.82v5.3M470.38 476.57l3.8 3.8M470.38 480.37l3.8 -3.8M472.63 478.46h5.3M475.28 475.81v5.3M473.38 476.56l3.8 3.8M473.38 480.36l3.8 -3.8M475.63 478.45h5.3M478.28 475.8v5.3M476.38 476.55l3.8 3.8M476.38 480.35l3.8 -3.8M478.64 478.43h5.3M481.29 475.78v5.3M479.39 476.53l3.8 3.8M479.39 480.33l3.8 -3.8M481.64 478.41h5.3M484.29 475.76v5.3M482.39 476.51l3.8 3.8M482.39 480.31l3.8 -3.8M484.64 478.39h5.3M487.29 475.74v5.3M485.39 476.49l3.8 3.8M485.39 480.29l3.8 -3.8M487.65 478.37h5.3M490.3 475.72v5.3M488.4 476.47l3.8 3.8M488.4 480.27l3.8 -3.8M490.65 478.35h5.3M493.3 475.7v5.3M491.4 476.45l3.8 3.8M491.4 480.25l3.8 -3.8M493.65 478.32h5.3M496.3 475.67v5.3M494.4 476.42l3.8 3.8M494.4 480.22l3.8 -3.8M496.66 478.29h5.3M499.31 475.64v5.3M497.41 476.39l3.8 3.8M497.41 480.19l3.8 -3.8M499.66 478.26h5.3M502.31 475.61v5.3M500.41 476.36l3.8 3.8M500.41 480.16l3.8 -3.8M502.66 478.22h5.3M505.31 475.57v5.3M503.41 476.32l3.8 3.8M503.41 480.12l3.8 -3.8M505.67 478.17h5.3M508.32 475.52v5.3M506.42 476.27l3.8 3.8M506.42 480.07l3.8 -3.8M508.67 478.13h5.3M511.32 475.48v5.3M509.42 476.23l3.8 3.8M509.42 480.03l3.8 -3.8M511.67 478.07h5.3M514.32 475.42v5.3M512.42 476.17l3.8 3.8M512.42 479.97l3.8 -3.8M514.68 478.01h5.3M517.33 475.36v5.3M515.43 476.11l3.8 3.8M515.43 479.91l3.8 -3.8M517.68 477.95h5.3M520.33 475.3v5.3M518.43 476.05l3.8 3.8M518.43 479.85l3.8 -3.8M520.68 477.87h5.3M523.33 475.22v5.3M521.43 475.97l3.8 3.8M521.43 479.77l3.8 -3.8M523.68 477.79h5.3M526.33 475.14v5.3M524.43 475.89l3.8 3.8M524.43 479.69l3.8 -3.8M526.69 477.69h5.3M529.34 475.04v5.3M527.44 475.79l3.8 3.8M527.44 479.59l3.8 -3.8M529.69 477.59h5.3M532.34 474.94v5.3M530.44 475.69l3.8 3.8M530.44 479.49l3.8 -3.8M532.69 477.47h5.3M535.34 474.82v5.3M533.44 475.57l3.8 3.8M533.44 479.37l3.8 -3.8M535.7 477.34h5.3M538.35 474.69v5.3M536.45 475.44l3.8 3.8M536.45 479.24l3.8 -3.8M538.7 477.2h5.3M541.35 474.55v5.3M539.45 475.3l3.8 3.8M539.45 479.1l3.8 -3.8M541.7 477.03h5.3M544.35 474.38v5.3M542.45 475.13l3.8 3.8M542.45 478.93l3.8 -3.8M544.71 476.85h5.3M547.36 474.2v5.3M545.46 474.95l3.8 3.8M545.46 478.75l3.8 -3.8M547.71 476.65h5.3M550.36 474v5.3M548.46 474.75l3.8 3.8M548.46 478.55l3.8 -3.8M550.71 476.42h5.3M553.36 473.77v5.3M551.46 474.52l3.8 3.8M551.46 478.32l3.8 -3.8M553.72 476.17h5.3M556.37 473.52v5.3M554.47 474.27l3.8 3.8M554.47 478.07l3.8 -3.8M556.72 475.89h5.3M559.37 473.24v5.3M557.47 473.99l3.8 3.8M557.47 477.79l3.8 -3.8M559.72 475.58h5.3M562.37 472.93v5.3M560.47 473.68l3.8 3.8M560.47 477.48l3.8 -3.8M562.73 475.23h5.3M565.38 472.58v5.3M563.48 473.33l3.8 3.8M563.48 477.13l3.8 -3.8M565.73 474.84h5.3M568.38 472.19v5.3M566.48 472.94l3.8 3.8M566.48 476.74l3.8 -3.8M568.73 474.4h5.3M571.38 471.75v5.3M569.48 472.5l3.8 3.8M569.48 476.3l3.8 -3.8M571.74 473.92h5.3M574.39 471.27v5.3M572.49 472.02l3.8 3.8M572.49 475.82l3.8 -3.8M574.74 473.39h5.3M577.39 470.74v5.3M575.49 471.49l3.8 3.8M575.49 475.29l3.8 -3.8M577.74 472.79h5.3M580.39 470.14v5.3M578.49 470.89l3.8 3.8M578.49 474.69l3.8 -3.8M580.75 472.13h5.3M583.4 469.48v5.3M581.5 470.23l3.8 3.8M581.5 474.03l3.8 -3.8M583.75 471.4h5.3M586.4 468.75v5.3M584.5 469.5l3.8 3.8M584.5 473.3l3.8 -3.8M586.75 470.59h5.3M589.4 467.94v5.3M587.5 468.69l3.8 3.8M587.5 472.49l3.8 -3.8M589.75 469.7h5.3M592.4 467.05v5.3M590.5 467.8l3.8 3.8M590.5 471.6l3.8 -3.8M592.76 468.7h5.3M595.41 466.05v5.3M593.51 466.8l3.8 3.8M593.51 470.6l3.8 -3.8M595.76 467.61h5.3M598.41 464.96v5.3M596.51 465.71l3.8 3.8M596.51 469.51l3.8 -3.8M598.76 466.4h5.3M601.41 463.75v5.3M599.51 464.5l3.8 3.8M599.51 468.3l3.8 -3.8M601.77 465.07h5.3M604.42 462.42v5.3M602.52 463.17l3.8 3.8M602.52 466.97l3.8 -3.8M604.77 463.61h5.3M607.42 460.96v5.3M605.52 461.71l3.8 3.8M605.52 465.51l3.8 -3.8M607.77 462h5.3M610.42 459.35v5.3M608.52 460.1l3.8 3.8M608.52 463.9l3.8 -3.8M610.78 460.24h5.3M613.43 457.59v5.3M611.53 458.34l3.8 3.8M611.53 462.14l3.8 -3.8M613.78 458.31h5.3M616.43 455.66v5.3M614.53 456.41l3.8 3.8M614.53 460.21l3.8 -3.8M616.78 456.2h5.3M619.43 453.55v5.3M617.53 454.3l3.8 3.8M617.53 458.1l3.8 -3.8M619.79 453.9h5.3M622.44 451.25v5.3M620.54 452l3.8 3.8M620.54 455.8l3.8 -3.8M622.79 451.38h5.3M625.44 448.73v5.3M623.54 449.48l3.8 3.8M623.54 453.28l3.8 -3.8M625.79 448.65h5.3M628.44 446v5.3M626.54 446.75l3.8 3.8M626.54 450.55l3.8 -3.8M628.8 445.68h5.3M631.45 443.03v5.3M629.55 443.78l3.8 3.8M629.55 447.58l3.8 -3.8M631.8 442.45h5.3M634.45 439.8v5.3M632.55 440.55l3.8 3.8M632.55 444.35l3.8 -3.8M634.8 438.96h5.3M637.45 436.31v5.3M635.55 437.06l3.8 3.8M635.55 440.86l3.8 -3.8M637.81 435.18h5.3M640.46 432.53v5.3M638.56 433.28l3.8 3.8M638.56 437.08l3.8 -3.8M640.81 431.09h5.3M643.46 428.44v5.3M641.56 429.19l3.8 3.8M641.56 432.99l3.8 -3.8M643.81 426.69h5.3M646.46 424.04v5.3M644.56 424.79l3.8 3.8M644.56 428.59l3.8 -3.8M646.82 421.95h5.3M649.47 419.3v5.3M647.57 420.05l3.8 3.8M647.57 423.85l3.8 -3.8M649.82 416.85h5.3M652.47 414.2v5.3M650.57 414.95l3.8 3.8M650.57 418.75l3.8 -3.8M652.82 411.37h5.3M655.47 408.72v5.3M653.57 409.47l3.8 3.8M653.57 413.27l3.8 -3.8M655.82 405.49h5.3M658.47 402.84v5.3M656.57 403.59l3.8 3.8M656.57 407.39l3.8 -3.8M658.83 399.19h5.3M661.48 396.54v5.3M659.58 397.29l3.8 3.8M659.58 401.09l3.8 -3.8M661.83 392.45h5.3M664.48 389.8v5.3M662.58 390.55l3.8 3.8M662.58 394.35l3.8 -3.8M664.83 385.23h5.3M667.48 382.58v5.3M665.58 383.33l3.8 3.8M665.58 387.13l3.8 -3.8M667.84 377.53h5.3M670.49 374.88v5.3M668.59 375.63l3.8 3.8M668.59 379.43l3.8 -3.8M670.84 369.3h5.3M673.49 366.65v5.3M671.59 367.4l3.8 3.8M671.59 371.2l3.8 -3.8M673.84 360.53h5.3M676.49 357.88v5.3M674.59 358.63l3.8 3.8M674.59 362.43l3.8 -3.8M676.85 351.18h5.3M679.5 348.53v5.3M677.6 349.28l3.8 3.8M677.6 353.08l3.8 -3.8M679.85 341.22h5.3M682.5 338.57v5.3M680.6 339.32l3.8 3.8M680.6 343.12l3.8 -3.8" fill="none" stroke="#0000FF" stroke-width="1.1"/><path d="M401.2 489.79l4.0 4.0M401.2 493.79l4.0 -4.0M404.21 489.79l4.0 4.0M404.21 493.79l4.0 -4.0M407.21 489.78l4.0 4.0M407.21 493.78l4.0 -4.0M410.21 489.78l4.0 4.0M410.21 493.78l4.0 -4.0M413.22 489.78l4.0 4.0M413.22 493.78l4.0 -4.0M416.22 489.78l4.0 4.0M416.22 493.78l4.0 -4.0M419.22 489.78l4.0 4.0M419.22 493.78l4.0 -4.0M422.23 489.78l4.0 4.0M422.23 493.78l4.0 -4.0M425.23 489.77l4.0 4.0M425.23 493.77l4.0 -4.0M428.23 489.77l4.0 4.0M428.23 493.77l4.0 -4.0M431.24 489.77l4.0 4.0M431.24 493.77l4.0 -4.0M434.24 489.76l4.0 4.0M434.24 493.76l4.0 -4.0M437.24 489.76l4.0 4.0M437.24 493.76l4.0 -4.0M440.25 489.75l4.0 4.0M440.25 493.75l4.0 -4.0M443.25 489.75l4.0 4.0M443.25 493.75l4.0 -4.0M446.25 489.74l4.0 4.0M446.25 493.74l4.0 -4.0M449.26 489.74l4.0 4.0M449.26 493.74l4.0 -4.0M452.26 489.73l4.0 4.0M452.26 493.73l4.0 -4.0M455.26 489.72l4.0 4.0M455.26 493.72l4.0 -4.0M458.26 489.71l4.0 4.0M458.26 493.71l4.0 -4.0M461.27 489.7l4.0 4.0M461.27 493.7l4.0 -4.0M464.27 489.69l4.0 4.0M464.27 493.69l4.0 -4.0M467.27 489.68l4.0 4.0M467.27 493.68l4.0 -4.0M470.28 489.67l4.0 4.0M470.28 493.67l4.0 -4.0M473.28 489.65l4.0 4.0M473.28 493.65l4.0 -4.0M476.28 489.63l4.0 4.0M476.28 493.63l4.0 -4.0M479.29 489.61l4.0 4.0M479.29 493.61l4.0 -4.0M482.29 489.59l4.0 4.0M482.29 493.59l4.0 -4.0M485.29 489.57l4.0 4.0M485.29 493.57l4.0 -4.0M488.3 489.54l4.0 4.0M488.3 493.54l4.0 -4.0M491.3 489.51l4.0 4.0M491.3 493.51l4.0 -4.0M494.3 489.48l4.0 4.0M494.3 493.48l4.0 -4.0M497.31 489.44l4.0 4.0M497.31 493.44l4.0 -4.0M500.31 489.4l4.0 4.0M500.31 493.4l4.0 -4.0M503.31 489.35l4.0 4.0M503.31 493.35l4.0 -4.0M506.32 489.3l4.0 4.0M506.32 493.3l4.0 -4.0M509.32 489.24l4.0 4.0M509.32 493.24l4.0 -4.0M512.32 489.17l4.0 4.0M512.32 493.17l4.0 -4.0M515.33 489.1l4.0 4.0M515.33 493.1l4.0 -4.0M518.33 489.01l4.0 4.0M518.33 493.01l4.0 -4.0M521.33 488.92l4.0 4.0M521.33 492.92l4.0 -4.0M524.33 488.82l4.0 4.0M524.33 492.82l4.0 -4.0M527.34 488.7l4.0 4.0M527.34 492.7l4.0 -4.0M530.34 488.57l4.0 4.0M530.34 492.57l4.0 -4.0M533.34 488.43l4.0 4.0M533.34 492.43l4.0 -4.0M536.35 488.27l4.0 4.0M536.35 492.27l4.0 -4.0M539.35 488.09l4.0 4.0M539.35 492.09l4.0 -4.0M542.35 487.89l4.0 4.0M542.35 491.89l4.0 -4.0M545.36 487.66l4.0 4.0M545.36 491.66l4.0 -4.0M548.36 487.41l4.0 4.0M548.36 491.41l4.0 -4.0M551.36 487.13l4.0 4.0M551.36 491.13l4.0 -4.0M554.37 486.83l4.0 4.0M554.37 490.83l4.0 -4.0M557.37 486.48l4.0 4.0M557.37 490.48l4.0 -4.0M560.37 486.1l4.0 4.0M560.37 490.1l4.0 -4.0M563.38 485.67l4.0 4.0M563.38 489.67l4.0 -4.0M566.38 485.2l4.0 4.0M566.38 489.2l4.0 -4.0M569.38 484.68l4.0 4.0M569.38 488.68l4.0 -4.0M572.39 484.09l4.0 4.0M572.39 488.09l4.0 -4.0M575.39 483.45l4.0 4.0M575.39 487.45l4.0 -4.0M578.39 482.74l4.0 4.0M578.39 486.74l4.0 -4.0M581.4 481.95l4.0 4.0M581.4 485.95l4.0 -4.0M584.4 481.08l4.0 4.0M584.4 485.08l4.0 -4.0M587.4 480.12l4.0 4.0M587.4 484.12l4.0 -4.0M590.4 479.06l4.0 4.0M590.4 483.06l4.0 -4.0M593.41 477.9l4.0 4.0M593.41 481.9l4.0 -4.0M596.41 476.62l4.0 4.0M596.41 480.62l4.0 -4.0M599.41 475.22l4.0 4.0M599.41 479.22l4.0 -4.0M602.42 473.68l4.0 4.0M602.42 477.68l4.0 -4.0M605.42 472l4.0 4.0M605.42 476l4.0 -4.0M608.42 470.17l4.0 4.0M608.42 474.17l4.0 -4.0M611.43 468.16l4.0 4.0M611.43 472.16l4.0 -4.0M614.43 465.99l4.0 4.0M614.43 469.99l4.0 -4.0M617.43 463.62l4.0 4.0M617.43 467.62l4.0 -4.0M620.44 461.05l4.0 4.0M620.44 465.05l4.0 -4.0M623.44 458.27l4.0 4.0M623.44 462.27l4.0 -4.0M626.44 455.25l4.0 4.0M626.44 459.25l4.0 -4.0M629.45 452l4.0 4.0M629.45 456l4.0 -4.0M632.45 448.49l4.0 4.0M632.45 452.49l4.0 -4.0M635.45 444.71l4.0 4.0M635.45 448.71l4.0 -4.0M638.46 440.65l4.0 4.0M638.46 444.65l4.0 -4.0M641.46 436.28l4.0 4.0M641.46 440.28l4.0 -4.0M644.46 431.59l4.0 4.0M644.46 435.59l4.0 -4.0M647.47 426.57l4.0 4.0M647.47 430.57l4.0 -4.0M650.47 421.19l4.0 4.0M650.47 425.19l4.0 -4.0M653.47 415.44l4.0 4.0M653.47 419.44l4.0 -4.0M656.47 409.29l4.0 4.0M656.47 413.29l4.0 -4.0M659.48 402.73l4.0 4.0M659.48 406.73l4.0 -4.0M662.48 395.74l4.0 4.0M662.48 399.74l4.0 -4.0M665.48 388.28l4.0 4.0M665.48 392.28l4.0 -4.0M668.49 380.33l4.0 4.0M668.49 384.33l4.0 -4.0M671.49 371.88l4.0 4.0M671.49 375.88l4.0 -4.0M674.49 362.88l4.0 4.0M674.49 366.88l4.0 -4.0M677.5 353.32l4.0 4.0M677.5 357.32l4.0 -4.0M680.5 343.15l4.0 4.0M680.5 347.15l4.0 -4.0" fill="none" stroke="#00FF00" stroke-width="1.35"/><path d="M400.55 508.54h5.3M403.2 505.89v5.3M403.56 508.54h5.3M406.21 505.89v5.3M406.56 508.54h5.3M409.21 505.89v5.3M409.56 508.54h5.3M412.21 505.89v5.3M412.57 508.53h5.3M415.22 505.88v5.3M415.57 508.53h5.3M418.22 505.88v5.3M418.57 508.53h5.3M421.22 505.88v5.3M421.58 508.52h5.3M424.23 505.87v5.3M424.58 508.52h5.3M427.23 505.87v5.3M427.58 508.52h5.3M430.23 505.87v5.3M430.59 508.51h5.3M433.24 505.86v5.3M433.59 508.51h5.3M436.24 505.86v5.3M436.59 508.5h5.3M439.24 505.85v5.3M439.6 508.49h5.3M442.25 505.84v5.3M442.6 508.49h5.3M445.25 505.84v5.3M445.6 508.48h5.3M448.25 505.83v5.3M448.61 508.47h5.3M451.26 505.82v5.3M451.61 508.46h5.3M454.26 505.81v5.3M454.61 508.45h5.3M457.26 505.8v5.3M457.61 508.43h5.3M460.26 505.78v5.3M460.62 508.42h5.3M463.27 505.77v5.3M463.62 508.4h5.3M466.27 505.75v5.3M466.62 508.39h5.3M469.27 505.74v5.3M469.63 508.37h5.3M472.28 505.72v5.3M472.63 508.34h5.3M475.28 505.69v5.3M475.63 508.32h5.3M478.28 505.67v5.3M478.64 508.29h5.3M481.29 505.64v5.3M481.64 508.26h5.3M484.29 505.61v5.3M484.64 508.22h5.3M487.29 505.57v5.3M487.65 508.18h5.3M490.3 505.53v5.3M490.65 508.14h5.3M493.3 505.49v5.3M493.65 508.09h5.3M496.3 505.44v5.3M496.66 508.04h5.3M499.31 505.39v5.3M499.66 507.98h5.3M502.31 505.33v5.3M502.66 507.91h5.3M505.31 505.26v5.3M505.67 507.83h5.3M508.32 505.18v5.3M508.67 507.74h5.3M511.32 505.09v5.3M511.67 507.65h5.3M514.32 505v5.3M514.68 507.54h5.3M517.33 504.89v5.3M517.68 507.42h5.3M520.33 504.77v5.3M520.68 507.29h5.3M523.33 504.64v5.3M523.68 507.14h5.3M526.33 504.49v5.3M526.69 506.98h5.3M529.34 504.33v5.3M529.69 506.79h5.3M532.34 504.14v5.3M532.69 506.59h5.3M535.34 503.94v5.3M535.7 506.36h5.3M538.35 503.71v5.3M538.7 506.11h5.3M541.35 503.46v5.3M541.7 505.82h5.3M544.35 503.17v5.3M544.71 505.51h5.3M547.36 502.86v5.3M547.71 505.16h5.3M550.36 502.51v5.3M550.71 504.78h5.3M553.36 502.13v5.3M553.72 504.35h5.3M556.37 501.7v5.3M556.72 503.88h5.3M559.37 501.23v5.3M559.72 503.35h5.3M562.37 500.7v5.3M562.73 502.77h5.3M565.38 500.12v5.3M565.73 502.14h5.3M568.38 499.49v5.3M568.73 501.43h5.3M571.38 498.78v5.3M571.74 500.66h5.3M574.39 498.01v5.3M574.74 499.81h5.3M577.39 497.16v5.3M577.74 498.87h5.3M580.39 496.22v5.3M580.75 497.85h5.3M583.4 495.2v5.3M583.75 496.73h5.3M586.4 494.08v5.3M586.75 495.51h5.3M589.4 492.86v5.3M589.75 494.17h5.3M592.4 491.52v5.3M592.76 492.72h5.3M595.41 490.07v5.3M595.76 491.13h5.3M598.41 488.48v5.3M598.76 489.42h5.3M601.41 486.77v5.3M601.77 487.56h5.3M604.42 484.91v5.3M604.77 485.54h5.3M607.42 482.89v5.3M607.77 483.36h5.3M610.42 480.71v5.3M610.78 481.01h5.3M613.43 478.36v5.3M613.78 478.48h5.3M616.43 475.83v5.3M616.78 475.75h5.3M619.43 473.1v5.3M619.79 472.83h5.3M622.44 470.18v5.3M622.79 469.68h5.3M625.44 467.03v5.3M625.79 466.31h5.3M628.44 463.66v5.3M628.8 462.7h5.3M631.45 460.05v5.3M631.8 458.84h5.3M634.45 456.19v5.3M634.8 454.71h5.3M637.45 452.06v5.3M637.81 450.3h5.3M640.46 447.65v5.3M640.81 445.6h5.3M643.46 442.95v5.3M643.81 440.58h5.3M646.46 437.93v5.3M646.82 435.24h5.3M649.47 432.59v5.3M649.82 429.55h5.3M652.47 426.9v5.3M652.82 423.5h5.3M655.47 420.85v5.3M655.82 417.06h5.3M658.47 414.41v5.3M658.83 410.22h5.3M661.48 407.57v5.3M661.83 402.95h5.3M664.48 400.3v5.3M664.83 395.24h5.3M667.48 392.59v5.3M667.84 387.04h5.3M670.49 384.39v5.3M670.84 378.35h5.3M673.49 375.7v5.3M673.84 369.12h5.3M676.49 366.47v5.3M676.85 359.34h5.3M679.5 356.69v5.3M679.85 348.97h5.3M682.5 346.32v5.3" fill="none" stroke="#FF0000" stroke-width="1.15"/>
<text x="45.1" y="232.78" text-anchor="end" class="t" style="font-size:11.3px">10</text><text x="45.1" y="211.95" text-anchor="end" class="t" style="font-size:11.3px">20</text><text x="45.1" y="191.11" text-anchor="end" class="t" style="font-size:11.3px">30</text><text x="45.1" y="170.27" text-anchor="end" class="t" style="font-size:11.3px">40</text><text x="45.1" y="149.44" text-anchor="end" class="t" style="font-size:11.3px">50</text><text x="45.1" y="128.6" text-anchor="end" class="t" style="font-size:11.3px">60</text><text x="45.1" y="107.76" text-anchor="end" class="t" style="font-size:11.3px">70</text><text x="45.1" y="86.93" text-anchor="end" class="t" style="font-size:11.3px">80</text><text x="45.1" y="66.09" text-anchor="end" class="t" style="font-size:11.3px">90</text><text x="45.1" y="45.25" text-anchor="end" class="t" style="font-size:11.3px">100</text><text x="45.1" y="24.42" text-anchor="end" class="t" style="font-size:11.3px">110</text><text x="393.7" y="225.99" text-anchor="end" class="t" style="font-size:11.3px">10</text><text x="393.7" y="192.58" text-anchor="end" class="t" style="font-size:11.3px">20</text><text x="393.7" y="159.16" text-anchor="end" class="t" style="font-size:11.3px">30</text><text x="393.7" y="125.75" text-anchor="end" class="t" style="font-size:11.3px">40</text><text x="393.7" y="92.34" text-anchor="end" class="t" style="font-size:11.3px">50</text><text x="393.7" y="58.92" text-anchor="end" class="t" style="font-size:11.3px">60</text><text x="393.7" y="25.51" text-anchor="end" class="t" style="font-size:11.3px">70</text><text x="40.1" y="549.6" text-anchor="end" class="t" style="font-size:11.3px">0</text><text x="40.1" y="526.14" text-anchor="end" class="t" style="font-size:11.3px">1</text><text x="40.1" y="502.68" text-anchor="end" class="t" style="font-size:11.3px">2</text><text x="40.1" y="479.22" text-anchor="end" class="t" style="font-size:11.3px">3</text><text x="40.1" y="455.76" text-anchor="end" class="t" style="font-size:11.3px">4</text><text x="40.1" y="432.3" text-anchor="end" class="t" style="font-size:11.3px">5</text><text x="40.1" y="408.84" text-anchor="end" class="t" style="font-size:11.3px">6</text><text x="40.1" y="385.38" text-anchor="end" class="t" style="font-size:11.3px">7</text><text x="40.1" y="361.92" text-anchor="end" class="t" style="font-size:11.3px">8</text><text x="40.1" y="338.46" text-anchor="end" class="t" style="font-size:11.3px">9</text><text x="40.1" y="315" text-anchor="end" class="t" style="font-size:11.3px">10</text><text x="395.5" y="549.7" text-anchor="end" class="t" style="font-size:11.3px">0</text><text x="393.7" y="510.82" text-anchor="end" class="t" style="font-size:11.3px">10</text><text x="393.7" y="471.93" text-anchor="end" class="t" style="font-size:11.3px">20</text><text x="393.7" y="433.05" text-anchor="end" class="t" style="font-size:11.3px">30</text><text x="393.7" y="394.17" text-anchor="end" class="t" style="font-size:11.3px">40</text><text x="393.7" y="355.28" text-anchor="end" class="t" style="font-size:11.3px">50</text><text x="393.7" y="316.4" text-anchor="end" class="t" style="font-size:11.3px">60</text>
<text x="54.6" y="258.5" text-anchor="end" class="t">10</text><text x="54.8" y="251.7" class="s">2</text><text x="173.09" y="256.3" text-anchor="end" class="t">10</text><text x="174.39" y="251.7" class="s">3</text><text x="293.39" y="256.3" text-anchor="end" class="t">10</text><text x="294.69" y="251.7" class="s">4</text><text x="401.4" y="255.8" text-anchor="end" class="t">10</text><text x="402.7" y="251.2" class="s">2</text><text x="524" y="255.8" text-anchor="end" class="t">10</text><text x="525.3" y="251.2" class="s">3</text><text x="646.59" y="255.8" text-anchor="end" class="t">10</text><text x="647.89" y="251.2" class="s">4</text><text x="47.8" y="562.7" text-anchor="end" class="t">10</text><text x="49.1" y="558.1" class="s">2</text><text x="171.18" y="562.7" text-anchor="end" class="t">10</text><text x="172.48" y="558.1" class="s">3</text><text x="294.56" y="562.7" text-anchor="end" class="t">10</text><text x="295.86" y="558.1" class="s">4</text><text x="399.4" y="558.8" class="t">2</text><text x="522.58" y="562.8" text-anchor="end" class="t">10</text><text x="522.28" y="558.5" class="t">3</text><text x="645.27" y="562.8" text-anchor="end" class="t">10</text><text x="644.97" y="558.5" class="t">4</text>
<text x="194.2" y="279.8" text-anchor="middle" class="l">Frequency [kHz]</text><text transform="translate(20 122.2) rotate(-90)" text-anchor="middle" class="l" style="font-size:13.35px">Wavenumber [1/m]</text><text x="544.75" y="279.3" text-anchor="middle" class="l">Frequency [kHz]</text><text transform="translate(368.3 120.2) rotate(-90)" text-anchor="middle" class="l" style="font-size:12.5px">Wavenumber [1/m]</text><text x="191.15" y="586.2" text-anchor="middle" class="l">Frequency [kHz]</text><text transform="translate(20 420.3) rotate(-90)" text-anchor="middle" class="l" style="font-size:13.35px">Wavenumber [1/m]</text><text x="543.65" y="586.3" text-anchor="middle" class="l">Frequency [kHz]</text><text transform="translate(368.3 431.4) rotate(-90)" text-anchor="middle" class="l" style="font-size:12.5px">Wavenumber [1/m]</text><text x="-0.3" y="15.9" class="p">(a)</text><text x="351.9" y="15.9" class="p">(b)</text><text x="-0.2" y="310.8" class="p">(c)</text><text x="351.9" y="310.8" class="p">(d)</text>
</svg>
</body></html>
